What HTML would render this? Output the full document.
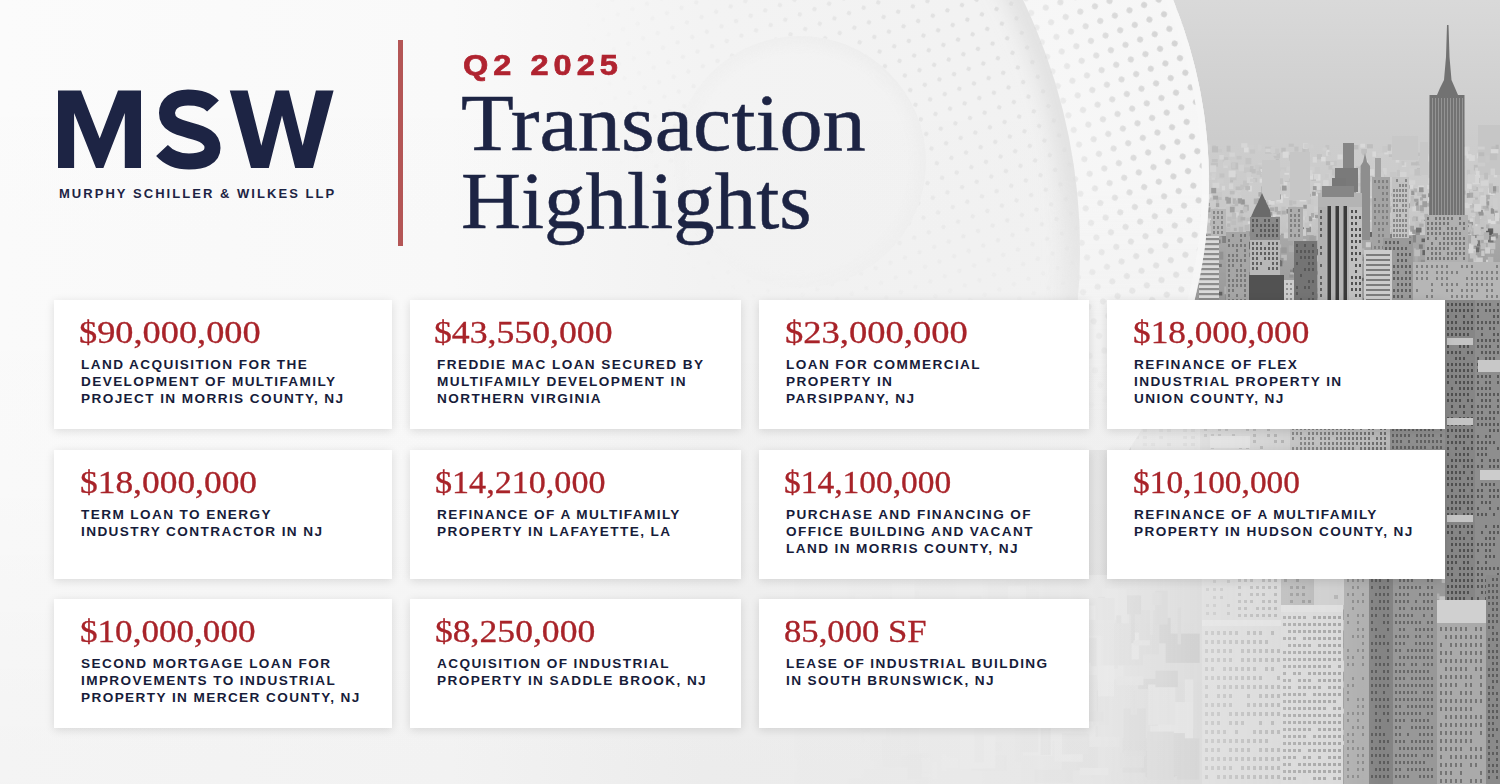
<!DOCTYPE html>
<html><head><meta charset="utf-8">
<style>
html,body{margin:0;padding:0;}
body{width:1500px;height:784px;overflow:hidden;position:relative;background:#f6f6f6;font-family:"Liberation Sans",sans-serif;}
#bg{position:absolute;left:0;top:0;width:1500px;height:784px;}
.abs{position:absolute;}
#msw{position:absolute;}
#firm{position:absolute;left:59px;top:186px;font-weight:bold;font-size:13px;letter-spacing:2.04px;color:#1d2444;white-space:nowrap;}
#rule{position:absolute;left:398px;top:40px;width:5px;height:206px;background:#b45656;}
#q2{position:absolute;left:463px;top:49px;font-weight:bold;font-size:29px;letter-spacing:4.5px;-webkit-text-stroke:0.7px #b02330;transform:scaleX(1.12);transform-origin:0 0;color:#b02330;white-space:nowrap;line-height:32px;}
#title{position:absolute;left:461px;top:84px;font-family:"Liberation Serif",serif;font-size:80px;line-height:78px;color:#1d2444;-webkit-text-stroke:0.5px #1d2444;white-space:nowrap;}
.card{position:absolute;background:#fff;box-shadow:0 2px 9px rgba(0,0,0,0.12);}
.amt{position:absolute;left:25px;top:16px;font-family:"Liberation Serif",serif;font-size:30.5px;transform-origin:0 0;line-height:34px;-webkit-text-stroke:0.3px #a82329;color:#a82329;white-space:nowrap;}
.desc{position:absolute;left:27px;top:56px;font-weight:bold;font-size:13.6px;line-height:17px;letter-spacing:1.4px;color:#171c3a;white-space:nowrap;}
</style></head>
<body>
<svg id="bg" width="1500" height="784" viewBox="0 0 1500 784"><defs>
<linearGradient id="basegrad" gradientUnits="userSpaceOnUse" x1="0" y1="0" x2="1500" y2="0">
 <stop offset="0" stop-color="#fbfbfb"/><stop offset="0.3" stop-color="#f9f9f9"/><stop offset="0.47" stop-color="#f3f3f3"/><stop offset="1" stop-color="#f0f0f0"/>
</linearGradient>
<linearGradient id="botgrad" x1="0" y1="0" x2="0" y2="1">
 <stop offset="0" stop-color="#000" stop-opacity="0"/><stop offset="0.6" stop-color="#000" stop-opacity="0.008"/><stop offset="1" stop-color="#000" stop-opacity="0.03"/>
</linearGradient>
<linearGradient id="skyg" x1="0" y1="0" x2="0" y2="1">
 <stop offset="0" stop-color="#d9d9d9"/><stop offset="0.5" stop-color="#d2d2d2"/><stop offset="1" stop-color="#cbcbcb"/>
</linearGradient>
<linearGradient id="haze" gradientUnits="userSpaceOnUse" x1="1000" y1="0" x2="1375" y2="0">
 <stop offset="0" stop-color="#ededed" stop-opacity="1"/>
 <stop offset="0.3" stop-color="#ebebeb" stop-opacity="0.8"/>
 <stop offset="0.7" stop-color="#e8e8e8" stop-opacity="0.35"/>
 <stop offset="1" stop-color="#e8e8e8" stop-opacity="0"/>
</linearGradient>
<linearGradient id="farg" x1="0" y1="0" x2="0" y2="1">
 <stop offset="0" stop-color="#cdcdcd"/><stop offset="0.6" stop-color="#cbcbcb"/><stop offset="1" stop-color="#bdbdbd"/>
</linearGradient>
<linearGradient id="midg" x1="0" y1="0" x2="0" y2="1">
 <stop offset="0" stop-color="#a8a8a8"/><stop offset="0.15" stop-color="#959595"/><stop offset="1" stop-color="#9c9c9c"/>
</linearGradient>
<radialGradient id="ring1" gradientUnits="userSpaceOnUse" cx="724" cy="183" r="485">
 <stop offset="0" stop-color="#f4f4f4"/><stop offset="0.75" stop-color="#f3f3f3"/><stop offset="0.97" stop-color="#f5f5f5"/><stop offset="1" stop-color="#f8f8f8"/>
</radialGradient>
<radialGradient id="dotfade" gradientUnits="userSpaceOnUse" cx="724" cy="183" r="485">
 <stop offset="0" stop-color="#fff" stop-opacity="0"/>
 <stop offset="0.62" stop-color="#fff" stop-opacity="0"/>
 <stop offset="0.85" stop-color="#fff" stop-opacity="0.75"/>
 <stop offset="1" stop-color="#fff" stop-opacity="1"/>
</radialGradient>
<linearGradient id="vfade" gradientUnits="userSpaceOnUse" x1="0" y1="180" x2="0" y2="420">
 <stop offset="0" stop-color="#fff" stop-opacity="1"/><stop offset="1" stop-color="#fff" stop-opacity="0"/>
</linearGradient>
<mask id="vmask" maskUnits="userSpaceOnUse" x="0" y="0" width="1500" height="784">
 <rect x="0" y="0" width="1500" height="784" fill="url(#vfade)"/>
</mask>
<mask id="dotmask" maskUnits="userSpaceOnUse" x="0" y="0" width="1500" height="784">
 <rect x="0" y="0" width="1500" height="784" fill="url(#dotfade)"/>
</mask>
<linearGradient id="cityfade" gradientUnits="userSpaceOnUse" x1="760" y1="0" x2="1380" y2="0">
 <stop offset="0" stop-color="#fff" stop-opacity="0"/>
 <stop offset="0.387" stop-color="#fff" stop-opacity="0.07"/>
 <stop offset="0.548" stop-color="#fff" stop-opacity="0.14"/>
 <stop offset="0.71" stop-color="#fff" stop-opacity="0.42"/>
 <stop offset="0.87" stop-color="#fff" stop-opacity="0.8"/>
 <stop offset="1" stop-color="#fff" stop-opacity="1"/>
</linearGradient>
<mask id="citymask" maskUnits="userSpaceOnUse" x="0" y="0" width="1500" height="784">
 <rect x="0" y="0" width="1500" height="420" fill="#fff"/>
 <rect x="0" y="420" width="1500" height="364" fill="url(#cityfade)"/>
 <circle cx="724" cy="183" r="485" fill="#000"/>
 <rect x="0" y="450" width="1500" height="334" fill="#000"/>
 <rect x="0" y="450" width="1500" height="334" fill="url(#cityfade)"/>
</mask>
<pattern id="dots" patternUnits="userSpaceOnUse" width="22" height="22" patternTransform="rotate(25)">
 <circle cx="5" cy="5" r="3" fill="#d2d2d2"/><circle cx="16" cy="16" r="3" fill="#d2d2d2"/>
</pattern>
<pattern id="dots2" patternUnits="userSpaceOnUse" width="22" height="22" patternTransform="rotate(25)">
 <circle cx="5" cy="5" r="2.2" fill="#dedede"/><circle cx="16" cy="16" r="2.2" fill="#dedede"/>
</pattern>
<radialGradient id="dotfade2" gradientUnits="userSpaceOnUse" cx="1000" cy="0" r="420">
 <stop offset="0" stop-color="#fff" stop-opacity="1"/><stop offset="1" stop-color="#fff" stop-opacity="0"/>
</radialGradient>
<mask id="dotmask2" maskUnits="userSpaceOnUse" x="0" y="0" width="1500" height="784">
 <rect x="0" y="0" width="1500" height="784" fill="url(#dotfade2)"/>
</mask>
<clipPath id="c1"><circle cx="724" cy="183" r="485"/></clipPath>
<clipPath id="cityclip"><path clip-rule="evenodd" d="M0 0H1500V784H0zM724 -302a485 485 0 1 0 0.01 0z"/><rect x="0" y="440" width="1500" height="344"/></clipPath>
<clipPath id="c2"><circle cx="560" cy="220" r="513"/></clipPath>
<clipPath id="c2in"><circle cx="503" cy="250" r="577"/></clipPath>
<clipPath id="noc3"><path clip-rule="evenodd" d="M0 0H1500V784H0zM800 36a126 126 0 1 0 0.01 0z"/></clipPath>
<clipPath id="c3in"><circle cx="800" cy="162" r="126"/></clipPath>
<clipPath id="ringclip"><path clip-rule="evenodd" d="M724 -302a485 485 0 1 0 0.01 0zM503 -327a577 577 0 1 0 0.01 0z"/></clipPath>
<linearGradient id="c2sg" gradientUnits="userSpaceOnUse" x1="700" y1="0" x2="1000" y2="0">
 <stop offset="0" stop-color="#fff" stop-opacity="0"/><stop offset="1" stop-color="#fff" stop-opacity="1"/>
</linearGradient>
<mask id="c2smask" maskUnits="userSpaceOnUse" x="0" y="0" width="1500" height="784">
 <rect x="0" y="0" width="1500" height="784" fill="url(#c2sg)"/>
</mask>
<linearGradient id="c3g" gradientUnits="userSpaceOnUse" x1="700" y1="250" x2="900" y2="50">
 <stop offset="0" stop-color="#fff" stop-opacity="0"/><stop offset="1" stop-color="#fff" stop-opacity="1"/>
</linearGradient>
<mask id="c3mask" maskUnits="userSpaceOnUse" x="0" y="0" width="1500" height="784">
 <rect x="0" y="0" width="1500" height="784" fill="url(#c3g)"/>
</mask>
<filter id="soft2" x="-10%" y="-10%" width="120%" height="120%"><feGaussianBlur stdDeviation="9"/></filter>
<filter id="soft" x="-10%" y="-10%" width="120%" height="120%"><feGaussianBlur stdDeviation="6"/></filter>
<filter id="blur1"><feGaussianBlur stdDeviation="0.6"/></filter>
</defs>
<rect x="0" y="0" width="1500" height="784" fill="url(#basegrad)"/>
<rect x="0" y="0" width="1500" height="784" fill="url(#botgrad)"/>
<g><g id="city" mask="url(#citymask)">
<rect x="900" y="0" width="600" height="150" fill="url(#skyg)"/>
<rect x="900" y="140" width="600" height="110" fill="url(#farg)"/>
<rect x="1392.5" y="150.1" width="4.3" height="3.6" fill="#cdcdcd"/>
<rect x="1350.0" y="146.7" width="4.5" height="3.2" fill="#cacaca"/>
<rect x="1326.0" y="224.6" width="3.3" height="3.4" fill="#c0c0c0"/>
<rect x="1480.6" y="198.7" width="3.9" height="5.5" fill="#c9c9c9"/>
<rect x="1451.6" y="171.6" width="6.9" height="3.2" fill="#c1c1c1"/>
<rect x="1442.0" y="160.7" width="3.5" height="4.2" fill="#cfcfcf"/>
<rect x="1361.3" y="149.1" width="5.6" height="4.5" fill="#bebebe"/>
<rect x="1326.6" y="173.2" width="3.8" height="5.7" fill="#cfcfcf"/>
<rect x="1434.5" y="211.4" width="4.8" height="4.2" fill="#c4c4c4"/>
<rect x="1457.9" y="213.7" width="5.3" height="5.1" fill="#c5c5c5"/>
<rect x="1322.5" y="217.6" width="6.9" height="3.5" fill="#c1c1c1"/>
<rect x="1397.2" y="218.6" width="5.0" height="3.2" fill="#cecece"/>
<rect x="1404.1" y="201.1" width="6.5" height="4.3" fill="#cfcfcf"/>
<rect x="1478.8" y="188.3" width="4.8" height="6.4" fill="#d1d1d1"/>
<rect x="1392.0" y="238.5" width="3.2" height="5.8" fill="#d6d6d6"/>
<rect x="1397.8" y="145.2" width="4.1" height="4.5" fill="#cbcbcb"/>
<rect x="1217.5" y="218.7" width="3.7" height="3.5" fill="#c0c0c0"/>
<rect x="1457.9" y="150.9" width="4.0" height="4.6" fill="#cacaca"/>
<rect x="1441.5" y="225.5" width="5.2" height="6.5" fill="#c5c5c5"/>
<rect x="1461.1" y="236.4" width="4.7" height="4.4" fill="#c1c1c1"/>
<rect x="1269.1" y="190.6" width="3.7" height="3.9" fill="#cfcfcf"/>
<rect x="1324.0" y="179.6" width="4.1" height="3.0" fill="#cecece"/>
<rect x="1351.1" y="202.4" width="6.8" height="5.8" fill="#d2d2d2"/>
<rect x="1431.5" y="226.4" width="3.2" height="6.6" fill="#d6d6d6"/>
<rect x="1230.6" y="204.8" width="4.6" height="4.6" fill="#bebebe"/>
<rect x="1248.2" y="176.4" width="3.3" height="3.8" fill="#bebebe"/>
<rect x="1230.1" y="178.8" width="3.0" height="3.6" fill="#bdbdbd"/>
<rect x="1243.6" y="167.4" width="6.5" height="5.5" fill="#c7c7c7"/>
<rect x="1450.9" y="240.8" width="4.5" height="3.5" fill="#cbcbcb"/>
<rect x="1230.2" y="176.8" width="4.9" height="3.3" fill="#c4c4c4"/>
<rect x="1206.8" y="236.5" width="6.3" height="3.6" fill="#cdcdcd"/>
<rect x="1208.0" y="194.1" width="3.6" height="5.2" fill="#dbdbdb"/>
<rect x="1276.6" y="178.3" width="6.5" height="5.8" fill="#c1c1c1"/>
<rect x="1429.0" y="174.9" width="6.1" height="5.1" fill="#c3c3c3"/>
<rect x="1450.5" y="219.6" width="6.2" height="6.9" fill="#d6d6d6"/>
<rect x="1352.2" y="177.9" width="6.0" height="3.9" fill="#bdbdbd"/>
<rect x="1276.9" y="210.8" width="3.1" height="4.1" fill="#dbdbdb"/>
<rect x="1491.7" y="234.0" width="4.8" height="6.7" fill="#c8c8c8"/>
<rect x="1258.2" y="163.0" width="3.9" height="3.9" fill="#d0d0d0"/>
<rect x="1340.7" y="205.4" width="6.6" height="6.4" fill="#d6d6d6"/>
<rect x="1469.9" y="218.4" width="3.3" height="5.6" fill="#d4d4d4"/>
<rect x="1432.9" y="175.7" width="4.9" height="3.7" fill="#d6d6d6"/>
<rect x="1317.7" y="235.2" width="6.9" height="4.6" fill="#d3d3d3"/>
<rect x="1244.8" y="232.1" width="3.7" height="3.5" fill="#d6d6d6"/>
<rect x="1490.6" y="205.9" width="3.6" height="6.3" fill="#c7c7c7"/>
<rect x="1204.2" y="238.6" width="5.2" height="3.5" fill="#d1d1d1"/>
<rect x="1327.9" y="226.0" width="5.1" height="6.7" fill="#d6d6d6"/>
<rect x="1286.8" y="166.6" width="3.8" height="4.0" fill="#cfcfcf"/>
<rect x="1238.8" y="231.6" width="4.0" height="4.7" fill="#c7c7c7"/>
<rect x="1466.9" y="183.7" width="4.8" height="5.3" fill="#d9d9d9"/>
<rect x="1354.4" y="144.8" width="5.0" height="5.1" fill="#cacaca"/>
<rect x="1436.8" y="160.1" width="3.7" height="3.0" fill="#cbcbcb"/>
<rect x="1295.9" y="193.2" width="5.9" height="5.2" fill="#cecece"/>
<rect x="1364.7" y="167.5" width="6.1" height="3.4" fill="#c5c5c5"/>
<rect x="1365.1" y="216.7" width="6.1" height="5.0" fill="#d9d9d9"/>
<rect x="1349.3" y="192.4" width="4.8" height="5.5" fill="#d2d2d2"/>
<rect x="1341.1" y="234.2" width="4.8" height="5.1" fill="#d2d2d2"/>
<rect x="1276.2" y="196.3" width="6.5" height="6.8" fill="#dadada"/>
<rect x="1235.7" y="186.5" width="6.4" height="3.5" fill="#bebebe"/>
<rect x="1398.2" y="220.4" width="4.0" height="3.3" fill="#d9d9d9"/>
<rect x="1395.7" y="156.7" width="3.6" height="5.9" fill="#d8d8d8"/>
<rect x="1479.2" y="182.1" width="6.9" height="3.9" fill="#cccccc"/>
<rect x="1247.3" y="184.3" width="7.0" height="6.3" fill="#cccccc"/>
<rect x="1294.2" y="213.9" width="4.4" height="3.8" fill="#bdbdbd"/>
<rect x="1205.3" y="175.2" width="5.2" height="4.8" fill="#d0d0d0"/>
<rect x="1490.6" y="220.8" width="5.0" height="3.3" fill="#dbdbdb"/>
<rect x="1211.7" y="219.3" width="3.4" height="4.1" fill="#c5c5c5"/>
<rect x="1470.2" y="222.7" width="3.5" height="4.7" fill="#c4c4c4"/>
<rect x="1369.1" y="209.8" width="3.6" height="6.7" fill="#bfbfbf"/>
<rect x="1326.2" y="150.0" width="3.2" height="5.8" fill="#dadada"/>
<rect x="1224.7" y="225.0" width="5.5" height="6.2" fill="#bebebe"/>
<rect x="1299.6" y="196.7" width="6.5" height="4.8" fill="#dadada"/>
<rect x="1355.9" y="166.5" width="4.1" height="3.5" fill="#c0c0c0"/>
<rect x="1259.8" y="173.8" width="3.6" height="3.2" fill="#c6c6c6"/>
<rect x="1347.0" y="160.4" width="6.0" height="4.2" fill="#c7c7c7"/>
<rect x="1204.6" y="214.8" width="3.1" height="4.0" fill="#cecece"/>
<rect x="1476.9" y="153.3" width="3.8" height="4.9" fill="#d6d6d6"/>
<rect x="1446.4" y="181.1" width="4.7" height="5.0" fill="#cccccc"/>
<rect x="1300.8" y="222.1" width="5.8" height="6.9" fill="#d3d3d3"/>
<rect x="1302.3" y="148.3" width="5.5" height="4.6" fill="#c0c0c0"/>
<rect x="1275.8" y="158.7" width="3.3" height="6.0" fill="#bfbfbf"/>
<rect x="1396.9" y="169.9" width="6.4" height="6.5" fill="#c4c4c4"/>
<rect x="1246.6" y="186.3" width="4.2" height="4.8" fill="#c4c4c4"/>
<rect x="1360.4" y="166.2" width="6.8" height="6.9" fill="#dbdbdb"/>
<rect x="1200.3" y="180.2" width="4.2" height="4.4" fill="#cbcbcb"/>
<rect x="1348.9" y="143.5" width="5.0" height="3.8" fill="#c4c4c4"/>
<rect x="1212.4" y="145.2" width="3.4" height="4.6" fill="#c6c6c6"/>
<rect x="1356.7" y="215.5" width="3.9" height="5.3" fill="#d1d1d1"/>
<rect x="1314.6" y="174.1" width="5.9" height="6.5" fill="#dcdcdc"/>
<rect x="1390.7" y="147.2" width="3.6" height="5.9" fill="#d7d7d7"/>
<rect x="1415.3" y="221.4" width="6.6" height="5.5" fill="#c0c0c0"/>
<rect x="1446.2" y="221.0" width="5.1" height="5.0" fill="#d6d6d6"/>
<rect x="1401.2" y="209.2" width="5.3" height="6.6" fill="#c3c3c3"/>
<rect x="1307.1" y="153.3" width="3.1" height="3.5" fill="#d7d7d7"/>
<rect x="1384.6" y="208.7" width="5.2" height="5.5" fill="#cccccc"/>
<rect x="1422.2" y="191.2" width="3.0" height="6.2" fill="#cdcdcd"/>
<rect x="1416.9" y="167.9" width="5.6" height="3.3" fill="#bebebe"/>
<rect x="1260.7" y="214.1" width="4.1" height="5.9" fill="#dbdbdb"/>
<rect x="1341.3" y="209.6" width="5.0" height="4.5" fill="#d5d5d5"/>
<rect x="1222.8" y="157.2" width="5.5" height="5.6" fill="#c4c4c4"/>
<rect x="1366.9" y="144.2" width="6.0" height="4.2" fill="#bebebe"/>
<rect x="1404.8" y="208.1" width="4.1" height="5.7" fill="#c5c5c5"/>
<rect x="1337.5" y="154.5" width="5.1" height="4.9" fill="#d9d9d9"/>
<rect x="1477.3" y="144.7" width="3.8" height="6.9" fill="#cbcbcb"/>
<rect x="1332.0" y="168.6" width="6.3" height="6.9" fill="#c3c3c3"/>
<rect x="1370.5" y="156.9" width="6.8" height="3.8" fill="#cdcdcd"/>
<rect x="1440.5" y="193.1" width="6.8" height="3.5" fill="#d8d8d8"/>
<rect x="1464.1" y="190.7" width="5.8" height="3.9" fill="#bdbdbd"/>
<rect x="1333.9" y="172.3" width="3.0" height="5.0" fill="#c1c1c1"/>
<rect x="1448.4" y="143.2" width="4.4" height="4.3" fill="#d4d4d4"/>
<rect x="1472.0" y="213.2" width="6.4" height="3.5" fill="#d9d9d9"/>
<rect x="1316.2" y="240.4" width="4.2" height="4.5" fill="#cfcfcf"/>
<rect x="1281.3" y="147.7" width="4.4" height="4.7" fill="#bfbfbf"/>
<rect x="1474.7" y="167.4" width="6.3" height="4.1" fill="#c5c5c5"/>
<rect x="1310.1" y="236.9" width="5.0" height="3.8" fill="#d8d8d8"/>
<rect x="1468.3" y="233.8" width="6.2" height="5.5" fill="#cecece"/>
<rect x="1415.4" y="187.5" width="5.9" height="3.2" fill="#d4d4d4"/>
<rect x="1214.4" y="233.7" width="5.6" height="4.1" fill="#c0c0c0"/>
<rect x="1287.9" y="215.1" width="4.9" height="4.4" fill="#dbdbdb"/>
<rect x="1289.0" y="196.7" width="4.0" height="5.6" fill="#c9c9c9"/>
<rect x="1261.6" y="232.1" width="3.7" height="3.6" fill="#cccccc"/>
<rect x="1495.1" y="185.9" width="3.9" height="6.6" fill="#c0c0c0"/>
<rect x="1301.3" y="152.0" width="3.8" height="3.4" fill="#c4c4c4"/>
<rect x="1462.6" y="215.5" width="4.0" height="5.3" fill="#c9c9c9"/>
<rect x="1311.3" y="175.8" width="4.7" height="5.1" fill="#bebebe"/>
<rect x="1237.2" y="190.9" width="4.1" height="6.9" fill="#d0d0d0"/>
<rect x="1279.6" y="167.4" width="6.5" height="3.9" fill="#c9c9c9"/>
<rect x="1450.5" y="226.1" width="4.8" height="6.8" fill="#bdbdbd"/>
<rect x="1465.9" y="188.5" width="3.1" height="5.8" fill="#cfcfcf"/>
<rect x="1475.3" y="223.4" width="3.0" height="4.6" fill="#d7d7d7"/>
<rect x="1232.0" y="158.1" width="6.9" height="4.0" fill="#cdcdcd"/>
<rect x="1412.4" y="204.6" width="5.7" height="6.8" fill="#d4d4d4"/>
<rect x="1211.7" y="218.7" width="4.8" height="5.2" fill="#c3c3c3"/>
<rect x="1289.1" y="155.3" width="6.7" height="5.6" fill="#c4c4c4"/>
<rect x="1233.0" y="149.8" width="5.5" height="5.8" fill="#cdcdcd"/>
<rect x="1265.9" y="201.6" width="5.3" height="4.6" fill="#bcbcbc"/>
<rect x="1483.6" y="205.6" width="4.2" height="4.8" fill="#d8d8d8"/>
<rect x="1272.9" y="237.2" width="4.9" height="3.9" fill="#d3d3d3"/>
<rect x="1347.4" y="209.7" width="4.2" height="3.1" fill="#c9c9c9"/>
<rect x="1473.8" y="164.8" width="4.0" height="5.7" fill="#bdbdbd"/>
<rect x="1401.8" y="162.3" width="4.4" height="4.7" fill="#d6d6d6"/>
<rect x="1260.3" y="237.1" width="6.0" height="5.0" fill="#c6c6c6"/>
<rect x="1265.0" y="217.6" width="6.3" height="3.9" fill="#c5c5c5"/>
<rect x="1254.9" y="164.7" width="6.8" height="5.0" fill="#c9c9c9"/>
<rect x="1243.1" y="180.5" width="5.7" height="6.8" fill="#c3c3c3"/>
<rect x="1215.2" y="148.9" width="6.9" height="3.6" fill="#c9c9c9"/>
<rect x="1415.0" y="238.2" width="6.6" height="6.5" fill="#dadada"/>
<rect x="1476.7" y="216.3" width="4.3" height="3.7" fill="#bdbdbd"/>
<rect x="1310.0" y="175.3" width="5.7" height="4.5" fill="#c1c1c1"/>
<rect x="1304.4" y="236.5" width="3.0" height="4.1" fill="#c0c0c0"/>
<rect x="1304.5" y="223.7" width="6.9" height="3.8" fill="#d6d6d6"/>
<rect x="1339.8" y="179.8" width="4.7" height="3.2" fill="#d9d9d9"/>
<rect x="1465.7" y="146.0" width="3.8" height="4.5" fill="#c9c9c9"/>
<rect x="1211.9" y="146.3" width="6.2" height="6.1" fill="#bebebe"/>
<rect x="1419.2" y="231.0" width="6.7" height="4.0" fill="#c7c7c7"/>
<rect x="1382.6" y="168.0" width="4.1" height="6.8" fill="#d3d3d3"/>
<rect x="1201.1" y="217.0" width="4.3" height="4.1" fill="#d9d9d9"/>
<rect x="1207.1" y="165.3" width="5.5" height="6.8" fill="#cbcbcb"/>
<rect x="1313.3" y="166.9" width="6.8" height="6.8" fill="#cacaca"/>
<rect x="1254.0" y="219.5" width="5.0" height="6.7" fill="#d4d4d4"/>
<rect x="1378.4" y="174.4" width="6.3" height="6.1" fill="#c6c6c6"/>
<rect x="1223.4" y="161.9" width="4.4" height="6.1" fill="#d4d4d4"/>
<rect x="1210.0" y="197.6" width="4.0" height="3.3" fill="#c6c6c6"/>
<rect x="1489.5" y="168.3" width="6.9" height="6.5" fill="#bfbfbf"/>
<rect x="1410.5" y="186.4" width="3.4" height="5.0" fill="#c3c3c3"/>
<rect x="1399.1" y="215.2" width="4.7" height="5.5" fill="#d7d7d7"/>
<rect x="1447.5" y="171.9" width="5.7" height="3.5" fill="#cecece"/>
<rect x="1258.9" y="166.8" width="4.5" height="6.0" fill="#c4c4c4"/>
<rect x="1371.4" y="174.2" width="3.6" height="6.5" fill="#c9c9c9"/>
<rect x="1267.8" y="221.4" width="7.0" height="5.0" fill="#d1d1d1"/>
<rect x="1339.1" y="223.8" width="7.0" height="3.4" fill="#d7d7d7"/>
<rect x="1286.1" y="154.8" width="6.7" height="3.2" fill="#c2c2c2"/>
<rect x="1472.6" y="179.0" width="6.9" height="5.3" fill="#d8d8d8"/>
<rect x="1429.6" y="235.6" width="4.8" height="4.0" fill="#bfbfbf"/>
<rect x="1264.1" y="178.6" width="5.4" height="5.5" fill="#c1c1c1"/>
<rect x="1377.5" y="206.8" width="3.8" height="4.0" fill="#c3c3c3"/>
<rect x="1401.4" y="161.1" width="3.0" height="4.3" fill="#c6c6c6"/>
<rect x="1362.3" y="149.1" width="3.8" height="6.2" fill="#bfbfbf"/>
<rect x="1388.8" y="151.8" width="4.6" height="5.2" fill="#c1c1c1"/>
<rect x="1283.4" y="172.9" width="5.8" height="4.6" fill="#dbdbdb"/>
<rect x="1305.6" y="183.3" width="4.2" height="5.3" fill="#d8d8d8"/>
<rect x="1257.8" y="214.0" width="7.0" height="4.5" fill="#c3c3c3"/>
<rect x="1325.8" y="221.3" width="3.0" height="6.6" fill="#c9c9c9"/>
<rect x="1247.7" y="144.4" width="6.5" height="4.8" fill="#cecece"/>
<rect x="1226.2" y="202.3" width="5.6" height="6.6" fill="#c8c8c8"/>
<rect x="1283.6" y="194.3" width="5.0" height="3.6" fill="#dadada"/>
<rect x="1438.7" y="236.8" width="3.4" height="5.0" fill="#c2c2c2"/>
<rect x="1489.2" y="189.0" width="3.5" height="6.8" fill="#bebebe"/>
<rect x="1465.2" y="203.5" width="6.7" height="4.6" fill="#d6d6d6"/>
<rect x="1265.8" y="181.8" width="3.6" height="6.1" fill="#d7d7d7"/>
<rect x="1264.1" y="182.3" width="6.3" height="3.7" fill="#cdcdcd"/>
<rect x="1273.0" y="214.4" width="4.5" height="3.5" fill="#d9d9d9"/>
<rect x="1424.8" y="146.7" width="3.2" height="5.2" fill="#d7d7d7"/>
<rect x="1363.1" y="203.6" width="3.5" height="5.4" fill="#c6c6c6"/>
<rect x="1325.7" y="206.7" width="4.7" height="5.3" fill="#cacaca"/>
<rect x="1382.7" y="191.4" width="4.8" height="3.1" fill="#c4c4c4"/>
<rect x="1334.7" y="160.2" width="6.1" height="6.1" fill="#cbcbcb"/>
<rect x="1327.7" y="152.0" width="3.4" height="3.5" fill="#cacaca"/>
<rect x="1387.7" y="151.1" width="5.0" height="3.2" fill="#d3d3d3"/>
<rect x="1215.9" y="191.9" width="6.1" height="5.0" fill="#c8c8c8"/>
<rect x="1451.3" y="241.1" width="6.8" height="3.5" fill="#d3d3d3"/>
<rect x="1488.4" y="191.3" width="6.3" height="3.8" fill="#dbdbdb"/>
<rect x="1431.3" y="234.5" width="6.7" height="3.7" fill="#bebebe"/>
<rect x="1246.9" y="229.0" width="4.4" height="6.0" fill="#c5c5c5"/>
<rect x="1347.5" y="233.5" width="6.3" height="3.6" fill="#c3c3c3"/>
<rect x="1294.4" y="146.6" width="4.1" height="5.0" fill="#c2c2c2"/>
<rect x="1401.4" y="228.3" width="3.6" height="6.7" fill="#c1c1c1"/>
<rect x="1356.0" y="205.7" width="6.1" height="3.5" fill="#c8c8c8"/>
<rect x="1370.2" y="228.4" width="6.5" height="5.2" fill="#bfbfbf"/>
<rect x="1315.5" y="220.0" width="7.0" height="5.5" fill="#c4c4c4"/>
<rect x="1305.6" y="216.9" width="7.0" height="5.3" fill="#cacaca"/>
<rect x="1214.3" y="221.7" width="3.7" height="6.0" fill="#c4c4c4"/>
<rect x="1372.5" y="206.1" width="5.6" height="6.9" fill="#c6c6c6"/>
<rect x="1244.4" y="203.9" width="3.0" height="3.1" fill="#cacaca"/>
<rect x="1238.9" y="164.7" width="5.1" height="6.6" fill="#d1d1d1"/>
<rect x="1305.4" y="153.5" width="3.1" height="3.0" fill="#c7c7c7"/>
<rect x="1374.4" y="162.7" width="3.9" height="5.3" fill="#d0d0d0"/>
<rect x="1476.4" y="167.0" width="4.9" height="3.5" fill="#c1c1c1"/>
<rect x="1458.4" y="218.4" width="3.4" height="5.6" fill="#c9c9c9"/>
<rect x="1390.9" y="198.6" width="4.1" height="3.0" fill="#c7c7c7"/>
<rect x="1475.9" y="214.3" width="5.6" height="4.8" fill="#c4c4c4"/>
<rect x="1355.9" y="183.1" width="6.6" height="3.2" fill="#c4c4c4"/>
<rect x="1203.7" y="195.8" width="3.2" height="6.1" fill="#dadada"/>
<rect x="1380.3" y="192.8" width="3.6" height="3.8" fill="#d1d1d1"/>
<rect x="1290.9" y="172.5" width="6.3" height="3.7" fill="#bebebe"/>
<rect x="1409.9" y="143.6" width="6.6" height="6.1" fill="#d7d7d7"/>
<rect x="1418.1" y="187.0" width="6.0" height="4.9" fill="#c3c3c3"/>
<rect x="1211.5" y="175.9" width="3.4" height="3.9" fill="#d4d4d4"/>
<rect x="1409.4" y="168.4" width="5.8" height="6.4" fill="#cecece"/>
<rect x="1354.5" y="168.4" width="4.7" height="6.2" fill="#d1d1d1"/>
<rect x="1458.0" y="144.5" width="6.9" height="3.9" fill="#c4c4c4"/>
<rect x="1479.7" y="214.6" width="3.9" height="6.0" fill="#c6c6c6"/>
<rect x="1270.2" y="231.7" width="6.5" height="4.3" fill="#d0d0d0"/>
<rect x="1488.1" y="188.2" width="5.8" height="5.7" fill="#d7d7d7"/>
<rect x="1328.6" y="212.3" width="5.8" height="6.4" fill="#cecece"/>
<rect x="1384.2" y="150.6" width="4.2" height="3.8" fill="#d9d9d9"/>
<rect x="1231.6" y="234.9" width="3.6" height="3.1" fill="#c7c7c7"/>
<rect x="1212.3" y="211.5" width="3.6" height="3.1" fill="#d0d0d0"/>
<rect x="1219.3" y="199.7" width="5.8" height="5.9" fill="#c8c8c8"/>
<rect x="1461.8" y="149.3" width="6.3" height="6.3" fill="#d8d8d8"/>
<rect x="1231.4" y="162.6" width="6.7" height="6.8" fill="#c0c0c0"/>
<rect x="1441.1" y="203.6" width="3.1" height="6.4" fill="#d6d6d6"/>
<rect x="1229.4" y="152.6" width="5.5" height="4.1" fill="#d4d4d4"/>
<rect x="1325.5" y="145.0" width="3.8" height="4.3" fill="#c4c4c4"/>
<rect x="1308.9" y="173.8" width="4.1" height="5.9" fill="#dbdbdb"/>
<rect x="1382.4" y="146.0" width="5.0" height="6.4" fill="#c9c9c9"/>
<rect x="1302.4" y="210.6" width="4.7" height="6.1" fill="#cdcdcd"/>
<rect x="1226.9" y="221.3" width="3.9" height="6.4" fill="#c1c1c1"/>
<rect x="1426.4" y="239.0" width="3.0" height="3.8" fill="#bcbcbc"/>
<rect x="1435.1" y="160.9" width="5.0" height="5.0" fill="#cccccc"/>
<rect x="1277.0" y="233.3" width="4.4" height="6.3" fill="#c5c5c5"/>
<rect x="1347.6" y="153.6" width="3.9" height="5.8" fill="#d0d0d0"/>
<rect x="1406.8" y="218.4" width="3.3" height="6.2" fill="#d0d0d0"/>
<rect x="1316.6" y="229.7" width="4.4" height="4.6" fill="#bfbfbf"/>
<rect x="1260.5" y="169.0" width="6.6" height="3.1" fill="#d9d9d9"/>
<rect x="1460.8" y="165.8" width="5.0" height="4.5" fill="#cbcbcb"/>
<rect x="1422.0" y="205.0" width="5.1" height="6.0" fill="#c7c7c7"/>
<rect x="1449.3" y="208.1" width="4.3" height="3.6" fill="#d4d4d4"/>
<rect x="1429.2" y="199.3" width="3.7" height="4.8" fill="#c0c0c0"/>
<rect x="1270.2" y="161.3" width="4.8" height="6.5" fill="#c6c6c6"/>
<rect x="1245.5" y="157.9" width="5.8" height="6.4" fill="#c4c4c4"/>
<rect x="1247.6" y="174.8" width="4.3" height="5.1" fill="#c2c2c2"/>
<rect x="1229.8" y="235.5" width="6.9" height="5.9" fill="#bfbfbf"/>
<rect x="1434.9" y="212.7" width="4.5" height="6.9" fill="#cacaca"/>
<rect x="1231.7" y="162.9" width="3.8" height="5.6" fill="#c8c8c8"/>
<rect x="1434.8" y="210.5" width="3.1" height="4.6" fill="#cccccc"/>
<rect x="1241.8" y="201.6" width="5.5" height="4.9" fill="#c9c9c9"/>
<rect x="1326.4" y="197.7" width="6.0" height="6.6" fill="#d4d4d4"/>
<rect x="1413.3" y="229.3" width="4.7" height="3.9" fill="#d5d5d5"/>
<rect x="1399.9" y="204.3" width="5.8" height="6.4" fill="#cbcbcb"/>
<rect x="1228.9" y="183.5" width="4.3" height="5.5" fill="#d5d5d5"/>
<rect x="1273.6" y="183.9" width="5.9" height="5.5" fill="#cbcbcb"/>
<rect x="1398.9" y="233.6" width="5.5" height="4.6" fill="#c2c2c2"/>
<rect x="1314.4" y="190.0" width="5.6" height="6.1" fill="#dbdbdb"/>
<rect x="1247.7" y="218.7" width="3.2" height="5.2" fill="#dadada"/>
<rect x="1369.5" y="196.3" width="5.1" height="3.4" fill="#d3d3d3"/>
<rect x="1444.5" y="193.3" width="5.0" height="5.6" fill="#c9c9c9"/>
<rect x="1400.7" y="181.5" width="6.8" height="3.8" fill="#d4d4d4"/>
<rect x="1305.4" y="148.4" width="3.5" height="6.9" fill="#c5c5c5"/>
<rect x="1323.6" y="184.6" width="4.6" height="3.1" fill="#d2d2d2"/>
<rect x="1266.3" y="215.6" width="4.4" height="4.1" fill="#dadada"/>
<rect x="1436.4" y="181.5" width="5.1" height="3.9" fill="#c3c3c3"/>
<rect x="1440.0" y="203.8" width="3.5" height="6.1" fill="#cbcbcb"/>
<rect x="1484.1" y="177.6" width="5.2" height="3.9" fill="#d0d0d0"/>
<rect x="1337.5" y="171.2" width="6.3" height="6.3" fill="#cecece"/>
<rect x="1305.2" y="224.4" width="3.5" height="6.3" fill="#c5c5c5"/>
<rect x="1325.9" y="161.2" width="4.5" height="4.0" fill="#bcbcbc"/>
<rect x="1272.0" y="172.5" width="5.9" height="4.1" fill="#cbcbcb"/>
<rect x="1394.7" y="178.0" width="4.7" height="5.5" fill="#dadada"/>
<rect x="1443.1" y="232.5" width="6.4" height="3.2" fill="#d5d5d5"/>
<rect x="1387.7" y="144.4" width="3.6" height="6.3" fill="#bcbcbc"/>
<rect x="1273.3" y="152.8" width="6.8" height="5.6" fill="#c1c1c1"/>
<rect x="1302.6" y="157.6" width="3.9" height="6.1" fill="#d9d9d9"/>
<rect x="1461.8" y="202.8" width="6.2" height="3.7" fill="#d5d5d5"/>
<rect x="1432.0" y="223.0" width="5.7" height="6.6" fill="#c2c2c2"/>
<rect x="1418.3" y="185.5" width="5.8" height="5.1" fill="#d8d8d8"/>
<rect x="1269.0" y="156.6" width="5.2" height="4.1" fill="#cccccc"/>
<rect x="1242.9" y="190.7" width="3.2" height="4.9" fill="#cccccc"/>
<rect x="1201.9" y="223.3" width="5.2" height="6.5" fill="#cbcbcb"/>
<rect x="1447.8" y="179.1" width="5.3" height="5.7" fill="#c9c9c9"/>
<rect x="1386.8" y="205.8" width="6.8" height="3.3" fill="#bdbdbd"/>
<rect x="1474.4" y="174.8" width="5.4" height="5.7" fill="#dbdbdb"/>
<rect x="1464.7" y="146.3" width="5.0" height="4.9" fill="#d3d3d3"/>
<rect x="1453.8" y="178.8" width="5.5" height="4.4" fill="#cbcbcb"/>
<rect x="1262.1" y="184.7" width="5.1" height="6.1" fill="#cacaca"/>
<rect x="1286.3" y="222.2" width="5.2" height="6.3" fill="#c9c9c9"/>
<rect x="1349.4" y="238.5" width="5.0" height="4.1" fill="#d1d1d1"/>
<rect x="1293.2" y="172.2" width="6.2" height="4.3" fill="#cfcfcf"/>
<rect x="1211.8" y="212.3" width="5.5" height="6.1" fill="#d8d8d8"/>
<rect x="1288.6" y="143.6" width="5.2" height="3.2" fill="#c2c2c2"/>
<rect x="1393.0" y="219.2" width="6.7" height="5.4" fill="#d9d9d9"/>
<rect x="1384.6" y="210.2" width="5.4" height="5.5" fill="#cfcfcf"/>
<rect x="1396.3" y="187.9" width="5.7" height="3.9" fill="#d4d4d4"/>
<rect x="1211.0" y="219.1" width="3.4" height="3.7" fill="#d9d9d9"/>
<rect x="1442.2" y="219.7" width="5.6" height="4.5" fill="#cecece"/>
<rect x="1324.8" y="174.1" width="4.0" height="4.2" fill="#cacaca"/>
<rect x="1216.1" y="197.1" width="5.6" height="6.7" fill="#bdbdbd"/>
<rect x="1370.6" y="231.0" width="3.5" height="6.2" fill="#cacaca"/>
<rect x="1375.8" y="234.4" width="3.1" height="4.5" fill="#dbdbdb"/>
<rect x="1230.1" y="205.7" width="4.9" height="4.6" fill="#c3c3c3"/>
<rect x="1201.4" y="210.6" width="3.6" height="3.1" fill="#c0c0c0"/>
<rect x="1454.9" y="155.7" width="6.9" height="3.4" fill="#bdbdbd"/>
<rect x="1415.8" y="161.4" width="5.9" height="4.0" fill="#bebebe"/>
<rect x="1451.4" y="213.2" width="6.1" height="5.9" fill="#bfbfbf"/>
<rect x="1335.6" y="232.7" width="5.5" height="5.8" fill="#c4c4c4"/>
<rect x="1203.3" y="144.4" width="6.9" height="5.9" fill="#d1d1d1"/>
<rect x="1291.4" y="215.0" width="6.3" height="3.3" fill="#c1c1c1"/>
<rect x="1217.5" y="178.7" width="6.4" height="4.9" fill="#cecece"/>
<rect x="1242.8" y="219.8" width="4.8" height="5.7" fill="#c8c8c8"/>
<rect x="1323.1" y="180.2" width="5.6" height="5.5" fill="#d5d5d5"/>
<rect x="1366.2" y="171.0" width="6.8" height="6.1" fill="#bebebe"/>
<rect x="1442.5" y="174.9" width="6.9" height="5.8" fill="#cfcfcf"/>
<rect x="1376.2" y="172.5" width="6.9" height="6.3" fill="#cacaca"/>
<rect x="1401.0" y="201.7" width="6.6" height="4.5" fill="#d9d9d9"/>
<rect x="1200.5" y="168.7" width="6.2" height="4.1" fill="#cacaca"/>
<rect x="1461.5" y="147.0" width="5.3" height="6.3" fill="#d7d7d7"/>
<rect x="1368.0" y="169.2" width="6.2" height="6.5" fill="#d7d7d7"/>
<rect x="1468.4" y="176.4" width="6.2" height="5.7" fill="#bfbfbf"/>
<rect x="1259.1" y="214.9" width="5.2" height="6.2" fill="#dadada"/>
<rect x="1400.6" y="187.9" width="3.9" height="5.4" fill="#c3c3c3"/>
<rect x="1434.3" y="187.1" width="4.0" height="6.0" fill="#bfbfbf"/>
<rect x="1268.4" y="198.6" width="6.2" height="6.1" fill="#d9d9d9"/>
<rect x="1339.9" y="200.1" width="6.5" height="5.1" fill="#c2c2c2"/>
<rect x="1407.7" y="178.7" width="3.8" height="3.7" fill="#cecece"/>
<rect x="1244.0" y="147.3" width="4.6" height="5.1" fill="#dcdcdc"/>
<rect x="1387.0" y="220.6" width="4.5" height="3.4" fill="#c1c1c1"/>
<rect x="1353.0" y="145.0" width="5.4" height="4.4" fill="#bdbdbd"/>
<rect x="1342.5" y="197.2" width="7.0" height="6.5" fill="#c4c4c4"/>
<rect x="1478.2" y="217.7" width="6.1" height="4.7" fill="#d6d6d6"/>
<rect x="1211.1" y="162.7" width="6.9" height="4.0" fill="#c2c2c2"/>
<rect x="1365.4" y="229.0" width="3.3" height="3.2" fill="#cbcbcb"/>
<rect x="1218.8" y="200.0" width="6.8" height="6.6" fill="#c9c9c9"/>
<rect x="1276.3" y="196.7" width="3.5" height="6.8" fill="#d1d1d1"/>
<rect x="1315.3" y="186.2" width="6.8" height="5.7" fill="#c1c1c1"/>
<rect x="1265.0" y="146.7" width="6.9" height="7.0" fill="#c4c4c4"/>
<rect x="1467.4" y="222.9" width="4.4" height="6.6" fill="#bebebe"/>
<rect x="1390.0" y="237.8" width="6.1" height="5.8" fill="#bebebe"/>
<rect x="1478.5" y="208.0" width="3.6" height="6.0" fill="#c6c6c6"/>
<rect x="1231.1" y="174.1" width="5.4" height="6.0" fill="#c4c4c4"/>
<rect x="1250.0" y="166.1" width="3.5" height="4.9" fill="#c1c1c1"/>
<rect x="1411.1" y="162.3" width="5.7" height="3.1" fill="#bdbdbd"/>
<rect x="1473.9" y="228.0" width="6.7" height="3.9" fill="#d8d8d8"/>
<rect x="1228.8" y="233.3" width="3.6" height="4.8" fill="#d7d7d7"/>
<rect x="1300.1" y="223.0" width="5.5" height="4.8" fill="#cbcbcb"/>
<rect x="1265.3" y="148.6" width="5.5" height="3.6" fill="#d3d3d3"/>
<rect x="1456.7" y="169.2" width="5.2" height="3.6" fill="#c9c9c9"/>
<rect x="1448.8" y="175.8" width="3.6" height="4.1" fill="#c1c1c1"/>
<rect x="1466.5" y="154.2" width="5.0" height="4.3" fill="#dbdbdb"/>
<rect x="1398.3" y="163.1" width="3.2" height="6.6" fill="#cbcbcb"/>
<rect x="1259.7" y="178.7" width="4.1" height="4.0" fill="#dcdcdc"/>
<rect x="1228.6" y="170.6" width="7.0" height="6.7" fill="#d9d9d9"/>
<rect x="1287.1" y="237.0" width="3.2" height="5.9" fill="#bdbdbd"/>
<rect x="1241.2" y="143.2" width="6.2" height="4.4" fill="#d7d7d7"/>
<rect x="1328.4" y="232.6" width="5.1" height="3.7" fill="#c3c3c3"/>
<rect x="1253.1" y="218.8" width="5.3" height="3.6" fill="#d3d3d3"/>
<rect x="1225.9" y="203.1" width="3.8" height="3.3" fill="#cccccc"/>
<rect x="1381.2" y="212.5" width="4.1" height="3.8" fill="#d6d6d6"/>
<rect x="1219.4" y="214.9" width="5.3" height="3.8" fill="#c9c9c9"/>
<rect x="1438.4" y="176.1" width="5.9" height="3.2" fill="#d7d7d7"/>
<rect x="1204.5" y="231.3" width="6.5" height="5.0" fill="#cbcbcb"/>
<rect x="1254.6" y="224.4" width="6.5" height="4.1" fill="#c8c8c8"/>
<rect x="1376.3" y="143.5" width="3.7" height="4.5" fill="#cdcdcd"/>
<rect x="1235.7" y="212.3" width="4.8" height="5.1" fill="#d6d6d6"/>
<rect x="1408.8" y="180.3" width="6.5" height="4.3" fill="#d4d4d4"/>
<rect x="1483.1" y="190.3" width="3.2" height="6.5" fill="#cccccc"/>
<rect x="1206.1" y="236.7" width="5.1" height="5.1" fill="#c3c3c3"/>
<rect x="1274.2" y="223.6" width="3.7" height="3.4" fill="#bdbdbd"/>
<rect x="1257.9" y="144.7" width="3.4" height="5.8" fill="#cfcfcf"/>
<rect x="1407.1" y="153.0" width="5.3" height="5.1" fill="#d8d8d8"/>
<rect x="1236.2" y="191.8" width="5.9" height="3.2" fill="#cccccc"/>
<rect x="1320.0" y="156.5" width="4.1" height="3.5" fill="#cfcfcf"/>
<rect x="1368.2" y="216.5" width="6.4" height="3.6" fill="#c1c1c1"/>
<rect x="1314.2" y="183.1" width="6.3" height="6.8" fill="#d7d7d7"/>
<rect x="1477.6" y="218.7" width="5.1" height="4.6" fill="#c7c7c7"/>
<rect x="1328.9" y="238.8" width="4.0" height="4.3" fill="#d6d6d6"/>
<rect x="1448.7" y="148.1" width="6.7" height="6.3" fill="#cdcdcd"/>
<rect x="1273.1" y="183.2" width="6.8" height="6.7" fill="#d0d0d0"/>
<rect x="1220.5" y="185.0" width="4.5" height="5.1" fill="#cccccc"/>
<rect x="1487.9" y="219.4" width="3.1" height="3.6" fill="#dadada"/>
<rect x="1460.4" y="227.7" width="5.5" height="6.2" fill="#bdbdbd"/>
<rect x="1399.8" y="169.8" width="5.6" height="4.1" fill="#cdcdcd"/>
<rect x="1273.5" y="193.2" width="6.7" height="5.5" fill="#cacaca"/>
<rect x="1289.5" y="206.4" width="6.8" height="4.2" fill="#c0c0c0"/>
<rect x="1351.4" y="168.5" width="5.4" height="6.8" fill="#cbcbcb"/>
<rect x="1236.5" y="155.9" width="5.1" height="3.6" fill="#c5c5c5"/>
<rect x="1271.9" y="151.6" width="4.6" height="4.2" fill="#cdcdcd"/>
<rect x="1367.4" y="205.8" width="6.4" height="5.4" fill="#c2c2c2"/>
<rect x="1361.2" y="202.5" width="5.8" height="4.8" fill="#cbcbcb"/>
<rect x="1265.5" y="193.2" width="4.2" height="4.0" fill="#c8c8c8"/>
<rect x="1303.9" y="228.3" width="5.3" height="3.0" fill="#c4c4c4"/>
<rect x="1284.0" y="238.8" width="5.2" height="5.0" fill="#c5c5c5"/>
<rect x="1219.6" y="228.7" width="6.1" height="3.6" fill="#cacaca"/>
<rect x="1330.5" y="214.7" width="3.2" height="4.6" fill="#bfbfbf"/>
<rect x="1418.7" y="157.7" width="3.9" height="6.8" fill="#c7c7c7"/>
<rect x="1382.2" y="224.9" width="4.4" height="5.7" fill="#d6d6d6"/>
<rect x="1419.2" y="216.0" width="5.1" height="6.0" fill="#cbcbcb"/>
<rect x="1468.8" y="155.2" width="6.1" height="5.8" fill="#d8d8d8"/>
<rect x="1374.0" y="190.8" width="3.0" height="6.1" fill="#dbdbdb"/>
<rect x="1431.0" y="227.9" width="5.3" height="4.7" fill="#cfcfcf"/>
<rect x="1335.3" y="213.3" width="4.5" height="4.8" fill="#c5c5c5"/>
<rect x="1313.6" y="174.2" width="4.6" height="5.2" fill="#d5d5d5"/>
<rect x="1330.4" y="160.9" width="6.4" height="5.0" fill="#c6c6c6"/>
<rect x="1372.4" y="151.5" width="3.6" height="5.3" fill="#d9d9d9"/>
<rect x="1447.8" y="234.7" width="4.3" height="6.4" fill="#c3c3c3"/>
<rect x="1203.2" y="147.5" width="4.7" height="6.6" fill="#cecece"/>
<rect x="1428.2" y="194.3" width="5.0" height="6.7" fill="#dcdcdc"/>
<rect x="1402.1" y="180.8" width="5.1" height="5.1" fill="#c7c7c7"/>
<rect x="1479.3" y="209.0" width="5.4" height="4.4" fill="#cdcdcd"/>
<rect x="1318.9" y="197.7" width="3.4" height="4.5" fill="#cecece"/>
<rect x="1342.8" y="184.9" width="6.5" height="6.9" fill="#d0d0d0"/>
<rect x="1355.3" y="222.7" width="7.0" height="4.4" fill="#c1c1c1"/>
<rect x="1444.3" y="191.7" width="4.3" height="6.9" fill="#c0c0c0"/>
<rect x="1440.8" y="238.3" width="6.6" height="5.8" fill="#d8d8d8"/>
<rect x="1285.6" y="193.3" width="4.7" height="3.6" fill="#cccccc"/>
<rect x="1386.7" y="202.3" width="3.8" height="3.7" fill="#c7c7c7"/>
<rect x="1212.4" y="182.7" width="7.0" height="5.5" fill="#d5d5d5"/>
<rect x="1201.2" y="172.3" width="4.2" height="5.8" fill="#d7d7d7"/>
<rect x="1257.9" y="191.0" width="5.3" height="5.7" fill="#cecece"/>
<rect x="1357.3" y="239.1" width="4.1" height="5.6" fill="#cecece"/>
<rect x="1246.3" y="217.8" width="4.6" height="3.5" fill="#bfbfbf"/>
<rect x="1355.0" y="223.9" width="3.4" height="3.7" fill="#d0d0d0"/>
<rect x="1203.7" y="219.1" width="6.2" height="3.2" fill="#c6c6c6"/>
<rect x="1249.8" y="169.0" width="5.9" height="4.4" fill="#bfbfbf"/>
<rect x="1302.4" y="186.5" width="6.6" height="5.3" fill="#c8c8c8"/>
<rect x="1372.9" y="234.6" width="3.2" height="6.6" fill="#cacaca"/>
<rect x="1213.0" y="234.2" width="5.5" height="4.0" fill="#d7d7d7"/>
<rect x="1441.3" y="172.0" width="4.3" height="6.6" fill="#cfcfcf"/>
<rect x="1478.4" y="166.6" width="6.8" height="5.0" fill="#c8c8c8"/>
<rect x="1290.9" y="228.9" width="5.9" height="3.9" fill="#cccccc"/>
<rect x="1251.0" y="178.1" width="6.2" height="4.0" fill="#c2c2c2"/>
<rect x="1364.6" y="154.2" width="6.9" height="4.2" fill="#cdcdcd"/>
<rect x="1219.3" y="155.0" width="4.5" height="4.6" fill="#d6d6d6"/>
<rect x="1256.5" y="170.8" width="4.4" height="4.0" fill="#c4c4c4"/>
<rect x="1301.4" y="158.0" width="3.1" height="5.7" fill="#d3d3d3"/>
<rect x="1447.7" y="155.5" width="3.4" height="4.1" fill="#cacaca"/>
<rect x="1246.8" y="176.8" width="6.3" height="6.2" fill="#d3d3d3"/>
<rect x="1261.5" y="233.5" width="4.5" height="6.8" fill="#cccccc"/>
<rect x="1238.8" y="211.7" width="3.9" height="4.8" fill="#c4c4c4"/>
<rect x="1308.0" y="166.8" width="6.6" height="5.4" fill="#cfcfcf"/>
<rect x="1236.4" y="192.0" width="3.9" height="6.5" fill="#cdcdcd"/>
<rect x="1313.9" y="206.1" width="4.1" height="6.1" fill="#cecece"/>
<rect x="1225.4" y="160.3" width="4.2" height="4.6" fill="#d7d7d7"/>
<rect x="1232.2" y="197.1" width="4.3" height="5.7" fill="#c8c8c8"/>
<rect x="1219.4" y="173.4" width="5.0" height="4.2" fill="#c3c3c3"/>
<rect x="1283.7" y="181.8" width="3.5" height="5.9" fill="#d9d9d9"/>
<rect x="1453.1" y="155.6" width="6.1" height="6.5" fill="#c5c5c5"/>
<rect x="1397.0" y="176.8" width="3.1" height="5.7" fill="#c9c9c9"/>
<rect x="1273.1" y="224.5" width="5.6" height="5.8" fill="#c7c7c7"/>
<rect x="1233.9" y="232.7" width="5.5" height="3.7" fill="#d3d3d3"/>
<rect x="1211.8" y="159.0" width="5.9" height="3.2" fill="#c2c2c2"/>
<rect x="1211.6" y="173.3" width="4.2" height="4.5" fill="#d0d0d0"/>
<rect x="1368.9" y="211.5" width="3.7" height="6.4" fill="#c4c4c4"/>
<rect x="1303.1" y="143.1" width="4.7" height="5.7" fill="#d7d7d7"/>
<rect x="1212.6" y="226.6" width="6.1" height="4.1" fill="#cfcfcf"/>
<rect x="1233.0" y="220.6" width="3.2" height="4.0" fill="#c3c3c3"/>
<rect x="1225.3" y="209.7" width="6.7" height="6.0" fill="#c9c9c9"/>
<rect x="1282.7" y="151.6" width="6.0" height="6.3" fill="#dadada"/>
<rect x="1404.2" y="213.4" width="4.7" height="6.7" fill="#d7d7d7"/>
<rect x="1216.0" y="210.9" width="5.5" height="4.8" fill="#cacaca"/>
<rect x="1237.6" y="215.6" width="5.0" height="6.7" fill="#bdbdbd"/>
<rect x="1276.8" y="195.3" width="5.8" height="6.2" fill="#dbdbdb"/>
<rect x="1273.5" y="148.7" width="5.6" height="5.2" fill="#c7c7c7"/>
<rect x="1291.7" y="156.4" width="4.6" height="3.8" fill="#d3d3d3"/>
<rect x="1271.1" y="193.5" width="5.7" height="4.0" fill="#cacaca"/>
<rect x="1287.8" y="229.3" width="6.7" height="4.4" fill="#c1c1c1"/>
<rect x="1440.3" y="196.5" width="5.3" height="4.3" fill="#d4d4d4"/>
<rect x="1377.4" y="187.4" width="3.7" height="5.7" fill="#d5d5d5"/>
<rect x="1285.0" y="178.5" width="6.3" height="3.5" fill="#c3c3c3"/>
<rect x="1258.5" y="211.7" width="3.2" height="4.1" fill="#cacaca"/>
<rect x="1339.0" y="178.5" width="3.5" height="4.3" fill="#c1c1c1"/>
<rect x="1494.4" y="217.3" width="3.3" height="3.0" fill="#bfbfbf"/>
<rect x="1365.8" y="153.3" width="5.9" height="6.9" fill="#cccccc"/>
<rect x="1360.3" y="143.8" width="4.7" height="3.8" fill="#d9d9d9"/>
<rect x="1475.4" y="206.0" width="5.6" height="5.5" fill="#c4c4c4"/>
<rect x="1208.2" y="219.2" width="4.0" height="3.6" fill="#d7d7d7"/>
<rect x="1388.8" y="226.1" width="4.2" height="3.7" fill="#dadada"/>
<rect x="1446.1" y="214.2" width="3.7" height="6.1" fill="#c6c6c6"/>
<rect x="1294.8" y="178.3" width="3.7" height="6.3" fill="#cecece"/>
<rect x="1270.7" y="146.9" width="4.5" height="6.3" fill="#cecece"/>
<rect x="1407.8" y="229.6" width="5.5" height="6.3" fill="#dadada"/>
<rect x="1246.5" y="172.1" width="5.0" height="5.0" fill="#cfcfcf"/>
<rect x="1248.5" y="185.7" width="3.3" height="5.8" fill="#dbdbdb"/>
<rect x="1330.4" y="161.9" width="3.4" height="3.2" fill="#d3d3d3"/>
<rect x="1454.0" y="218.3" width="3.0" height="6.4" fill="#cacaca"/>
<rect x="1352.3" y="183.6" width="4.1" height="5.6" fill="#c7c7c7"/>
<rect x="1443.9" y="230.1" width="4.8" height="5.7" fill="#c1c1c1"/>
<rect x="1366.7" y="176.8" width="4.2" height="4.8" fill="#c2c2c2"/>
<rect x="1336.6" y="237.9" width="3.3" height="4.3" fill="#d9d9d9"/>
<rect x="1482.3" y="202.0" width="6.5" height="6.9" fill="#d6d6d6"/>
<rect x="1380.8" y="171.6" width="3.2" height="5.7" fill="#cecece"/>
<rect x="1389.8" y="172.1" width="6.8" height="4.9" fill="#c7c7c7"/>
<rect x="1255.4" y="210.1" width="6.5" height="3.1" fill="#cacaca"/>
<rect x="1310.4" y="199.0" width="3.3" height="5.6" fill="#c9c9c9"/>
<rect x="1316.9" y="154.1" width="5.1" height="5.3" fill="#c2c2c2"/>
<rect x="1232.9" y="226.5" width="6.6" height="5.2" fill="#c4c4c4"/>
<rect x="1274.6" y="190.4" width="3.4" height="5.1" fill="#cecece"/>
<rect x="1233.5" y="192.6" width="3.9" height="5.3" fill="#cfcfcf"/>
<rect x="1221.8" y="185.8" width="3.3" height="4.6" fill="#d8d8d8"/>
<rect x="1423.1" y="154.0" width="5.2" height="5.9" fill="#dcdcdc"/>
<rect x="1444.2" y="181.6" width="5.9" height="3.4" fill="#c1c1c1"/>
<rect x="1427.2" y="156.2" width="6.8" height="5.3" fill="#d5d5d5"/>
<rect x="1310.5" y="144.5" width="3.2" height="3.9" fill="#cfcfcf"/>
<rect x="1409.5" y="184.7" width="3.9" height="4.2" fill="#d8d8d8"/>
<rect x="1365.8" y="230.6" width="5.5" height="6.5" fill="#d8d8d8"/>
<rect x="1301.2" y="216.3" width="3.7" height="6.0" fill="#d2d2d2"/>
<rect x="1309.6" y="215.6" width="6.3" height="3.5" fill="#dadada"/>
<rect x="1377.6" y="152.8" width="5.9" height="3.2" fill="#cecece"/>
<rect x="1471.9" y="209.5" width="6.2" height="3.5" fill="#c4c4c4"/>
<rect x="1448.3" y="199.5" width="3.8" height="4.8" fill="#c0c0c0"/>
<rect x="1437.7" y="161.3" width="3.1" height="3.4" fill="#cecece"/>
<rect x="1312.7" y="156.9" width="4.2" height="5.7" fill="#d8d8d8"/>
<rect x="1438.3" y="234.3" width="5.2" height="5.8" fill="#bcbcbc"/>
<rect x="1348.3" y="228.9" width="4.4" height="3.6" fill="#d6d6d6"/>
<rect x="1442.9" y="209.8" width="3.1" height="3.7" fill="#c9c9c9"/>
<rect x="1449.4" y="181.7" width="4.9" height="3.6" fill="#d8d8d8"/>
<rect x="1297.0" y="164.3" width="5.4" height="3.3" fill="#d9d9d9"/>
<rect x="1250.0" y="178.7" width="5.4" height="3.2" fill="#cbcbcb"/>
<rect x="1304.2" y="143.6" width="5.3" height="4.6" fill="#cfcfcf"/>
<rect x="1335.8" y="240.6" width="4.3" height="3.1" fill="#bdbdbd"/>
<rect x="1280.8" y="169.3" width="3.6" height="5.7" fill="#cccccc"/>
<rect x="1356.3" y="235.6" width="4.0" height="5.3" fill="#dcdcdc"/>
<rect x="1428.9" y="227.4" width="3.1" height="5.2" fill="#d5d5d5"/>
<rect x="1306.9" y="170.2" width="5.5" height="5.5" fill="#d5d5d5"/>
<rect x="1400.0" y="172.0" width="6.5" height="6.8" fill="#d4d4d4"/>
<rect x="1386.8" y="177.0" width="6.0" height="5.0" fill="#cecece"/>
<rect x="1299.6" y="174.9" width="4.6" height="3.2" fill="#dcdcdc"/>
<rect x="1271.8" y="165.9" width="4.9" height="4.5" fill="#c7c7c7"/>
<rect x="1458.2" y="187.8" width="3.5" height="3.0" fill="#cacaca"/>
<rect x="1249.8" y="149.5" width="5.3" height="4.2" fill="#c6c6c6"/>
<rect x="1363.0" y="233.1" width="4.2" height="5.9" fill="#c7c7c7"/>
<rect x="1223.5" y="160.3" width="6.7" height="5.3" fill="#cfcfcf"/>
<rect x="1426.9" y="184.8" width="6.9" height="4.4" fill="#d8d8d8"/>
<rect x="1466.8" y="169.8" width="3.3" height="4.9" fill="#c4c4c4"/>
<rect x="1279.6" y="212.3" width="3.1" height="3.7" fill="#c3c3c3"/>
<rect x="1378.1" y="227.9" width="4.6" height="3.8" fill="#d1d1d1"/>
<rect x="1485.3" y="200.7" width="3.8" height="5.9" fill="#bfbfbf"/>
<rect x="1300.2" y="156.1" width="6.2" height="6.5" fill="#c2c2c2"/>
<rect x="1388.7" y="231.1" width="5.1" height="6.5" fill="#c3c3c3"/>
<rect x="1391.9" y="181.9" width="4.3" height="6.0" fill="#d2d2d2"/>
<rect x="1322.5" y="147.5" width="4.4" height="3.2" fill="#d0d0d0"/>
<rect x="1376.8" y="167.9" width="4.3" height="5.0" fill="#cbcbcb"/>
<rect x="1367.5" y="237.1" width="3.1" height="6.7" fill="#bebebe"/>
<rect x="1297.0" y="152.0" width="5.5" height="5.9" fill="#c1c1c1"/>
<rect x="1226.6" y="221.1" width="3.6" height="6.1" fill="#cacaca"/>
<rect x="1363.6" y="206.5" width="5.2" height="5.4" fill="#cfcfcf"/>
<rect x="1276.2" y="211.3" width="4.3" height="6.0" fill="#d4d4d4"/>
<rect x="1427.1" y="238.6" width="6.1" height="4.2" fill="#cbcbcb"/>
<rect x="1478.4" y="155.8" width="4.1" height="5.1" fill="#bcbcbc"/>
<rect x="1428.5" y="177.9" width="4.9" height="5.6" fill="#dcdcdc"/>
<rect x="1226.6" y="145.7" width="3.9" height="6.0" fill="#c0c0c0"/>
<rect x="1364.8" y="160.6" width="3.2" height="5.0" fill="#dadada"/>
<rect x="1252.4" y="215.6" width="4.5" height="3.6" fill="#d9d9d9"/>
<rect x="1430.6" y="167.0" width="3.6" height="3.1" fill="#dbdbdb"/>
<rect x="1301.5" y="220.2" width="5.0" height="5.5" fill="#cbcbcb"/>
<rect x="1231.9" y="213.0" width="4.3" height="6.6" fill="#bebebe"/>
<rect x="1454.4" y="148.8" width="5.6" height="4.6" fill="#cecece"/>
<rect x="1479.1" y="202.8" width="4.6" height="6.7" fill="#c3c3c3"/>
<rect x="1328.4" y="165.7" width="4.0" height="4.0" fill="#c3c3c3"/>
<rect x="1287.7" y="238.9" width="6.0" height="5.6" fill="#c3c3c3"/>
<rect x="1454.4" y="228.5" width="5.3" height="3.6" fill="#c5c5c5"/>
<rect x="1283.1" y="174.7" width="6.0" height="6.3" fill="#cccccc"/>
<rect x="1400.4" y="201.8" width="6.6" height="3.6" fill="#cacaca"/>
<rect x="1261.8" y="227.4" width="5.3" height="6.5" fill="#c8c8c8"/>
<rect x="1253.6" y="225.5" width="6.1" height="6.5" fill="#dcdcdc"/>
<rect x="1233.0" y="239.4" width="4.2" height="3.1" fill="#bcbcbc"/>
<rect x="1415.9" y="152.6" width="6.6" height="3.6" fill="#c1c1c1"/>
<rect x="1299.9" y="233.6" width="5.7" height="3.4" fill="#d3d3d3"/>
<rect x="1209.7" y="165.3" width="6.5" height="6.9" fill="#d5d5d5"/>
<rect x="1348.5" y="165.9" width="5.8" height="3.2" fill="#cacaca"/>
<rect x="1493.8" y="174.3" width="3.4" height="3.1" fill="#d8d8d8"/>
<rect x="1240.3" y="184.6" width="3.5" height="4.9" fill="#c2c2c2"/>
<rect x="1417.2" y="192.3" width="5.7" height="3.6" fill="#c0c0c0"/>
<rect x="1471.6" y="176.9" width="4.4" height="5.0" fill="#c3c3c3"/>
<rect x="1414.4" y="169.1" width="6.9" height="6.5" fill="#c2c2c2"/>
<rect x="1212.8" y="193.2" width="4.1" height="3.3" fill="#c9c9c9"/>
<rect x="1203.1" y="210.1" width="5.2" height="4.5" fill="#d1d1d1"/>
<rect x="1403.5" y="238.1" width="5.2" height="5.2" fill="#d8d8d8"/>
<rect x="1293.6" y="183.8" width="5.9" height="4.6" fill="#dbdbdb"/>
<rect x="1321.1" y="156.9" width="4.5" height="4.5" fill="#dcdcdc"/>
<rect x="1475.1" y="167.6" width="3.0" height="5.4" fill="#d0d0d0"/>
<rect x="1258.8" y="192.1" width="3.8" height="3.7" fill="#bfbfbf"/>
<rect x="1214.6" y="226.1" width="4.6" height="5.7" fill="#a2a2a2"/>
<rect x="1293.3" y="243.6" width="4.3" height="4.6" fill="#909090"/>
<rect x="1350.7" y="220.2" width="4.5" height="5.6" fill="#c8c8c8"/>
<rect x="1420.4" y="207.8" width="3.5" height="4.9" fill="#b8b8b8"/>
<rect x="1381.5" y="225.9" width="3.8" height="4.6" fill="#a2a2a2"/>
<rect x="1266.0" y="222.0" width="4.3" height="4.6" fill="#9f9f9f"/>
<rect x="1413.0" y="216.6" width="4.8" height="4.4" fill="#ababab"/>
<rect x="1475.0" y="217.6" width="3.4" height="3.4" fill="#adadad"/>
<rect x="1270.6" y="195.3" width="4.1" height="5.4" fill="#bebebe"/>
<rect x="1445.0" y="238.7" width="3.9" height="4.9" fill="#c1c1c1"/>
<rect x="1447.1" y="234.8" width="3.1" height="4.1" fill="#979797"/>
<rect x="1230.5" y="206.8" width="3.3" height="3.8" fill="#bdbdbd"/>
<rect x="1226.0" y="209.0" width="4.0" height="4.4" fill="#c8c8c8"/>
<rect x="1341.4" y="233.4" width="4.4" height="4.3" fill="#bababa"/>
<rect x="1308.9" y="216.2" width="3.3" height="5.0" fill="#9d9d9d"/>
<rect x="1312.9" y="186.1" width="3.7" height="4.0" fill="#9b9b9b"/>
<rect x="1252.8" y="229.4" width="4.1" height="3.2" fill="#9f9f9f"/>
<rect x="1447.2" y="190.6" width="3.6" height="3.7" fill="#b4b4b4"/>
<rect x="1324.9" y="233.6" width="4.7" height="3.6" fill="#b3b3b3"/>
<rect x="1331.1" y="207.7" width="3.7" height="3.1" fill="#b8b8b8"/>
<rect x="1392.1" y="234.3" width="3.6" height="4.2" fill="#a4a4a4"/>
<rect x="1474.0" y="196.5" width="3.8" height="4.7" fill="#c6c6c6"/>
<rect x="1396.7" y="205.1" width="4.4" height="4.1" fill="#949494"/>
<rect x="1355.4" y="215.2" width="4.5" height="4.1" fill="#c2c2c2"/>
<rect x="1375.2" y="213.6" width="4.5" height="3.1" fill="#aaaaaa"/>
<rect x="1339.9" y="239.1" width="4.7" height="4.2" fill="#a9a9a9"/>
<rect x="1444.1" y="225.5" width="4.0" height="4.5" fill="#b9b9b9"/>
<rect x="1401.4" y="219.3" width="3.8" height="3.1" fill="#bbbbbb"/>
<rect x="1265.2" y="189.8" width="4.5" height="3.4" fill="#bebebe"/>
<rect x="1423.6" y="219.8" width="3.2" height="3.3" fill="#939393"/>
<rect x="1342.7" y="188.3" width="4.4" height="5.1" fill="#b7b7b7"/>
<rect x="1495.6" y="234.2" width="3.8" height="4.8" fill="#c1c1c1"/>
<rect x="1353.8" y="185.4" width="3.3" height="4.0" fill="#c7c7c7"/>
<rect x="1292.8" y="200.6" width="3.5" height="3.8" fill="#c0c0c0"/>
<rect x="1324.3" y="188.1" width="4.1" height="4.5" fill="#a1a1a1"/>
<rect x="1452.9" y="200.3" width="4.7" height="5.4" fill="#9b9b9b"/>
<rect x="1311.0" y="213.0" width="3.1" height="4.6" fill="#ababab"/>
<rect x="1437.1" y="197.2" width="4.2" height="4.1" fill="#c3c3c3"/>
<rect x="1293.0" y="218.0" width="4.1" height="3.2" fill="#a7a7a7"/>
<rect x="1280.9" y="233.6" width="4.1" height="4.0" fill="#a0a0a0"/>
<rect x="1375.0" y="212.1" width="4.4" height="5.4" fill="#c4c4c4"/>
<rect x="1217.1" y="210.7" width="3.9" height="5.6" fill="#b4b4b4"/>
<rect x="1221.4" y="220.4" width="3.1" height="5.6" fill="#9a9a9a"/>
<rect x="1436.3" y="215.1" width="4.8" height="4.7" fill="#b6b6b6"/>
<rect x="1262.4" y="236.2" width="4.3" height="3.9" fill="#989898"/>
<rect x="1229.8" y="190.8" width="4.8" height="3.6" fill="#bcbcbc"/>
<rect x="1394.4" y="200.7" width="4.9" height="4.2" fill="#c3c3c3"/>
<rect x="1216.8" y="227.8" width="4.4" height="3.5" fill="#929292"/>
<rect x="1268.7" y="220.6" width="4.7" height="3.9" fill="#a2a2a2"/>
<rect x="1469.8" y="205.0" width="4.1" height="3.5" fill="#bfbfbf"/>
<rect x="1490.8" y="208.3" width="3.3" height="5.4" fill="#929292"/>
<rect x="1266.2" y="217.8" width="3.8" height="4.9" fill="#959595"/>
<rect x="1327.3" y="225.6" width="3.9" height="5.2" fill="#969696"/>
<rect x="1472.7" y="246.4" width="4.7" height="3.4" fill="#c5c5c5"/>
<rect x="1303.0" y="230.9" width="4.1" height="3.9" fill="#acacac"/>
<rect x="1343.1" y="238.3" width="4.9" height="3.3" fill="#b1b1b1"/>
<rect x="1241.3" y="201.7" width="4.1" height="3.3" fill="#c2c2c2"/>
<rect x="1473.0" y="187.0" width="4.7" height="3.7" fill="#b2b2b2"/>
<rect x="1478.7" y="225.0" width="4.9" height="4.0" fill="#939393"/>
<rect x="1273.3" y="230.0" width="3.7" height="4.3" fill="#9a9a9a"/>
<rect x="1220.5" y="219.2" width="4.6" height="3.9" fill="#959595"/>
<rect x="1376.2" y="212.5" width="4.1" height="5.4" fill="#929292"/>
<rect x="1391.4" y="193.1" width="4.0" height="3.3" fill="#b0b0b0"/>
<rect x="1396.5" y="195.0" width="3.7" height="4.1" fill="#9a9a9a"/>
<rect x="1448.6" y="238.3" width="4.9" height="4.0" fill="#ababab"/>
<rect x="1460.8" y="192.2" width="3.3" height="3.3" fill="#acacac"/>
<rect x="1338.4" y="195.1" width="4.1" height="3.4" fill="#aeaeae"/>
<rect x="1258.5" y="209.6" width="4.0" height="4.1" fill="#9b9b9b"/>
<rect x="1458.6" y="215.8" width="3.3" height="3.7" fill="#c2c2c2"/>
<rect x="1345.0" y="231.8" width="3.0" height="5.8" fill="#b0b0b0"/>
<rect x="1421.7" y="194.4" width="4.4" height="3.7" fill="#9f9f9f"/>
<rect x="1353.8" y="202.8" width="3.1" height="4.2" fill="#c2c2c2"/>
<rect x="1269.4" y="220.9" width="3.2" height="4.7" fill="#bcbcbc"/>
<rect x="1272.6" y="222.0" width="4.4" height="3.2" fill="#c7c7c7"/>
<rect x="1405.4" y="234.0" width="3.1" height="4.9" fill="#a3a3a3"/>
<rect x="1472.0" y="185.7" width="4.6" height="4.4" fill="#c5c5c5"/>
<rect x="1226.1" y="199.9" width="3.8" height="4.2" fill="#b9b9b9"/>
<rect x="1301.8" y="193.6" width="4.4" height="3.5" fill="#9b9b9b"/>
<rect x="1489.4" y="245.8" width="3.4" height="4.0" fill="#bcbcbc"/>
<rect x="1430.7" y="239.9" width="4.0" height="4.5" fill="#bababa"/>
<rect x="1384.9" y="236.9" width="4.3" height="3.6" fill="#bcbcbc"/>
<rect x="1303.6" y="194.7" width="3.2" height="5.2" fill="#c6c6c6"/>
<rect x="1239.9" y="234.5" width="4.3" height="5.2" fill="#c4c4c4"/>
<rect x="1445.7" y="232.9" width="4.8" height="5.2" fill="#b1b1b1"/>
<rect x="1432.3" y="236.8" width="3.9" height="5.5" fill="#a1a1a1"/>
<rect x="1479.1" y="192.0" width="4.9" height="4.6" fill="#c6c6c6"/>
<rect x="1447.7" y="199.2" width="4.6" height="3.8" fill="#9b9b9b"/>
<rect x="1345.9" y="240.7" width="3.9" height="3.7" fill="#b6b6b6"/>
<rect x="1431.7" y="233.3" width="4.4" height="4.2" fill="#b6b6b6"/>
<rect x="1319.9" y="190.2" width="4.9" height="5.5" fill="#b5b5b5"/>
<rect x="1375.7" y="236.0" width="4.7" height="4.0" fill="#bcbcbc"/>
<rect x="1204.9" y="191.7" width="3.0" height="4.5" fill="#bdbdbd"/>
<rect x="1335.5" y="205.2" width="3.8" height="4.8" fill="#9c9c9c"/>
<rect x="1383.5" y="202.4" width="3.7" height="5.5" fill="#959595"/>
<rect x="1331.0" y="224.6" width="3.5" height="5.1" fill="#bdbdbd"/>
<rect x="1212.3" y="234.3" width="3.2" height="5.0" fill="#9a9a9a"/>
<rect x="1307.4" y="198.3" width="3.5" height="5.9" fill="#c2c2c2"/>
<rect x="1316.6" y="214.6" width="4.2" height="5.7" fill="#c6c6c6"/>
<rect x="1256.1" y="234.0" width="4.0" height="6.0" fill="#999999"/>
<rect x="1251.9" y="243.6" width="4.1" height="3.0" fill="#a9a9a9"/>
<rect x="1304.1" y="191.2" width="4.6" height="3.8" fill="#afafaf"/>
<rect x="1311.2" y="241.1" width="4.7" height="4.5" fill="#c2c2c2"/>
<rect x="1384.5" y="212.4" width="4.3" height="3.2" fill="#c6c6c6"/>
<rect x="1387.2" y="207.6" width="3.7" height="5.0" fill="#adadad"/>
<rect x="1347.3" y="206.6" width="4.4" height="5.7" fill="#c7c7c7"/>
<rect x="1402.9" y="218.2" width="3.1" height="5.5" fill="#a9a9a9"/>
<rect x="1415.4" y="229.5" width="4.5" height="5.7" fill="#929292"/>
<rect x="1482.4" y="239.9" width="3.7" height="3.4" fill="#989898"/>
<rect x="1213.8" y="208.6" width="4.2" height="4.7" fill="#bababa"/>
<rect x="1425.5" y="202.8" width="4.3" height="3.8" fill="#aeaeae"/>
<rect x="1392.1" y="232.5" width="3.8" height="5.9" fill="#b6b6b6"/>
<rect x="1410.2" y="225.8" width="3.8" height="5.9" fill="#a0a0a0"/>
<rect x="1445.0" y="232.8" width="3.3" height="4.7" fill="#a3a3a3"/>
<rect x="1460.3" y="194.8" width="3.3" height="4.5" fill="#b9b9b9"/>
<rect x="1215.9" y="203.2" width="3.3" height="3.9" fill="#a5a5a5"/>
<rect x="1255.2" y="203.3" width="4.9" height="5.9" fill="#c5c5c5"/>
<rect x="1330.0" y="191.6" width="3.4" height="4.0" fill="#9f9f9f"/>
<rect x="1485.4" y="201.2" width="3.8" height="4.2" fill="#9b9b9b"/>
<rect x="1447.1" y="223.6" width="4.8" height="4.4" fill="#bcbcbc"/>
<rect x="1424.4" y="213.9" width="3.6" height="3.5" fill="#afafaf"/>
<rect x="1281.4" y="206.7" width="4.3" height="5.3" fill="#c3c3c3"/>
<rect x="1386.5" y="200.9" width="4.1" height="3.9" fill="#bbbbbb"/>
<rect x="1368.2" y="206.0" width="3.1" height="5.5" fill="#c5c5c5"/>
<rect x="1220.7" y="218.6" width="3.5" height="3.7" fill="#bababa"/>
<rect x="1438.8" y="191.8" width="4.4" height="4.2" fill="#a1a1a1"/>
<rect x="1387.5" y="225.9" width="4.3" height="5.9" fill="#bbbbbb"/>
<rect x="1419.9" y="205.2" width="3.8" height="5.8" fill="#a6a6a6"/>
<rect x="1254.9" y="238.1" width="4.6" height="4.0" fill="#aeaeae"/>
<rect x="1466.8" y="193.0" width="4.0" height="5.0" fill="#a3a3a3"/>
<rect x="1349.1" y="236.8" width="3.1" height="4.2" fill="#b5b5b5"/>
<rect x="1369.7" y="201.6" width="4.2" height="4.2" fill="#bfbfbf"/>
<rect x="1244.7" y="224.9" width="4.6" height="5.5" fill="#bababa"/>
<rect x="1466.0" y="229.1" width="4.0" height="5.7" fill="#bebebe"/>
<rect x="1238.8" y="226.8" width="4.3" height="5.6" fill="#b7b7b7"/>
<rect x="1219.9" y="221.9" width="4.2" height="3.8" fill="#bebebe"/>
<rect x="1266.4" y="190.8" width="3.5" height="3.6" fill="#b6b6b6"/>
<rect x="1306.1" y="226.7" width="4.9" height="5.4" fill="#949494"/>
<rect x="1201.0" y="223.4" width="4.7" height="4.0" fill="#989898"/>
<rect x="1332.1" y="219.3" width="3.6" height="3.2" fill="#bdbdbd"/>
<rect x="1232.8" y="198.4" width="3.1" height="5.5" fill="#b3b3b3"/>
<rect x="1368.4" y="198.3" width="3.7" height="4.0" fill="#bcbcbc"/>
<rect x="1439.9" y="216.9" width="3.4" height="5.5" fill="#929292"/>
<rect x="1349.1" y="211.2" width="4.6" height="3.1" fill="#949494"/>
<rect x="1373.0" y="208.9" width="4.3" height="5.2" fill="#adadad"/>
<rect x="1456.7" y="246.1" width="4.2" height="3.7" fill="#bdbdbd"/>
<rect x="1491.0" y="189.4" width="4.9" height="4.0" fill="#ababab"/>
<rect x="1402.6" y="228.0" width="3.3" height="4.4" fill="#a9a9a9"/>
<rect x="1319.4" y="202.4" width="3.7" height="3.6" fill="#9b9b9b"/>
<rect x="1329.6" y="197.0" width="4.5" height="4.5" fill="#b7b7b7"/>
<rect x="1366.2" y="227.9" width="3.4" height="3.8" fill="#c6c6c6"/>
<rect x="1471.8" y="227.7" width="4.5" height="5.8" fill="#b8b8b8"/>
<rect x="1203.9" y="238.0" width="3.1" height="3.6" fill="#b8b8b8"/>
<rect x="1305.1" y="195.0" width="4.3" height="3.8" fill="#b3b3b3"/>
<rect x="1213.1" y="195.7" width="5.0" height="3.9" fill="#a4a4a4"/>
<rect x="1334.3" y="191.1" width="4.8" height="5.4" fill="#969696"/>
<rect x="1339.8" y="244.1" width="3.3" height="5.3" fill="#c3c3c3"/>
<rect x="1442.8" y="192.8" width="4.6" height="4.4" fill="#969696"/>
<rect x="1261.9" y="200.2" width="4.1" height="4.5" fill="#919191"/>
<rect x="1479.0" y="243.7" width="4.8" height="5.1" fill="#a8a8a8"/>
<rect x="1439.9" y="236.2" width="4.5" height="4.2" fill="#979797"/>
<rect x="1373.8" y="208.2" width="3.0" height="3.6" fill="#919191"/>
<rect x="1337.0" y="187.6" width="4.7" height="5.4" fill="#c2c2c2"/>
<rect x="1295.7" y="223.6" width="4.1" height="3.2" fill="#c2c2c2"/>
<rect x="1260.9" y="199.6" width="4.0" height="4.9" fill="#c3c3c3"/>
<rect x="1375.1" y="192.8" width="3.8" height="3.3" fill="#9b9b9b"/>
<rect x="1388.4" y="227.6" width="3.9" height="4.8" fill="#a9a9a9"/>
<rect x="1216.0" y="213.2" width="3.1" height="5.2" fill="#a6a6a6"/>
<rect x="1270.9" y="223.9" width="4.3" height="5.1" fill="#b7b7b7"/>
<rect x="1469.1" y="221.9" width="3.9" height="3.4" fill="#949494"/>
<rect x="1267.8" y="208.2" width="3.5" height="6.0" fill="#bcbcbc"/>
<rect x="1419.0" y="187.3" width="4.6" height="4.9" fill="#959595"/>
<rect x="1211.2" y="187.9" width="5.0" height="5.4" fill="#9d9d9d"/>
<rect x="1398.3" y="242.1" width="4.9" height="3.7" fill="#b4b4b4"/>
<rect x="1245.3" y="186.1" width="4.8" height="3.8" fill="#bababa"/>
<rect x="1410.7" y="196.0" width="3.2" height="5.9" fill="#bdbdbd"/>
<rect x="1231.4" y="232.6" width="3.3" height="4.5" fill="#c2c2c2"/>
<rect x="1451.3" y="219.5" width="4.8" height="3.0" fill="#bebebe"/>
<rect x="1376.0" y="233.1" width="4.0" height="4.9" fill="#949494"/>
<rect x="1286.4" y="209.0" width="3.1" height="4.6" fill="#909090"/>
<rect x="1445.2" y="235.3" width="4.5" height="3.1" fill="#aaaaaa"/>
<rect x="1261.5" y="210.8" width="3.2" height="5.0" fill="#969696"/>
<rect x="1304.0" y="190.7" width="5.0" height="4.6" fill="#b9b9b9"/>
<rect x="1229.9" y="206.9" width="4.7" height="5.5" fill="#a1a1a1"/>
<rect x="1379.2" y="245.2" width="4.5" height="3.4" fill="#bbbbbb"/>
<rect x="1233.8" y="227.8" width="3.0" height="3.2" fill="#b2b2b2"/>
<rect x="1320.6" y="222.0" width="4.0" height="4.4" fill="#b4b4b4"/>
<rect x="1435.1" y="239.6" width="4.8" height="5.2" fill="#bfbfbf"/>
<rect x="1401.2" y="237.6" width="4.4" height="3.1" fill="#a8a8a8"/>
<rect x="1478.3" y="212.1" width="4.8" height="3.5" fill="#b8b8b8"/>
<rect x="1303.3" y="204.8" width="3.5" height="3.9" fill="#959595"/>
<rect x="1393.7" y="240.1" width="3.9" height="5.9" fill="#bbbbbb"/>
<rect x="1422.3" y="201.2" width="4.7" height="6.0" fill="#9e9e9e"/>
<rect x="1268.4" y="239.9" width="3.8" height="3.1" fill="#c4c4c4"/>
<rect x="1429.7" y="238.1" width="3.7" height="5.3" fill="#bcbcbc"/>
<rect x="1444.3" y="204.3" width="4.1" height="3.3" fill="#b3b3b3"/>
<rect x="1486.1" y="194.7" width="3.7" height="4.6" fill="#aeaeae"/>
<rect x="1477.4" y="209.6" width="4.3" height="4.6" fill="#c3c3c3"/>
<rect x="1226.5" y="197.6" width="4.4" height="5.9" fill="#a0a0a0"/>
<rect x="1276.8" y="229.4" width="4.8" height="3.0" fill="#c7c7c7"/>
<rect x="1403.8" y="226.9" width="3.4" height="4.3" fill="#bababa"/>
<rect x="1276.0" y="186.7" width="4.5" height="3.7" fill="#b7b7b7"/>
<rect x="1486.0" y="224.4" width="3.4" height="3.8" fill="#b1b1b1"/>
<rect x="1405.5" y="203.3" width="4.3" height="4.8" fill="#949494"/>
<rect x="1307.3" y="193.8" width="3.1" height="3.0" fill="#969696"/>
<rect x="1403.5" y="201.2" width="4.0" height="5.9" fill="#bbbbbb"/>
<rect x="1289.9" y="210.2" width="3.4" height="3.3" fill="#b7b7b7"/>
<rect x="1228.1" y="240.8" width="3.9" height="5.2" fill="#a3a3a3"/>
<rect x="1444.8" y="199.0" width="4.7" height="3.1" fill="#c0c0c0"/>
<rect x="1282.0" y="185.6" width="4.6" height="5.0" fill="#9b9b9b"/>
<rect x="1394.6" y="221.1" width="4.8" height="3.5" fill="#b5b5b5"/>
<rect x="1228.8" y="245.5" width="3.4" height="3.4" fill="#a5a5a5"/>
<rect x="1266.0" y="188.9" width="4.3" height="4.7" fill="#919191"/>
<rect x="1484.4" y="207.4" width="4.7" height="3.4" fill="#b8b8b8"/>
<rect x="1274.7" y="206.8" width="3.3" height="5.4" fill="#adadad"/>
<rect x="1436.2" y="202.5" width="3.2" height="3.7" fill="#a5a5a5"/>
<rect x="1257.3" y="198.4" width="4.5" height="3.7" fill="#a6a6a6"/>
<rect x="1339.8" y="237.2" width="3.7" height="4.9" fill="#939393"/>
<rect x="1269.4" y="186.7" width="4.3" height="5.5" fill="#a9a9a9"/>
<rect x="1411.2" y="190.7" width="3.2" height="4.4" fill="#979797"/>
<rect x="1268.3" y="212.1" width="4.0" height="3.5" fill="#979797"/>
<rect x="1339.3" y="242.1" width="3.1" height="4.1" fill="#afafaf"/>
<rect x="1420.9" y="219.5" width="3.1" height="3.7" fill="#c1c1c1"/>
<rect x="1232.5" y="241.1" width="4.9" height="5.6" fill="#adadad"/>
<rect x="1456.4" y="198.1" width="3.5" height="3.5" fill="#959595"/>
<rect x="1336.7" y="228.3" width="3.5" height="5.8" fill="#949494"/>
<rect x="1260.8" y="225.5" width="3.9" height="4.0" fill="#a4a4a4"/>
<rect x="1342.9" y="195.6" width="3.2" height="6.0" fill="#919191"/>
<rect x="1207.2" y="213.4" width="4.3" height="4.5" fill="#b9b9b9"/>
<rect x="1347.7" y="222.1" width="4.1" height="3.7" fill="#b4b4b4"/>
<rect x="1480.6" y="229.1" width="3.3" height="5.4" fill="#c0c0c0"/>
<rect x="1253.8" y="198.5" width="3.7" height="5.7" fill="#b1b1b1"/>
<rect x="1264.0" y="187.2" width="4.8" height="3.2" fill="#a9a9a9"/>
<rect x="1422.2" y="220.8" width="3.3" height="3.6" fill="#c5c5c5"/>
<rect x="1203.7" y="241.9" width="3.8" height="5.0" fill="#9d9d9d"/>
<rect x="1480.7" y="214.8" width="4.0" height="4.5" fill="#c8c8c8"/>
<rect x="1446.6" y="197.4" width="4.2" height="3.6" fill="#c8c8c8"/>
<rect x="1484.6" y="204.7" width="3.9" height="3.7" fill="#a7a7a7"/>
<rect x="1206.8" y="207.4" width="3.7" height="5.0" fill="#999999"/>
<rect x="1379.4" y="201.0" width="4.7" height="3.0" fill="#a9a9a9"/>
<rect x="1240.7" y="199.4" width="4.1" height="5.1" fill="#979797"/>
<rect x="1240.5" y="217.1" width="4.9" height="3.4" fill="#b1b1b1"/>
<rect x="1269.2" y="195.4" width="4.8" height="3.2" fill="#b1b1b1"/>
<rect x="1463.0" y="225.2" width="3.9" height="4.2" fill="#c0c0c0"/>
<rect x="1478.0" y="210.0" width="4.9" height="3.8" fill="#939393"/>
<rect x="1205.2" y="202.9" width="4.8" height="3.3" fill="#a0a0a0"/>
<rect x="1324.0" y="216.4" width="4.9" height="5.6" fill="#c0c0c0"/>
<rect x="1351.5" y="192.0" width="4.6" height="5.0" fill="#9e9e9e"/>
<rect x="1436.9" y="239.1" width="4.3" height="4.8" fill="#c6c6c6"/>
<rect x="1466.2" y="220.2" width="3.4" height="3.2" fill="#9a9a9a"/>
<rect x="1269.9" y="207.4" width="4.4" height="3.8" fill="#adadad"/>
<rect x="1419.2" y="223.6" width="4.4" height="3.2" fill="#aaaaaa"/>
<rect x="1202.8" y="213.3" width="4.3" height="5.4" fill="#b6b6b6"/>
<rect x="1253.3" y="242.6" width="4.4" height="4.9" fill="#bcbcbc"/>
<rect x="1484.1" y="197.6" width="3.5" height="4.3" fill="#a7a7a7"/>
<rect x="1268.6" y="228.6" width="4.9" height="5.7" fill="#a4a4a4"/>
<rect x="1237.7" y="198.3" width="4.3" height="5.3" fill="#9c9c9c"/>
<rect x="1240.3" y="210.1" width="3.5" height="3.1" fill="#a8a8a8"/>
<rect x="1479.7" y="219.8" width="3.2" height="4.7" fill="#a4a4a4"/>
<rect x="1251.9" y="214.2" width="4.4" height="4.3" fill="#919191"/>
<rect x="1309.3" y="244.2" width="4.4" height="3.5" fill="#bbbbbb"/>
<rect x="1387.4" y="227.3" width="4.7" height="4.9" fill="#c6c6c6"/>
<rect x="1289.2" y="200.3" width="3.4" height="5.3" fill="#bebebe"/>
<rect x="1458.9" y="220.0" width="4.2" height="5.5" fill="#9b9b9b"/>
<rect x="1415.5" y="201.5" width="3.0" height="4.6" fill="#949494"/>
<rect x="1406.7" y="185.2" width="3.0" height="3.5" fill="#9d9d9d"/>
<rect x="1492.7" y="186.2" width="3.5" height="5.1" fill="#969696"/>
<rect x="1243.9" y="204.8" width="4.9" height="5.9" fill="#adadad"/>
<rect x="1341.9" y="200.7" width="3.6" height="4.3" fill="#939393"/>
<rect x="1227.1" y="223.4" width="3.2" height="3.5" fill="#b7b7b7"/>
<rect x="1416.1" y="205.4" width="3.5" height="5.4" fill="#acacac"/>
<rect x="1366.2" y="188.0" width="3.4" height="5.8" fill="#999999"/>
<rect x="1412.0" y="199.0" width="4.4" height="4.2" fill="#bdbdbd"/>
<rect x="1373.2" y="196.8" width="4.6" height="3.3" fill="#b8b8b8"/>
<rect x="1268.3" y="190.6" width="4.6" height="5.4" fill="#b5b5b5"/>
<rect x="1257.0" y="220.9" width="4.1" height="3.4" fill="#969696"/>
<rect x="1276.5" y="210.9" width="4.3" height="3.7" fill="#aeaeae"/>
<rect x="1414.1" y="198.7" width="4.4" height="3.1" fill="#a0a0a0"/>
<rect x="1381.8" y="239.0" width="4.3" height="5.1" fill="#9b9b9b"/>
<rect x="1277.3" y="194.4" width="3.6" height="5.0" fill="#9d9d9d"/>
<rect x="1411.6" y="242.1" width="4.5" height="5.5" fill="#bcbcbc"/>
<rect x="1413.7" y="188.4" width="3.6" height="3.9" fill="#b2b2b2"/>
<rect x="1352.5" y="194.4" width="3.2" height="3.1" fill="#c4c4c4"/>
<rect x="1258.4" y="192.2" width="4.8" height="4.4" fill="#acacac"/>
<rect x="1412.0" y="217.2" width="4.0" height="4.1" fill="#bbbbbb"/>
<rect x="1314.9" y="214.9" width="3.2" height="3.2" fill="#9e9e9e"/>
<rect x="1294.1" y="214.3" width="4.3" height="3.7" fill="#b8b8b8"/>
<rect x="1332.0" y="241.5" width="4.5" height="4.1" fill="#c4c4c4"/>
<rect x="1334.8" y="224.3" width="4.2" height="3.3" fill="#a0a0a0"/>
<rect x="1470.1" y="192.6" width="3.1" height="5.9" fill="#aaaaaa"/>
<rect x="1220.3" y="230.9" width="4.2" height="3.9" fill="#bbbbbb"/>
<rect x="1316.6" y="190.8" width="3.9" height="3.3" fill="#c6c6c6"/>
<rect x="1428.0" y="193.3" width="3.1" height="3.9" fill="#969696"/>
<rect x="1357.9" y="236.2" width="3.1" height="3.5" fill="#999999"/>
<rect x="1326.3" y="205.2" width="3.3" height="5.3" fill="#979797"/>
<rect x="1234.7" y="200.3" width="3.5" height="5.9" fill="#b9b9b9"/>
<rect x="1339.6" y="241.7" width="4.8" height="5.7" fill="#b2b2b2"/>
<rect x="1412.2" y="229.5" width="3.6" height="4.4" fill="#979797"/>
<rect x="1231.7" y="233.1" width="3.4" height="5.9" fill="#a3a3a3"/>
<rect x="1339.1" y="245.7" width="3.5" height="3.8" fill="#989898"/>
<rect x="1251.0" y="230.5" width="4.7" height="4.0" fill="#a3a3a3"/>
<rect x="1443.7" y="237.4" width="3.4" height="4.3" fill="#b0b0b0"/>
<rect x="1380.1" y="238.7" width="3.0" height="5.3" fill="#c5c5c5"/>
<rect x="1442.7" y="200.8" width="3.7" height="5.5" fill="#a4a4a4"/>
<rect x="1312.1" y="191.7" width="3.7" height="4.1" fill="#9d9d9d"/>
<rect x="1387.7" y="238.9" width="4.8" height="4.2" fill="#bababa"/>
<rect x="1438.4" y="243.7" width="3.5" height="5.8" fill="#b9b9b9"/>
<rect x="1274.8" y="224.1" width="4.5" height="5.4" fill="#a5a5a5"/>
<rect x="1359.2" y="205.7" width="4.7" height="3.4" fill="#bebebe"/>
<rect x="1451.2" y="237.3" width="3.7" height="5.5" fill="#989898"/>
<rect x="1399.8" y="224.0" width="4.9" height="5.2" fill="#939393"/>
<rect x="1334.5" y="205.5" width="4.7" height="4.6" fill="#bcbcbc"/>
<rect x="1263.3" y="205.2" width="4.6" height="5.6" fill="#9e9e9e"/>
<rect x="1207.7" y="233.6" width="3.2" height="4.0" fill="#9d9d9d"/>
<rect x="1420.0" y="197.3" width="3.1" height="3.2" fill="#aaaaaa"/>
<rect x="1482.6" y="203.5" width="3.8" height="5.4" fill="#b3b3b3"/>
<rect x="1465.6" y="229.5" width="4.8" height="4.4" fill="#a1a1a1"/>
<rect x="1231.3" y="220.4" width="4.7" height="4.7" fill="#bebebe"/>
<rect x="1323.2" y="238.3" width="4.0" height="4.5" fill="#b5b5b5"/>
<rect x="1307.7" y="243.4" width="3.4" height="4.1" fill="#b7b7b7"/>
<rect x="1210.4" y="220.0" width="3.2" height="5.7" fill="#a8a8a8"/>
<rect x="1227.3" y="216.8" width="4.4" height="4.3" fill="#bebebe"/>
<rect x="1265.7" y="230.4" width="4.6" height="4.1" fill="#bdbdbd"/>
<rect x="1494.3" y="210.7" width="3.4" height="5.6" fill="#a5a5a5"/>
<rect x="1259.6" y="202.9" width="4.4" height="5.8" fill="#a2a2a2"/>
<rect x="1361.6" y="215.7" width="4.5" height="3.6" fill="#b5b5b5"/>
<rect x="1496.7" y="218.2" width="3.3" height="5.9" fill="#bdbdbd"/>
<rect x="1363.6" y="230.0" width="3.4" height="5.7" fill="#c1c1c1"/>
<rect x="1261.4" y="186.4" width="3.7" height="5.8" fill="#acacac"/>
<rect x="1481.9" y="215.3" width="4.8" height="5.7" fill="#c4c4c4"/>
<rect x="1386.7" y="234.5" width="4.1" height="3.4" fill="#a8a8a8"/>
<rect x="1281.6" y="210.7" width="4.2" height="3.8" fill="#adadad"/>
<rect x="1201.7" y="206.0" width="3.9" height="3.3" fill="#b8b8b8"/>
<rect x="1275.5" y="216.7" width="4.5" height="3.7" fill="#9a9a9a"/>
<rect x="1259.7" y="219.7" width="4.2" height="5.7" fill="#b8b8b8"/>
<rect x="1410.0" y="201.3" width="4.5" height="5.1" fill="#bfbfbf"/>
<rect x="1478.7" y="212.4" width="4.9" height="3.2" fill="#959595"/>
<rect x="1401.2" y="193.5" width="3.1" height="5.4" fill="#aaaaaa"/>
<rect x="1299.4" y="230.2" width="4.3" height="6.0" fill="#9e9e9e"/>
<rect x="1321.6" y="223.0" width="3.4" height="3.5" fill="#a1a1a1"/>
<rect x="1225.2" y="196.8" width="3.3" height="3.7" fill="#a2a2a2"/>
<rect x="1342.0" y="212.0" width="4.0" height="3.6" fill="#c6c6c6"/>
<rect x="1339.6" y="196.7" width="4.0" height="5.8" fill="#b1b1b1"/>
<rect x="1221.7" y="228.1" width="3.3" height="3.5" fill="#c6c6c6"/>
<rect x="1325.9" y="206.4" width="3.8" height="4.1" fill="#b7b7b7"/>
<rect x="1456.0" y="220.2" width="3.8" height="3.5" fill="#909090"/>
<rect x="1304.7" y="222.7" width="4.7" height="5.2" fill="#c4c4c4"/>
<rect x="1288.3" y="218.6" width="3.8" height="4.3" fill="#b5b5b5"/>
<rect x="1242.9" y="206.6" width="4.5" height="5.8" fill="#c0c0c0"/>
<rect x="1400.1" y="205.5" width="4.6" height="4.8" fill="#c5c5c5"/>
<rect x="1290" y="152" width="20" height="48" fill="#c6c6c6"/>
<rect x="1392" y="136" width="26" height="24" fill="#c8c8c8"/>
<rect x="1478" y="125" width="22" height="50" fill="#c6c6c6"/>
<rect x="1420" y="142" width="8" height="33" fill="#c8c8c8"/>
<rect x="1262" y="160" width="18" height="40" fill="#c8c8c8"/>
<rect x="740" y="235" width="760" height="549" fill="url(#midg)"/>
<rect x="1253.9" y="235.4" width="4.6" height="5.0" fill="#c4c4c4"/>
<rect x="1295.2" y="269.1" width="5.4" height="3.1" fill="#939393"/>
<rect x="1303.5" y="271.6" width="4.1" height="7.5" fill="#c8c8c8"/>
<rect x="1298.2" y="259.7" width="4.9" height="5.4" fill="#a1a1a1"/>
<rect x="1309.2" y="260.2" width="5.4" height="4.3" fill="#848484"/>
<rect x="1281.2" y="254.7" width="5.7" height="5.7" fill="#bbbbbb"/>
<rect x="1206.5" y="242.1" width="3.5" height="6.4" fill="#5f5f5f"/>
<rect x="1267.2" y="230.3" width="5.4" height="3.7" fill="#787878"/>
<rect x="1468.4" y="308.7" width="5.2" height="6.6" fill="#9a9a9a"/>
<rect x="1472.2" y="264.7" width="5.8" height="3.4" fill="#6f6f6f"/>
<rect x="1313.7" y="233.2" width="5.2" height="7.3" fill="#c1c1c1"/>
<rect x="1487.9" y="228.4" width="5.3" height="6.0" fill="#5f5f5f"/>
<rect x="1410.1" y="282.9" width="3.4" height="3.1" fill="#656565"/>
<rect x="1380.7" y="286.3" width="3.5" height="3.9" fill="#cccccc"/>
<rect x="1328.6" y="259.0" width="4.1" height="7.9" fill="#767676"/>
<rect x="1494.8" y="286.5" width="3.7" height="7.9" fill="#6d6d6d"/>
<rect x="1304.1" y="292.3" width="3.5" height="3.8" fill="#5f5f5f"/>
<rect x="1209.9" y="263.9" width="4.6" height="6.4" fill="#b7b7b7"/>
<rect x="1460.2" y="278.9" width="4.7" height="5.3" fill="#808080"/>
<rect x="1454.2" y="304.8" width="4.2" height="7.7" fill="#9b9b9b"/>
<rect x="1313.7" y="287.9" width="3.4" height="3.9" fill="#595959"/>
<rect x="1351.7" y="225.5" width="5.4" height="6.9" fill="#b8b8b8"/>
<rect x="1368.5" y="289.6" width="4.2" height="6.3" fill="#898989"/>
<rect x="1473.2" y="278.7" width="5.9" height="7.8" fill="#7e7e7e"/>
<rect x="1467.4" y="296.8" width="4.1" height="4.3" fill="#b7b7b7"/>
<rect x="1402.6" y="252.7" width="5.5" height="8.0" fill="#b3b3b3"/>
<rect x="1246.9" y="301.3" width="3.8" height="6.1" fill="#939393"/>
<rect x="1224.6" y="306.3" width="3.8" height="7.6" fill="#b3b3b3"/>
<rect x="1370.0" y="305.0" width="3.4" height="6.8" fill="#9e9e9e"/>
<rect x="1225.8" y="292.9" width="4.3" height="7.7" fill="#646464"/>
<rect x="1458.0" y="265.4" width="3.8" height="3.6" fill="#afafaf"/>
<rect x="1392.2" y="233.6" width="3.8" height="6.7" fill="#939393"/>
<rect x="1392.9" y="250.3" width="5.2" height="4.1" fill="#848484"/>
<rect x="1493.6" y="262.2" width="5.8" height="7.7" fill="#9d9d9d"/>
<rect x="1334.4" y="301.2" width="5.4" height="6.8" fill="#888888"/>
<rect x="1234.9" y="292.1" width="5.9" height="5.4" fill="#696969"/>
<rect x="1491.5" y="274.6" width="5.0" height="3.3" fill="#b1b1b1"/>
<rect x="1311.7" y="247.1" width="3.4" height="6.2" fill="#bababa"/>
<rect x="1225.8" y="301.3" width="3.1" height="5.4" fill="#c3c3c3"/>
<rect x="1339.3" y="289.5" width="3.1" height="5.3" fill="#afafaf"/>
<rect x="1254.8" y="236.9" width="4.0" height="7.7" fill="#bababa"/>
<rect x="1348.4" y="255.6" width="3.4" height="3.9" fill="#6c6c6c"/>
<rect x="1431.2" y="247.4" width="5.8" height="5.4" fill="#c6c6c6"/>
<rect x="1381.6" y="309.9" width="3.7" height="7.5" fill="#b5b5b5"/>
<rect x="1452.3" y="264.6" width="4.9" height="5.7" fill="#646464"/>
<rect x="1400.7" y="290.5" width="5.7" height="7.0" fill="#747474"/>
<rect x="1484.4" y="306.1" width="4.4" height="7.1" fill="#6b6b6b"/>
<rect x="1319.5" y="240.0" width="5.1" height="5.8" fill="#686868"/>
<rect x="1279.2" y="257.9" width="4.4" height="5.5" fill="#9a9a9a"/>
<rect x="1247.8" y="303.9" width="5.3" height="5.9" fill="#848484"/>
<rect x="1241.3" y="275.7" width="5.9" height="7.9" fill="#cccccc"/>
<rect x="1292.9" y="227.6" width="4.2" height="5.7" fill="#717171"/>
<rect x="1386.7" y="276.0" width="3.4" height="4.4" fill="#cacaca"/>
<rect x="1480.0" y="282.2" width="5.1" height="4.8" fill="#999999"/>
<rect x="1306.1" y="278.6" width="5.6" height="6.3" fill="#7c7c7c"/>
<rect x="1486.1" y="230.8" width="5.9" height="4.2" fill="#595959"/>
<rect x="1349.9" y="235.7" width="4.7" height="4.0" fill="#bcbcbc"/>
<rect x="1473.4" y="312.9" width="5.0" height="6.4" fill="#a9a9a9"/>
<rect x="1214.5" y="264.2" width="5.1" height="3.0" fill="#cccccc"/>
<rect x="1202.6" y="262.1" width="3.9" height="5.8" fill="#c4c4c4"/>
<rect x="1203.9" y="242.8" width="4.8" height="7.1" fill="#6e6e6e"/>
<rect x="1474.5" y="249.5" width="5.5" height="3.5" fill="#c2c2c2"/>
<rect x="1485.5" y="261.6" width="4.5" height="4.6" fill="#acacac"/>
<rect x="1491.2" y="234.7" width="3.2" height="7.2" fill="#b2b2b2"/>
<rect x="1307.9" y="285.4" width="3.8" height="3.7" fill="#cacaca"/>
<rect x="1383.3" y="281.9" width="6.0" height="8.0" fill="#6b6b6b"/>
<rect x="1305.8" y="305.3" width="5.2" height="5.8" fill="#777777"/>
<rect x="1244.3" y="278.7" width="3.4" height="3.8" fill="#b8b8b8"/>
<rect x="1370.3" y="275.2" width="3.5" height="5.5" fill="#8a8a8a"/>
<rect x="1217.2" y="263.9" width="4.6" height="3.1" fill="#747474"/>
<rect x="1442.8" y="246.9" width="5.3" height="4.2" fill="#636363"/>
<rect x="1299.2" y="293.9" width="4.4" height="4.9" fill="#737373"/>
<rect x="1333.5" y="269.2" width="5.0" height="7.2" fill="#c7c7c7"/>
<rect x="1220.5" y="232.5" width="4.8" height="3.9" fill="#808080"/>
<rect x="1325.7" y="252.4" width="3.3" height="6.2" fill="#959595"/>
<rect x="1245.5" y="252.7" width="5.8" height="4.2" fill="#7f7f7f"/>
<rect x="1326.2" y="239.7" width="5.7" height="6.5" fill="#5d5d5d"/>
<rect x="1392.2" y="238.7" width="3.4" height="7.2" fill="#a3a3a3"/>
<rect x="1299.5" y="234.2" width="3.2" height="5.5" fill="#b1b1b1"/>
<rect x="1249.6" y="284.9" width="5.2" height="5.6" fill="#8c8c8c"/>
<rect x="1466.3" y="225.3" width="5.0" height="3.5" fill="#737373"/>
<rect x="1226.0" y="287.6" width="4.2" height="4.0" fill="#cfcfcf"/>
<rect x="1398.5" y="245.2" width="4.0" height="4.3" fill="#888888"/>
<rect x="1245.9" y="231.3" width="5.1" height="5.2" fill="#999999"/>
<rect x="1229.4" y="268.9" width="6.0" height="7.6" fill="#939393"/>
<rect x="1346.9" y="296.7" width="3.6" height="6.3" fill="#7b7b7b"/>
<rect x="1339.3" y="237.4" width="5.8" height="7.1" fill="#929292"/>
<rect x="1406.9" y="276.2" width="3.4" height="6.4" fill="#cdcdcd"/>
<rect x="1437.8" y="235.0" width="3.1" height="6.6" fill="#7f7f7f"/>
<rect x="1414.6" y="256.0" width="3.2" height="5.9" fill="#ababab"/>
<rect x="1281.9" y="311.5" width="4.1" height="6.6" fill="#8d8d8d"/>
<rect x="1415.6" y="304.2" width="3.0" height="3.5" fill="#a4a4a4"/>
<rect x="1412.6" y="235.1" width="3.5" height="7.4" fill="#868686"/>
<rect x="1212.5" y="257.5" width="5.0" height="3.0" fill="#c1c1c1"/>
<rect x="1467.2" y="296.1" width="6.0" height="4.6" fill="#c0c0c0"/>
<rect x="1390.2" y="307.6" width="4.8" height="7.8" fill="#9c9c9c"/>
<rect x="1343.2" y="255.2" width="3.6" height="5.6" fill="#858585"/>
<rect x="1265.8" y="249.7" width="4.5" height="5.9" fill="#949494"/>
<rect x="1396.3" y="241.7" width="4.5" height="5.1" fill="#989898"/>
<rect x="1408.4" y="293.8" width="3.8" height="6.9" fill="#969696"/>
<rect x="1351.3" y="257.8" width="3.7" height="7.6" fill="#7b7b7b"/>
<rect x="1442.1" y="267.7" width="4.2" height="6.5" fill="#b0b0b0"/>
<rect x="1306.1" y="252.5" width="3.6" height="5.3" fill="#838383"/>
<rect x="1261.1" y="245.7" width="5.3" height="6.7" fill="#b6b6b6"/>
<rect x="1387.4" y="286.5" width="5.0" height="6.4" fill="#797979"/>
<rect x="1209.6" y="311.8" width="3.2" height="4.8" fill="#979797"/>
<rect x="1437.3" y="245.0" width="5.0" height="7.8" fill="#808080"/>
<rect x="1418.7" y="267.9" width="3.3" height="7.0" fill="#848484"/>
<rect x="1410.9" y="305.2" width="3.8" height="5.4" fill="#bebebe"/>
<rect x="1324.0" y="253.2" width="5.6" height="5.2" fill="#cdcdcd"/>
<rect x="1283.3" y="309.1" width="3.6" height="3.8" fill="#bebebe"/>
<rect x="1463.7" y="262.5" width="4.0" height="7.3" fill="#6f6f6f"/>
<rect x="1235.2" y="306.4" width="5.3" height="4.9" fill="#8d8d8d"/>
<rect x="1275.5" y="226.8" width="4.2" height="6.0" fill="#878787"/>
<rect x="1310.0" y="295.0" width="4.1" height="3.1" fill="#808080"/>
<rect x="1255.6" y="226.8" width="5.0" height="6.1" fill="#a9a9a9"/>
<rect x="1259.1" y="302.4" width="4.8" height="4.5" fill="#c5c5c5"/>
<rect x="1370.3" y="253.7" width="3.7" height="5.9" fill="#5c5c5c"/>
<rect x="1378.2" y="270.3" width="4.0" height="6.2" fill="#676767"/>
<rect x="1323.4" y="257.9" width="3.6" height="4.6" fill="#c4c4c4"/>
<rect x="1271.3" y="299.6" width="3.3" height="7.9" fill="#757575"/>
<rect x="1211.2" y="296.8" width="4.8" height="4.9" fill="#b9b9b9"/>
<rect x="1341.9" y="312.0" width="3.8" height="6.9" fill="#5f5f5f"/>
<rect x="1384.9" y="295.7" width="4.1" height="4.1" fill="#bdbdbd"/>
<rect x="1436.2" y="234.4" width="4.6" height="4.9" fill="#777777"/>
<rect x="1492.7" y="233.2" width="5.3" height="5.2" fill="#8f8f8f"/>
<rect x="1227.7" y="233.4" width="3.6" height="3.0" fill="#848484"/>
<rect x="1285.5" y="287.8" width="4.3" height="5.5" fill="#969696"/>
<rect x="1350.1" y="270.0" width="5.9" height="3.8" fill="#858585"/>
<rect x="1458.4" y="257.5" width="5.6" height="4.0" fill="#808080"/>
<rect x="1283.8" y="232.5" width="4.8" height="5.8" fill="#cbcbcb"/>
<rect x="1394.3" y="273.6" width="4.1" height="3.6" fill="#7f7f7f"/>
<rect x="1300.2" y="261.6" width="4.0" height="7.2" fill="#cbcbcb"/>
<rect x="1247.9" y="284.6" width="4.1" height="5.0" fill="#a8a8a8"/>
<rect x="1268.8" y="296.1" width="4.3" height="5.0" fill="#8f8f8f"/>
<rect x="1416.0" y="227.6" width="5.5" height="4.9" fill="#727272"/>
<rect x="1398.7" y="269.0" width="5.9" height="6.4" fill="#919191"/>
<rect x="1391.3" y="288.2" width="3.6" height="3.9" fill="#777777"/>
<rect x="1380.9" y="240.7" width="4.9" height="3.7" fill="#959595"/>
<rect x="1239.7" y="268.1" width="3.9" height="5.8" fill="#a2a2a2"/>
<rect x="1401.3" y="274.4" width="3.4" height="4.5" fill="#a2a2a2"/>
<rect x="1265.5" y="264.4" width="5.3" height="5.9" fill="#bcbcbc"/>
<rect x="1307.5" y="264.6" width="4.7" height="6.8" fill="#cccccc"/>
<rect x="1231.4" y="279.3" width="5.5" height="6.3" fill="#5c5c5c"/>
<rect x="1414.2" y="248.3" width="5.8" height="7.9" fill="#bdbdbd"/>
<rect x="1354.4" y="226.4" width="3.5" height="7.1" fill="#c3c3c3"/>
<rect x="1403.6" y="271.8" width="4.3" height="7.2" fill="#bfbfbf"/>
<rect x="1300.4" y="227.3" width="3.6" height="7.5" fill="#808080"/>
<rect x="1385.2" y="236.1" width="3.2" height="3.4" fill="#6b6b6b"/>
<rect x="1472.5" y="307.0" width="3.9" height="4.4" fill="#c0c0c0"/>
<rect x="1434.0" y="250.2" width="6.0" height="5.2" fill="#c7c7c7"/>
<rect x="1267.1" y="233.1" width="5.4" height="6.7" fill="#c7c7c7"/>
<rect x="1454.6" y="237.8" width="4.7" height="6.1" fill="#acacac"/>
<rect x="1334.8" y="242.3" width="4.4" height="6.9" fill="#cbcbcb"/>
<rect x="1446.2" y="246.9" width="3.8" height="6.7" fill="#ababab"/>
<rect x="1264.3" y="311.7" width="4.2" height="4.1" fill="#848484"/>
<rect x="1207.9" y="292.4" width="4.5" height="5.5" fill="#b1b1b1"/>
<rect x="1261.7" y="256.3" width="5.6" height="4.8" fill="#b0b0b0"/>
<rect x="1354.8" y="238.9" width="5.0" height="5.0" fill="#c6c6c6"/>
<rect x="1432.6" y="242.7" width="4.4" height="5.5" fill="#afafaf"/>
<rect x="1227.9" y="249.3" width="4.1" height="7.1" fill="#a4a4a4"/>
<rect x="1371.0" y="244.6" width="4.4" height="4.9" fill="#8c8c8c"/>
<rect x="1275.4" y="298.1" width="3.0" height="7.0" fill="#9a9a9a"/>
<rect x="1237.0" y="294.1" width="4.8" height="6.1" fill="#7b7b7b"/>
<rect x="1399.7" y="296.8" width="5.6" height="6.9" fill="#8c8c8c"/>
<rect x="1255.8" y="233.8" width="5.0" height="7.8" fill="#898989"/>
<rect x="1265.4" y="304.1" width="4.5" height="3.7" fill="#878787"/>
<rect x="1371.3" y="242.3" width="3.4" height="3.9" fill="#919191"/>
<rect x="1348.8" y="300.1" width="4.6" height="5.2" fill="#5a5a5a"/>
<rect x="1211.3" y="294.8" width="5.8" height="4.0" fill="#9c9c9c"/>
<rect x="1430.7" y="252.9" width="4.6" height="4.1" fill="#afafaf"/>
<rect x="1392.1" y="258.1" width="3.7" height="5.9" fill="#929292"/>
<rect x="1405.2" y="238.6" width="3.2" height="6.2" fill="#9a9a9a"/>
<rect x="1447.3" y="304.6" width="5.2" height="3.5" fill="#5e5e5e"/>
<rect x="1274.9" y="232.9" width="3.7" height="3.4" fill="#939393"/>
<rect x="1336.7" y="258.6" width="3.8" height="4.5" fill="#b7b7b7"/>
<rect x="1265.9" y="225.8" width="5.2" height="3.6" fill="#808080"/>
<rect x="1431.5" y="313.1" width="3.3" height="6.5" fill="#717171"/>
<rect x="1322.2" y="307.1" width="3.1" height="6.8" fill="#878787"/>
<rect x="1480.6" y="271.9" width="3.9" height="3.4" fill="#8d8d8d"/>
<rect x="1445.7" y="267.0" width="4.3" height="6.8" fill="#6d6d6d"/>
<rect x="1320.6" y="282.9" width="4.2" height="7.5" fill="#9b9b9b"/>
<rect x="1272.5" y="274.7" width="4.4" height="5.9" fill="#c0c0c0"/>
<rect x="1461.3" y="313.2" width="3.2" height="4.8" fill="#5a5a5a"/>
<rect x="1448.8" y="266.8" width="4.9" height="6.2" fill="#686868"/>
<rect x="1415.7" y="243.1" width="3.9" height="6.6" fill="#a5a5a5"/>
<rect x="1206.5" y="264.2" width="5.0" height="6.3" fill="#7f7f7f"/>
<rect x="1237.8" y="285.5" width="4.8" height="4.7" fill="#7a7a7a"/>
<rect x="1360.8" y="298.1" width="5.4" height="4.5" fill="#666666"/>
<rect x="1476.0" y="227.3" width="5.2" height="3.3" fill="#afafaf"/>
<rect x="1316.9" y="270.7" width="4.1" height="3.9" fill="#8a8a8a"/>
<rect x="1289.0" y="311.5" width="3.4" height="5.6" fill="#868686"/>
<rect x="1486.5" y="254.2" width="4.3" height="4.1" fill="#a6a6a6"/>
<rect x="1422.4" y="250.1" width="5.5" height="5.0" fill="#656565"/>
<rect x="1459.4" y="243.2" width="3.1" height="5.2" fill="#8d8d8d"/>
<rect x="1245.0" y="272.1" width="5.3" height="4.4" fill="#8b8b8b"/>
<rect x="1270.0" y="274.1" width="5.8" height="7.5" fill="#8a8a8a"/>
<rect x="1471.8" y="252.2" width="3.1" height="5.2" fill="#9e9e9e"/>
<rect x="1472.5" y="235.0" width="5.1" height="3.3" fill="#7c7c7c"/>
<rect x="1310.7" y="236.6" width="5.1" height="3.1" fill="#919191"/>
<rect x="1266.1" y="232.4" width="3.0" height="3.8" fill="#636363"/>
<rect x="1240.6" y="298.4" width="3.6" height="5.6" fill="#8a8a8a"/>
<rect x="1448.7" y="229.3" width="3.8" height="4.2" fill="#b1b1b1"/>
<rect x="1321.1" y="277.2" width="3.3" height="7.7" fill="#c0c0c0"/>
<rect x="1405.8" y="278.9" width="3.3" height="3.3" fill="#afafaf"/>
<rect x="1255.3" y="264.1" width="3.8" height="5.5" fill="#7a7a7a"/>
<rect x="1281.1" y="283.1" width="4.8" height="4.5" fill="#626262"/>
<rect x="1267.4" y="235.3" width="5.4" height="5.5" fill="#959595"/>
<rect x="1310.5" y="261.4" width="4.5" height="6.6" fill="#c3c3c3"/>
<rect x="1464.4" y="311.2" width="3.8" height="7.9" fill="#c9c9c9"/>
<rect x="1381.3" y="242.9" width="3.8" height="7.1" fill="#d0d0d0"/>
<rect x="1364.7" y="232.0" width="4.9" height="7.0" fill="#c0c0c0"/>
<rect x="1382.7" y="242.6" width="3.5" height="4.3" fill="#909090"/>
<rect x="1394.8" y="234.6" width="5.1" height="3.5" fill="#919191"/>
<rect x="1212.7" y="241.9" width="4.9" height="6.4" fill="#cbcbcb"/>
<rect x="1310.8" y="287.6" width="4.2" height="5.1" fill="#b1b1b1"/>
<rect x="1368.0" y="271.4" width="5.0" height="5.0" fill="#6f6f6f"/>
<rect x="1428.7" y="311.5" width="5.8" height="7.8" fill="#909090"/>
<rect x="1418.7" y="289.9" width="5.5" height="4.2" fill="#c9c9c9"/>
<rect x="1278.8" y="294.0" width="5.5" height="7.4" fill="#919191"/>
<rect x="1436.5" y="301.0" width="3.9" height="4.8" fill="#bdbdbd"/>
<rect x="1245.9" y="276.8" width="5.0" height="3.9" fill="#717171"/>
<rect x="1245.8" y="290.6" width="4.0" height="3.5" fill="#737373"/>
<rect x="1449.9" y="252.3" width="5.5" height="4.6" fill="#787878"/>
<rect x="1328.8" y="259.9" width="4.2" height="3.1" fill="#5a5a5a"/>
<rect x="1200.1" y="311.6" width="5.6" height="4.9" fill="#737373"/>
<rect x="1229.5" y="290.2" width="3.8" height="3.1" fill="#9e9e9e"/>
<rect x="1284.7" y="313.1" width="4.5" height="4.2" fill="#858585"/>
<rect x="1236.6" y="299.3" width="6.0" height="7.4" fill="#5b5b5b"/>
<rect x="1405.1" y="273.4" width="5.1" height="7.0" fill="#bababa"/>
<rect x="1278.8" y="260.6" width="3.5" height="5.7" fill="#6f6f6f"/>
<rect x="1429.8" y="281.0" width="5.1" height="5.9" fill="#a0a0a0"/>
<rect x="1366.8" y="253.7" width="5.8" height="7.1" fill="#c7c7c7"/>
<rect x="1298.6" y="289.6" width="4.1" height="3.5" fill="#c8c8c8"/>
<rect x="1476.6" y="294.0" width="4.9" height="6.3" fill="#8d8d8d"/>
<rect x="1293.9" y="234.7" width="4.4" height="6.8" fill="#a2a2a2"/>
<rect x="1401.4" y="306.0" width="5.4" height="4.2" fill="#676767"/>
<rect x="1299.2" y="310.0" width="3.4" height="5.5" fill="#d0d0d0"/>
<rect x="1386.8" y="240.3" width="4.3" height="7.0" fill="#cdcdcd"/>
<rect x="1334.2" y="226.6" width="3.5" height="3.4" fill="#929292"/>
<rect x="1322.3" y="299.1" width="4.2" height="7.8" fill="#b6b6b6"/>
<rect x="1290.0" y="269.6" width="4.8" height="4.2" fill="#878787"/>
<rect x="1295.3" y="279.3" width="4.9" height="5.5" fill="#d0d0d0"/>
<rect x="1203.6" y="233.5" width="3.6" height="4.7" fill="#5f5f5f"/>
<rect x="1406.3" y="309.8" width="4.3" height="7.2" fill="#bcbcbc"/>
<rect x="1203.7" y="259.2" width="4.8" height="5.9" fill="#777777"/>
<rect x="1360.1" y="259.4" width="4.9" height="3.3" fill="#939393"/>
<rect x="1416.4" y="298.2" width="4.2" height="3.5" fill="#a0a0a0"/>
<rect x="1458.4" y="312.8" width="3.3" height="6.0" fill="#b3b3b3"/>
<rect x="1397.4" y="249.2" width="3.1" height="7.4" fill="#c6c6c6"/>
<rect x="1272.9" y="275.5" width="5.5" height="7.5" fill="#858585"/>
<rect x="1382.6" y="254.3" width="3.9" height="6.8" fill="#999999"/>
<rect x="1468.8" y="275.5" width="5.8" height="5.8" fill="#cfcfcf"/>
<rect x="1364.0" y="290.2" width="3.1" height="5.3" fill="#cccccc"/>
<rect x="1387.2" y="272.8" width="4.9" height="5.4" fill="#adadad"/>
<rect x="1294.2" y="305.6" width="5.8" height="3.1" fill="#5f5f5f"/>
<rect x="1391.0" y="298.5" width="5.4" height="3.2" fill="#757575"/>
<rect x="1408.5" y="273.0" width="4.1" height="4.1" fill="#a1a1a1"/>
<rect x="1482.5" y="294.4" width="4.0" height="5.9" fill="#cacaca"/>
<rect x="1314.3" y="255.9" width="3.7" height="5.6" fill="#b8b8b8"/>
<rect x="1429.5" y="308.5" width="3.5" height="5.8" fill="#5a5a5a"/>
<rect x="1477.3" y="239.6" width="3.8" height="5.5" fill="#bdbdbd"/>
<rect x="1474.5" y="230.7" width="4.2" height="5.7" fill="#808080"/>
<rect x="1290.0" y="289.0" width="3.5" height="3.7" fill="#9e9e9e"/>
<rect x="1350.5" y="237.6" width="3.4" height="7.0" fill="#bababa"/>
<rect x="1476.7" y="298.7" width="5.5" height="4.1" fill="#737373"/>
<rect x="1445.3" y="233.6" width="3.0" height="7.3" fill="#b4b4b4"/>
<rect x="1445.3" y="312.5" width="5.3" height="6.2" fill="#7f7f7f"/>
<rect x="1292.3" y="284.7" width="5.5" height="7.6" fill="#aaaaaa"/>
<rect x="1281.2" y="247.4" width="5.5" height="5.8" fill="#999999"/>
<rect x="1463.7" y="246.2" width="3.4" height="7.3" fill="#acacac"/>
<rect x="1429.6" y="295.0" width="5.0" height="3.6" fill="#7d7d7d"/>
<rect x="1428.9" y="267.3" width="3.3" height="4.4" fill="#bababa"/>
<rect x="1303.5" y="305.5" width="3.5" height="3.5" fill="#6b6b6b"/>
<rect x="1227.1" y="283.9" width="3.2" height="6.8" fill="#626262"/>
<rect x="1458.8" y="261.3" width="3.7" height="6.3" fill="#8e8e8e"/>
<rect x="1271.9" y="296.2" width="3.1" height="4.7" fill="#aeaeae"/>
<rect x="1406.1" y="236.4" width="5.4" height="5.7" fill="#868686"/>
<rect x="1418.9" y="244.4" width="3.9" height="4.4" fill="#7f7f7f"/>
<rect x="1389.1" y="267.1" width="3.8" height="7.3" fill="#868686"/>
<rect x="1332.3" y="274.5" width="5.8" height="7.7" fill="#c0c0c0"/>
<rect x="1230.5" y="270.5" width="3.8" height="4.3" fill="#b4b4b4"/>
<rect x="1493.8" y="268.2" width="3.5" height="5.2" fill="#868686"/>
<rect x="1310.8" y="235.8" width="5.5" height="7.5" fill="#a4a4a4"/>
<rect x="1394.6" y="251.9" width="5.2" height="7.6" fill="#969696"/>
<rect x="1338.6" y="306.9" width="3.9" height="5.2" fill="#c5c5c5"/>
<rect x="1483.7" y="237.5" width="5.8" height="5.4" fill="#c7c7c7"/>
<rect x="1322.0" y="311.8" width="4.9" height="7.4" fill="#5b5b5b"/>
<rect x="1310.2" y="297.8" width="5.5" height="7.1" fill="#727272"/>
<rect x="1321.2" y="242.6" width="5.3" height="5.3" fill="#b8b8b8"/>
<rect x="1488.3" y="245.3" width="5.2" height="3.4" fill="#858585"/>
<rect x="1463.3" y="309.2" width="4.2" height="5.9" fill="#a4a4a4"/>
<rect x="1220.4" y="272.5" width="4.1" height="3.5" fill="#9e9e9e"/>
<rect x="1322.3" y="255.6" width="4.3" height="7.9" fill="#8a8a8a"/>
<rect x="1375.2" y="272.4" width="3.5" height="7.7" fill="#8b8b8b"/>
<rect x="1346.2" y="265.4" width="3.8" height="4.6" fill="#cecece"/>
<rect x="1215.9" y="239.5" width="4.7" height="4.0" fill="#818181"/>
<rect x="1269.7" y="293.3" width="5.3" height="7.4" fill="#8d8d8d"/>
<rect x="1212.6" y="230.9" width="4.6" height="5.7" fill="#a8a8a8"/>
<rect x="1471.1" y="298.9" width="5.1" height="4.9" fill="#7c7c7c"/>
<rect x="1394.2" y="245.0" width="3.2" height="5.8" fill="#5d5d5d"/>
<rect x="1417.7" y="282.4" width="4.5" height="3.2" fill="#7a7a7a"/>
<rect x="1255.0" y="241.5" width="4.3" height="4.2" fill="#bababa"/>
<rect x="1302.8" y="296.3" width="4.4" height="6.6" fill="#a0a0a0"/>
<rect x="1365.8" y="242.2" width="5.0" height="5.0" fill="#cdcdcd"/>
<rect x="1388.4" y="233.9" width="5.0" height="5.7" fill="#808080"/>
<rect x="1203.8" y="264.0" width="3.7" height="7.2" fill="#c0c0c0"/>
<rect x="1288.8" y="245.5" width="5.3" height="6.6" fill="#adadad"/>
<rect x="1303.6" y="292.2" width="3.9" height="6.6" fill="#9d9d9d"/>
<rect x="1311.5" y="310.9" width="5.4" height="7.9" fill="#595959"/>
<rect x="1360.5" y="260.7" width="5.6" height="3.1" fill="#b4b4b4"/>
<rect x="1432.1" y="275.1" width="3.9" height="4.0" fill="#b3b3b3"/>
<rect x="1427.9" y="245.0" width="4.5" height="3.2" fill="#919191"/>
<rect x="1397.7" y="294.3" width="3.0" height="4.3" fill="#a4a4a4"/>
<rect x="1397.8" y="243.2" width="4.3" height="6.7" fill="#989898"/>
<rect x="1258.4" y="252.5" width="4.8" height="6.6" fill="#818181"/>
<rect x="1416.5" y="277.1" width="3.3" height="4.7" fill="#6d6d6d"/>
<rect x="1421.5" y="238.5" width="5.2" height="3.6" fill="#646464"/>
<rect x="1280.0" y="304.1" width="3.8" height="5.6" fill="#c9c9c9"/>
<rect x="1406.0" y="274.5" width="3.9" height="6.7" fill="#777777"/>
<rect x="1203.9" y="253.8" width="5.8" height="7.8" fill="#7f7f7f"/>
<rect x="1466.2" y="227.1" width="3.6" height="5.2" fill="#bcbcbc"/>
<rect x="1466.4" y="250.0" width="3.9" height="3.1" fill="#717171"/>
<rect x="1235.5" y="241.2" width="3.4" height="4.8" fill="#767676"/>
<rect x="1290.1" y="272.2" width="4.7" height="5.2" fill="#b5b5b5"/>
<rect x="1470.6" y="296.4" width="5.2" height="4.7" fill="#9b9b9b"/>
<rect x="1239.6" y="305.0" width="4.4" height="4.6" fill="#a1a1a1"/>
<rect x="1463.2" y="227.9" width="3.3" height="7.6" fill="#acacac"/>
<rect x="1447.2" y="256.3" width="3.7" height="5.7" fill="#949494"/>
<rect x="1384.8" y="263.7" width="5.0" height="4.0" fill="#cecece"/>
<rect x="1212.2" y="249.2" width="3.6" height="6.6" fill="#666666"/>
<rect x="1251.7" y="296.0" width="3.4" height="5.6" fill="#646464"/>
<rect x="1237.4" y="244.1" width="4.9" height="7.3" fill="#b4b4b4"/>
<rect x="1299.9" y="259.8" width="4.4" height="7.7" fill="#cbcbcb"/>
<rect x="1463.7" y="242.5" width="4.0" height="7.8" fill="#999999"/>
<rect x="1449.7" y="295.8" width="5.8" height="3.6" fill="#b2b2b2"/>
<rect x="1482.9" y="234.4" width="4.8" height="3.5" fill="#b6b6b6"/>
<rect x="1401.9" y="262.1" width="5.2" height="4.6" fill="#b2b2b2"/>
<rect x="1314.1" y="295.1" width="3.1" height="7.7" fill="#919191"/>
<rect x="1360.6" y="227.3" width="5.4" height="4.5" fill="#939393"/>
<rect x="1401.0" y="262.3" width="3.2" height="7.3" fill="#cdcdcd"/>
<rect x="1224.3" y="286.4" width="5.8" height="7.8" fill="#afafaf"/>
<rect x="1472.7" y="265.3" width="4.8" height="3.1" fill="#9f9f9f"/>
<rect x="1208.6" y="308.7" width="5.4" height="4.4" fill="#787878"/>
<rect x="1495.3" y="292.6" width="3.1" height="3.7" fill="#717171"/>
<rect x="1397.2" y="276.0" width="3.4" height="7.5" fill="#686868"/>
<rect x="1201.0" y="261.6" width="4.2" height="7.7" fill="#5f5f5f"/>
<rect x="1480.4" y="302.0" width="6.0" height="3.5" fill="#b0b0b0"/>
<rect x="1346.4" y="268.5" width="3.1" height="6.5" fill="#696969"/>
<rect x="1238.8" y="302.1" width="4.5" height="7.0" fill="#8a8a8a"/>
<rect x="1336.2" y="283.8" width="3.8" height="4.2" fill="#9c9c9c"/>
<rect x="1350.9" y="313.5" width="5.7" height="5.6" fill="#727272"/>
<rect x="1293.0" y="236.2" width="3.0" height="4.6" fill="#8a8a8a"/>
<rect x="1343.8" y="301.8" width="3.1" height="7.6" fill="#acacac"/>
<rect x="1288.9" y="289.3" width="5.2" height="6.8" fill="#717171"/>
<rect x="1429.1" y="239.9" width="4.7" height="6.0" fill="#818181"/>
<rect x="1488.0" y="235.4" width="5.5" height="7.0" fill="#717171"/>
<rect x="1421.2" y="282.3" width="3.3" height="6.6" fill="#b6b6b6"/>
<rect x="1472.1" y="282.8" width="4.5" height="5.8" fill="#a7a7a7"/>
<rect x="1423.4" y="276.3" width="4.8" height="5.5" fill="#676767"/>
<rect x="1327.8" y="275.4" width="4.3" height="5.1" fill="#838383"/>
<rect x="1309.9" y="312.3" width="4.2" height="5.1" fill="#636363"/>
<rect x="1317.4" y="264.7" width="3.1" height="6.6" fill="#9f9f9f"/>
<rect x="1204.5" y="304.3" width="4.1" height="4.2" fill="#c9c9c9"/>
<rect x="1295.9" y="230.2" width="3.9" height="5.3" fill="#c3c3c3"/>
<rect x="1275.0" y="288.4" width="5.5" height="4.2" fill="#b8b8b8"/>
<rect x="1269.0" y="296.9" width="4.4" height="4.9" fill="#c0c0c0"/>
<rect x="1374.8" y="315.1" width="5.6" height="3.6" fill="#aeaeae"/>
<rect x="1217.9" y="291.8" width="4.4" height="3.7" fill="#606060"/>
<rect x="1339.5" y="304.1" width="5.4" height="6.3" fill="#c8c8c8"/>
<rect x="1373.7" y="263.5" width="4.8" height="3.5" fill="#767676"/>
<rect x="1235.8" y="245.2" width="5.8" height="6.7" fill="#818181"/>
<rect x="1329.8" y="298.5" width="4.7" height="4.6" fill="#6e6e6e"/>
<rect x="1478.5" y="311.0" width="5.2" height="4.7" fill="#7f7f7f"/>
<rect x="1321.2" y="282.0" width="4.8" height="3.6" fill="#a5a5a5"/>
<rect x="1236.8" y="276.5" width="4.0" height="3.2" fill="#6d6d6d"/>
<rect x="1466.7" y="270.8" width="3.9" height="6.1" fill="#777777"/>
<rect x="1431.0" y="239.1" width="4.8" height="4.4" fill="#777777"/>
<rect x="1248.9" y="241.8" width="4.3" height="7.5" fill="#686868"/>
<rect x="1317.1" y="293.6" width="3.6" height="4.7" fill="#888888"/>
<rect x="1428.8" y="306.3" width="4.4" height="5.0" fill="#8b8b8b"/>
<rect x="1487.7" y="272.7" width="5.8" height="4.3" fill="#aaaaaa"/>
<rect x="1240.0" y="305.2" width="4.1" height="4.4" fill="#838383"/>
<rect x="1355.3" y="243.6" width="5.1" height="5.3" fill="#6d6d6d"/>
<rect x="1360.8" y="225.2" width="4.0" height="6.4" fill="#adadad"/>
<rect x="1276.8" y="244.4" width="4.3" height="3.3" fill="#bbbbbb"/>
<rect x="1273.4" y="251.3" width="4.7" height="4.6" fill="#7a7a7a"/>
<rect x="1433.4" y="286.5" width="4.0" height="7.0" fill="#c2c2c2"/>
<rect x="1213.1" y="240.0" width="5.0" height="3.6" fill="#777777"/>
<rect x="1373.0" y="262.8" width="4.6" height="7.1" fill="#757575"/>
<rect x="1300.3" y="229.1" width="5.9" height="6.8" fill="#cecece"/>
<rect x="1234.7" y="282.3" width="3.8" height="7.2" fill="#838383"/>
<rect x="1229.7" y="243.0" width="5.7" height="4.5" fill="#b9b9b9"/>
<rect x="1400.5" y="250.0" width="5.9" height="6.2" fill="#797979"/>
<rect x="1212.9" y="278.3" width="3.3" height="7.9" fill="#828282"/>
<rect x="1475.9" y="247.3" width="3.6" height="5.2" fill="#6c6c6c"/>
<rect x="1350.7" y="240.9" width="4.9" height="6.3" fill="#c1c1c1"/>
<rect x="1271.7" y="271.8" width="3.3" height="3.9" fill="#919191"/>
<rect x="1464.0" y="266.4" width="4.7" height="6.6" fill="#5d5d5d"/>
<rect x="1293.6" y="238.2" width="5.5" height="3.1" fill="#a0a0a0"/>
<rect x="1286.7" y="302.8" width="5.3" height="3.6" fill="#ababab"/>
<rect x="1435.6" y="261.2" width="3.3" height="6.4" fill="#6b6b6b"/>
<rect x="1239.5" y="239.9" width="5.0" height="4.6" fill="#888888"/>
<rect x="1363.6" y="274.7" width="3.4" height="4.9" fill="#888888"/>
<rect x="1297.2" y="310.5" width="5.4" height="3.4" fill="#c0c0c0"/>
<rect x="1357.6" y="294.4" width="5.8" height="6.8" fill="#9d9d9d"/>
<rect x="1228.9" y="304.4" width="3.4" height="4.3" fill="#7f7f7f"/>
<rect x="1229.8" y="288.0" width="4.2" height="5.7" fill="#b7b7b7"/>
<rect x="1293.5" y="237.7" width="5.4" height="7.4" fill="#b3b3b3"/>
<rect x="1301.2" y="238.9" width="5.1" height="4.9" fill="#bcbcbc"/>
<rect x="1300.4" y="253.2" width="4.4" height="7.1" fill="#969696"/>
<rect x="1304.1" y="285.7" width="5.2" height="7.4" fill="#888888"/>
<rect x="1363.5" y="257.0" width="5.6" height="6.8" fill="#797979"/>
<rect x="1289.8" y="232.5" width="5.7" height="7.0" fill="#6f6f6f"/>
<rect x="1438.2" y="273.6" width="5.9" height="3.2" fill="#9a9a9a"/>
<rect x="1364.6" y="233.1" width="4.6" height="5.1" fill="#c6c6c6"/>
<rect x="1399.5" y="283.5" width="3.3" height="3.7" fill="#b9b9b9"/>
<rect x="1215.2" y="225.9" width="5.1" height="7.7" fill="#747474"/>
<rect x="1356.5" y="295.3" width="5.3" height="3.8" fill="#6b6b6b"/>
<rect x="1420.8" y="259.8" width="4.6" height="7.5" fill="#919191"/>
<rect x="1431.8" y="284.3" width="3.8" height="7.8" fill="#7d7d7d"/>
<rect x="1435.3" y="257.6" width="5.2" height="5.4" fill="#c2c2c2"/>
<rect x="1366.0" y="297.2" width="5.1" height="5.3" fill="#979797"/>
<rect x="1463.9" y="290.7" width="5.9" height="3.0" fill="#939393"/>
<rect x="1299.4" y="290.1" width="5.5" height="3.7" fill="#bbbbbb"/>
<rect x="1391.9" y="228.9" width="4.1" height="8.0" fill="#676767"/>
<rect x="1295.5" y="248.3" width="3.2" height="5.8" fill="#8e8e8e"/>
<rect x="1448.8" y="273.9" width="3.2" height="7.5" fill="#8d8d8d"/>
<rect x="1302.7" y="311.8" width="3.9" height="6.0" fill="#cbcbcb"/>
<rect x="1222.2" y="235.9" width="5.2" height="7.1" fill="#818181"/>
<rect x="1492.5" y="300.0" width="3.4" height="5.1" fill="#cbcbcb"/>
<rect x="1206.9" y="249.9" width="3.7" height="4.1" fill="#5f5f5f"/>
<rect x="1399.0" y="275.8" width="4.6" height="4.5" fill="#a0a0a0"/>
<rect x="1404.1" y="288.1" width="3.9" height="6.7" fill="#919191"/>
<rect x="1211.9" y="267.2" width="4.4" height="4.4" fill="#a2a2a2"/>
<rect x="1460.6" y="299.9" width="3.6" height="7.3" fill="#bababa"/>
<rect x="1280.1" y="292.2" width="4.5" height="3.9" fill="#cecece"/>
<rect x="1304.8" y="257.1" width="3.3" height="3.0" fill="#a0a0a0"/>
<rect x="1300.3" y="304.8" width="3.3" height="7.2" fill="#808080"/>
<rect x="1485.9" y="278.7" width="3.9" height="3.9" fill="#bbbbbb"/>
<rect x="1417.6" y="312.8" width="3.2" height="5.7" fill="#c8c8c8"/>
<rect x="1496.3" y="273.2" width="3.3" height="4.9" fill="#cbcbcb"/>
<rect x="1480.3" y="249.2" width="3.8" height="3.1" fill="#9b9b9b"/>
<rect x="1476.3" y="309.4" width="4.1" height="5.9" fill="#c1c1c1"/>
<rect x="1205.4" y="261.6" width="3.8" height="7.1" fill="#c9c9c9"/>
<rect x="1372.3" y="246.3" width="3.8" height="4.8" fill="#adadad"/>
<rect x="1471.5" y="231.5" width="5.0" height="3.5" fill="#acacac"/>
<rect x="1223.1" y="316.1" width="4.0" height="3.7" fill="#b8b8b8"/>
<rect x="1486.7" y="306.5" width="4.4" height="7.0" fill="#989898"/>
<rect x="1490.7" y="290.3" width="3.8" height="5.6" fill="#a8a8a8"/>
<rect x="1364.6" y="301.4" width="5.5" height="5.0" fill="#707070"/>
<rect x="1358.1" y="277.8" width="5.6" height="3.1" fill="#6a6a6a"/>
<rect x="1254.5" y="262.0" width="5.8" height="5.2" fill="#9f9f9f"/>
<rect x="1227.3" y="290.6" width="4.3" height="3.0" fill="#686868"/>
<rect x="1455.2" y="302.5" width="3.8" height="7.0" fill="#6d6d6d"/>
<rect x="1377.9" y="257.2" width="3.0" height="6.8" fill="#5a5a5a"/>
<rect x="1373.9" y="314.1" width="4.3" height="4.2" fill="#717171"/>
<rect x="1232.0" y="244.7" width="3.2" height="6.5" fill="#8d8d8d"/>
<rect x="1292.9" y="267.9" width="6.0" height="4.6" fill="#6b6b6b"/>
<rect x="1295.8" y="295.5" width="4.2" height="6.5" fill="#6e6e6e"/>
<rect x="1334.4" y="306.6" width="3.3" height="6.1" fill="#656565"/>
<rect x="1309.2" y="236.4" width="5.2" height="6.3" fill="#a1a1a1"/>
<rect x="1339.3" y="286.5" width="5.3" height="5.4" fill="#a1a1a1"/>
<rect x="1337.1" y="275.1" width="4.3" height="3.9" fill="#c4c4c4"/>
<rect x="1296.6" y="244.9" width="6.0" height="5.8" fill="#a4a4a4"/>
<rect x="1403.5" y="315.7" width="5.2" height="4.2" fill="#878787"/>
<rect x="1391.9" y="302.8" width="5.8" height="5.2" fill="#707070"/>
<rect x="1219.3" y="251.7" width="4.0" height="7.9" fill="#919191"/>
<rect x="1474.1" y="284.5" width="5.2" height="6.2" fill="#585858"/>
<rect x="1328.1" y="227.5" width="3.2" height="3.2" fill="#979797"/>
<rect x="1452.7" y="262.6" width="4.9" height="4.0" fill="#cbcbcb"/>
<rect x="1360.4" y="248.4" width="4.1" height="6.1" fill="#b6b6b6"/>
<rect x="1295.3" y="305.1" width="3.0" height="4.2" fill="#949494"/>
<rect x="1381.0" y="298.2" width="3.1" height="4.5" fill="#656565"/>
<rect x="1354.4" y="262.9" width="5.3" height="5.0" fill="#8d8d8d"/>
<rect x="1469.9" y="289.3" width="6.0" height="7.6" fill="#acacac"/>
<rect x="1446.4" y="286.8" width="3.4" height="3.2" fill="#a4a4a4"/>
<rect x="1472.6" y="273.2" width="3.9" height="4.3" fill="#5a5a5a"/>
<rect x="1220.0" y="313.3" width="4.0" height="4.7" fill="#c4c4c4"/>
<rect x="1323.0" y="235.3" width="5.4" height="3.0" fill="#afafaf"/>
<rect x="1433.2" y="235.6" width="5.4" height="6.9" fill="#5a5a5a"/>
<rect x="1446.0" y="270.3" width="3.3" height="7.2" fill="#747474"/>
<rect x="1295.7" y="225.2" width="5.6" height="3.6" fill="#cecece"/>
<rect x="1437.1" y="276.2" width="4.2" height="6.9" fill="#cecece"/>
<rect x="1483.9" y="232.2" width="5.3" height="7.6" fill="#b2b2b2"/>
<rect x="1301.2" y="314.3" width="3.7" height="4.6" fill="#5f5f5f"/>
<rect x="1494.9" y="270.3" width="4.3" height="3.6" fill="#acacac"/>
<rect x="1299.4" y="261.5" width="4.6" height="6.8" fill="#b1b1b1"/>
<rect x="1291.2" y="299.3" width="5.1" height="7.4" fill="#b0b0b0"/>
<rect x="1367.4" y="231.9" width="4.7" height="5.0" fill="#646464"/>
<rect x="1214.4" y="290.5" width="3.9" height="3.6" fill="#b0b0b0"/>
<rect x="1413.1" y="300.1" width="4.8" height="4.0" fill="#a2a2a2"/>
<rect x="1317.0" y="249.0" width="3.7" height="5.8" fill="#6a6a6a"/>
<rect x="1474.6" y="240.3" width="5.6" height="6.2" fill="#787878"/>
<rect x="1289.3" y="274.5" width="4.5" height="3.3" fill="#929292"/>
<rect x="1387.6" y="277.1" width="5.7" height="5.9" fill="#b6b6b6"/>
<rect x="1490.1" y="297.9" width="4.1" height="3.0" fill="#676767"/>
<rect x="1395.2" y="236.9" width="3.3" height="4.1" fill="#5a5a5a"/>
<rect x="1276.5" y="260.1" width="4.5" height="3.0" fill="#717171"/>
<rect x="1272.4" y="254.4" width="3.0" height="4.3" fill="#8a8a8a"/>
<rect x="1446.0" y="701.4" width="4.8" height="4.6" fill="#b5b5b5"/>
<rect x="1456.6" y="733.2" width="5.5" height="3.0" fill="#989898"/>
<rect x="1490.4" y="358.3" width="4.0" height="7.1" fill="#9c9c9c"/>
<rect x="1460.7" y="597.0" width="5.8" height="3.6" fill="#aeaeae"/>
<rect x="1463.5" y="332.9" width="6.1" height="6.1" fill="#6a6a6a"/>
<rect x="1488.3" y="336.2" width="7.2" height="7.3" fill="#b8b8b8"/>
<rect x="1455.2" y="712.2" width="3.9" height="4.7" fill="#bdbdbd"/>
<rect x="1489.8" y="424.6" width="7.2" height="4.9" fill="#a4a4a4"/>
<rect x="1463.6" y="348.1" width="6.4" height="4.2" fill="#bbbbbb"/>
<rect x="1459.2" y="607.5" width="3.9" height="3.7" fill="#aaaaaa"/>
<rect x="1482.2" y="400.0" width="5.6" height="7.3" fill="#a0a0a0"/>
<rect x="1452.5" y="336.9" width="3.8" height="4.2" fill="#8c8c8c"/>
<rect x="1449.2" y="404.6" width="7.4" height="6.3" fill="#a6a6a6"/>
<rect x="1449.6" y="572.2" width="5.6" height="3.1" fill="#a7a7a7"/>
<rect x="1457.4" y="581.2" width="3.4" height="6.9" fill="#9f9f9f"/>
<rect x="1464.9" y="501.5" width="4.7" height="7.7" fill="#a0a0a0"/>
<rect x="1481.8" y="556.4" width="7.2" height="7.9" fill="#b3b3b3"/>
<rect x="1492.4" y="661.9" width="6.2" height="7.8" fill="#7f7f7f"/>
<rect x="1456.4" y="674.2" width="5.8" height="5.2" fill="#7f7f7f"/>
<rect x="1465.7" y="638.2" width="6.5" height="5.4" fill="#b3b3b3"/>
<rect x="1482.6" y="425.6" width="7.9" height="8.0" fill="#aeaeae"/>
<rect x="1467.1" y="470.3" width="5.5" height="7.7" fill="#6b6b6b"/>
<rect x="1460.3" y="350.3" width="5.4" height="5.7" fill="#9a9a9a"/>
<rect x="1467.9" y="467.2" width="3.4" height="3.9" fill="#9c9c9c"/>
<rect x="1451.6" y="308.8" width="5.7" height="4.9" fill="#a2a2a2"/>
<rect x="1461.6" y="453.2" width="7.9" height="4.4" fill="#b5b5b5"/>
<rect x="1445.3" y="363.3" width="5.5" height="7.0" fill="#7d7d7d"/>
<rect x="1464.3" y="762.6" width="4.8" height="5.0" fill="#969696"/>
<rect x="1476.5" y="583.2" width="5.9" height="7.8" fill="#bebebe"/>
<rect x="1493.2" y="556.9" width="4.7" height="3.2" fill="#a5a5a5"/>
<rect x="1464.3" y="606.9" width="3.3" height="6.7" fill="#858585"/>
<rect x="1458.1" y="728.3" width="7.6" height="4.8" fill="#7f7f7f"/>
<rect x="1494.7" y="355.3" width="4.4" height="5.4" fill="#7e7e7e"/>
<rect x="1464.9" y="676.4" width="7.0" height="3.4" fill="#b2b2b2"/>
<rect x="1487.7" y="471.5" width="7.0" height="3.6" fill="#bdbdbd"/>
<rect x="1468.7" y="422.9" width="5.4" height="7.5" fill="#787878"/>
<rect x="1453.1" y="720.5" width="5.5" height="3.2" fill="#a4a4a4"/>
<rect x="1467.9" y="525.0" width="7.3" height="3.8" fill="#737373"/>
<rect x="1481.7" y="542.5" width="4.3" height="7.6" fill="#a7a7a7"/>
<rect x="1473.4" y="324.0" width="7.3" height="7.8" fill="#c3c3c3"/>
<rect x="1452.0" y="545.7" width="3.8" height="4.2" fill="#a5a5a5"/>
<rect x="1452.0" y="643.7" width="5.3" height="5.4" fill="#a0a0a0"/>
<rect x="1492.4" y="739.8" width="4.5" height="7.2" fill="#cecece"/>
<rect x="1468.2" y="422.9" width="3.3" height="4.9" fill="#b5b5b5"/>
<rect x="1469.0" y="764.7" width="7.5" height="3.7" fill="#c4c4c4"/>
<rect x="1467.7" y="548.7" width="5.3" height="3.5" fill="#bababa"/>
<rect x="1495.3" y="305.6" width="3.9" height="4.4" fill="#a8a8a8"/>
<rect x="1466.8" y="741.7" width="3.5" height="6.8" fill="#7f7f7f"/>
<rect x="1447.3" y="341.4" width="7.4" height="4.1" fill="#707070"/>
<rect x="1462.8" y="641.3" width="4.9" height="7.9" fill="#6c6c6c"/>
<rect x="1449.8" y="577.3" width="5.6" height="5.7" fill="#969696"/>
<rect x="1479.8" y="357.4" width="4.6" height="7.2" fill="#737373"/>
<rect x="1477.9" y="764.5" width="3.3" height="4.3" fill="#cdcdcd"/>
<rect x="1482.8" y="666.1" width="7.3" height="3.6" fill="#999999"/>
<rect x="1450.6" y="403.2" width="8.0" height="6.0" fill="#757575"/>
<rect x="1487.0" y="304.9" width="6.1" height="6.1" fill="#696969"/>
<rect x="1457.5" y="715.8" width="7.9" height="4.3" fill="#747474"/>
<rect x="1472.0" y="590.0" width="7.0" height="7.5" fill="#696969"/>
<rect x="1482.8" y="547.2" width="6.0" height="6.1" fill="#747474"/>
<rect x="1449.0" y="351.0" width="4.1" height="6.3" fill="#828282"/>
<rect x="1462.1" y="761.0" width="7.0" height="5.7" fill="#a4a4a4"/>
<rect x="1488.5" y="476.2" width="4.2" height="5.8" fill="#959595"/>
<rect x="1476.4" y="386.2" width="5.9" height="7.9" fill="#a5a5a5"/>
<rect x="1480.9" y="309.7" width="4.6" height="5.4" fill="#9d9d9d"/>
<rect x="1486.4" y="523.4" width="4.6" height="6.0" fill="#a9a9a9"/>
<rect x="1470.8" y="555.5" width="4.4" height="4.3" fill="#7f7f7f"/>
<rect x="1462.1" y="421.4" width="6.8" height="5.5" fill="#bfbfbf"/>
<rect x="1456.8" y="333.9" width="7.5" height="7.7" fill="#aaaaaa"/>
<rect x="1480.2" y="460.6" width="3.1" height="7.3" fill="#969696"/>
<rect x="1462.7" y="677.8" width="6.4" height="3.8" fill="#afafaf"/>
<rect x="1455.7" y="423.3" width="5.9" height="3.5" fill="#6b6b6b"/>
<rect x="1490.1" y="565.1" width="6.2" height="5.9" fill="#c8c8c8"/>
<rect x="1459.0" y="522.1" width="5.3" height="5.6" fill="#c9c9c9"/>
<rect x="1462.5" y="395.1" width="5.4" height="3.0" fill="#a9a9a9"/>
<rect x="1490.8" y="664.9" width="5.5" height="5.4" fill="#717171"/>
<rect x="1475.9" y="611.5" width="3.2" height="6.5" fill="#9c9c9c"/>
<rect x="1488.3" y="588.2" width="3.2" height="5.3" fill="#6d6d6d"/>
<rect x="1473.0" y="378.4" width="3.6" height="7.5" fill="#b1b1b1"/>
<rect x="1475.6" y="684.8" width="7.6" height="7.3" fill="#717171"/>
<rect x="1462.0" y="368.6" width="5.3" height="7.1" fill="#c2c2c2"/>
<rect x="1448.1" y="568.0" width="6.5" height="3.0" fill="#cbcbcb"/>
<rect x="1450.1" y="574.5" width="6.1" height="7.4" fill="#7b7b7b"/>
<rect x="1468.3" y="322.2" width="4.7" height="3.7" fill="#acacac"/>
<rect x="1482.5" y="336.0" width="6.2" height="7.5" fill="#c2c2c2"/>
<rect x="1469.2" y="338.7" width="5.7" height="7.7" fill="#b1b1b1"/>
<rect x="1472.6" y="729.5" width="3.9" height="7.9" fill="#9b9b9b"/>
<rect x="1480.8" y="519.8" width="4.6" height="6.3" fill="#858585"/>
<rect x="1456.4" y="375.4" width="5.1" height="6.6" fill="#9a9a9a"/>
<rect x="1458.2" y="767.0" width="6.3" height="3.3" fill="#848484"/>
<rect x="1449.1" y="533.1" width="6.9" height="4.5" fill="#c2c2c2"/>
<rect x="1478.8" y="598.5" width="6.9" height="3.2" fill="#9a9a9a"/>
<rect x="1453.9" y="632.7" width="6.3" height="5.6" fill="#757575"/>
<rect x="1473.7" y="543.7" width="4.5" height="7.3" fill="#b2b2b2"/>
<rect x="1472.4" y="310.7" width="5.5" height="4.9" fill="#8d8d8d"/>
<rect x="1492.0" y="611.2" width="3.2" height="8.0" fill="#787878"/>
<rect x="1483.4" y="612.3" width="7.3" height="4.4" fill="#a7a7a7"/>
<rect x="1485.3" y="560.2" width="6.7" height="4.3" fill="#b7b7b7"/>
<rect x="1464.6" y="473.5" width="7.2" height="4.3" fill="#707070"/>
<rect x="1468.3" y="560.4" width="7.4" height="6.4" fill="#c3c3c3"/>
<rect x="1480.5" y="556.2" width="3.3" height="4.8" fill="#9c9c9c"/>
<rect x="1479.0" y="463.6" width="4.3" height="4.1" fill="#c9c9c9"/>
<rect x="1458.1" y="545.0" width="7.5" height="7.9" fill="#737373"/>
<rect x="1470.2" y="759.9" width="4.8" height="3.4" fill="#b7b7b7"/>
<rect x="1491.7" y="325.3" width="4.8" height="4.4" fill="#c0c0c0"/>
<rect x="1490.4" y="610.6" width="7.3" height="3.3" fill="#909090"/>
<rect x="1471.3" y="714.8" width="5.1" height="6.0" fill="#c5c5c5"/>
<rect x="1484.2" y="611.5" width="4.6" height="3.0" fill="#acacac"/>
<rect x="1491.4" y="474.9" width="3.4" height="3.4" fill="#999999"/>
<rect x="1474.9" y="329.5" width="7.9" height="4.0" fill="#a2a2a2"/>
<rect x="1481.7" y="765.1" width="6.7" height="3.8" fill="#bebebe"/>
<rect x="1479.4" y="560.8" width="7.0" height="7.7" fill="#bebebe"/>
<rect x="1477.1" y="385.2" width="7.0" height="6.1" fill="#8b8b8b"/>
<rect x="1484.4" y="438.6" width="4.6" height="7.3" fill="#cfcfcf"/>
<rect x="1461.9" y="337.1" width="3.3" height="3.3" fill="#cbcbcb"/>
<rect x="1487.9" y="555.3" width="4.8" height="4.9" fill="#aaaaaa"/>
<rect x="1492.7" y="432.7" width="5.2" height="5.3" fill="#9f9f9f"/>
<rect x="1452.3" y="543.4" width="5.4" height="3.7" fill="#bbbbbb"/>
<rect x="1491.6" y="366.1" width="5.2" height="3.3" fill="#c4c4c4"/>
<rect x="1452.6" y="424.4" width="3.2" height="6.2" fill="#949494"/>
<rect x="1465.2" y="492.7" width="6.8" height="5.2" fill="#9e9e9e"/>
<rect x="1454.6" y="363.1" width="4.4" height="7.8" fill="#a1a1a1"/>
<rect x="1447.0" y="623.0" width="4.8" height="6.6" fill="#8e8e8e"/>
<rect x="1465.5" y="452.2" width="7.6" height="4.5" fill="#9f9f9f"/>
<rect x="1465.8" y="638.2" width="4.4" height="6.3" fill="#868686"/>
<rect x="1480.7" y="612.0" width="5.3" height="5.8" fill="#959595"/>
<rect x="1452.6" y="388.3" width="3.4" height="3.6" fill="#7b7b7b"/>
<rect x="1489.2" y="412.1" width="6.3" height="4.7" fill="#828282"/>
<rect x="1479.8" y="577.8" width="3.9" height="3.7" fill="#828282"/>
<rect x="1465.6" y="590.3" width="7.1" height="6.4" fill="#acacac"/>
<rect x="1463.2" y="754.6" width="5.2" height="3.5" fill="#8f8f8f"/>
<rect x="1482.8" y="715.3" width="6.2" height="3.4" fill="#8f8f8f"/>
<rect x="1457.7" y="400.4" width="4.9" height="5.6" fill="#757575"/>
<rect x="1491.4" y="760.5" width="6.4" height="5.5" fill="#c3c3c3"/>
<rect x="1446.2" y="361.8" width="7.7" height="7.2" fill="#cdcdcd"/>
<rect x="1474.5" y="508.5" width="7.4" height="6.1" fill="#949494"/>
<rect x="1459.1" y="358.3" width="3.7" height="5.7" fill="#c3c3c3"/>
<rect x="1459.4" y="574.9" width="5.9" height="7.4" fill="#858585"/>
<rect x="1476.0" y="566.3" width="7.2" height="4.0" fill="#8a8a8a"/>
<rect x="1472.0" y="691.5" width="3.4" height="5.4" fill="#7d7d7d"/>
<rect x="1486.0" y="411.3" width="3.9" height="4.5" fill="#aaaaaa"/>
<rect x="1481.7" y="538.8" width="3.2" height="3.4" fill="#747474"/>
<rect x="1464.4" y="565.3" width="5.4" height="7.7" fill="#949494"/>
<rect x="1488.7" y="578.7" width="5.5" height="3.2" fill="#8c8c8c"/>
<rect x="1492.2" y="703.7" width="4.4" height="3.9" fill="#8f8f8f"/>
<rect x="1454.8" y="315.9" width="6.0" height="5.8" fill="#b4b4b4"/>
<rect x="1445.9" y="310.4" width="3.8" height="5.8" fill="#797979"/>
<rect x="1493.3" y="615.5" width="6.3" height="6.1" fill="#9e9e9e"/>
<rect x="1470.4" y="708.6" width="3.1" height="7.8" fill="#6c6c6c"/>
<rect x="1455.4" y="494.4" width="7.2" height="5.4" fill="#707070"/>
<rect x="1479.4" y="383.4" width="5.9" height="4.1" fill="#b0b0b0"/>
<rect x="1491.5" y="441.0" width="6.1" height="6.6" fill="#afafaf"/>
<rect x="1486.3" y="663.9" width="5.0" height="7.5" fill="#a6a6a6"/>
<rect x="1494.1" y="752.6" width="4.3" height="7.5" fill="#8b8b8b"/>
<rect x="1485.2" y="683.1" width="7.1" height="6.4" fill="#979797"/>
<rect x="1477.7" y="557.4" width="5.0" height="7.0" fill="#c3c3c3"/>
<rect x="1469.1" y="346.8" width="3.2" height="3.1" fill="#c0c0c0"/>
<rect x="1456.6" y="363.9" width="3.4" height="7.4" fill="#b6b6b6"/>
<rect x="1474.0" y="564.9" width="6.4" height="5.1" fill="#cbcbcb"/>
<rect x="1467.9" y="497.0" width="5.5" height="5.7" fill="#b0b0b0"/>
<rect x="1492.8" y="663.5" width="3.6" height="6.5" fill="#a0a0a0"/>
<rect x="1449.6" y="559.1" width="4.8" height="3.5" fill="#c4c4c4"/>
<rect x="1480.7" y="687.5" width="7.3" height="3.9" fill="#9a9a9a"/>
<rect x="1461.0" y="546.8" width="7.3" height="3.9" fill="#b4b4b4"/>
<rect x="1488.1" y="487.9" width="5.2" height="4.5" fill="#949494"/>
<rect x="1480.9" y="473.1" width="4.1" height="5.4" fill="#adadad"/>
<rect x="1492.7" y="438.5" width="5.5" height="3.1" fill="#a1a1a1"/>
<rect x="1448.0" y="398.6" width="7.8" height="4.0" fill="#787878"/>
<rect x="1447.0" y="429.9" width="7.3" height="5.6" fill="#9d9d9d"/>
<rect x="1491.3" y="513.2" width="3.9" height="4.5" fill="#808080"/>
<rect x="1470.5" y="611.3" width="6.0" height="3.6" fill="#717171"/>
<rect x="1481.7" y="595.3" width="5.7" height="4.5" fill="#c7c7c7"/>
<rect x="1454.1" y="637.9" width="6.0" height="3.9" fill="#bcbcbc"/>
<rect x="1459.6" y="523.8" width="3.3" height="5.1" fill="#c3c3c3"/>
<rect x="1482.6" y="432.5" width="5.8" height="6.7" fill="#a8a8a8"/>
<rect x="1471.6" y="619.3" width="4.9" height="5.4" fill="#7a7a7a"/>
<rect x="1460.0" y="707.8" width="7.2" height="3.8" fill="#cecece"/>
<rect x="1446.9" y="754.9" width="4.8" height="7.8" fill="#7d7d7d"/>
<rect x="1453.4" y="658.9" width="3.2" height="6.8" fill="#696969"/>
<rect x="1449.3" y="525.8" width="3.6" height="4.8" fill="#8c8c8c"/>
<rect x="1491.6" y="703.7" width="6.7" height="5.5" fill="#7a7a7a"/>
<rect x="1471.8" y="551.1" width="7.6" height="7.5" fill="#7a7a7a"/>
<rect x="1454.9" y="594.7" width="4.6" height="4.1" fill="#8a8a8a"/>
<rect x="1484.8" y="341.8" width="6.8" height="5.9" fill="#c0c0c0"/>
<rect x="1456.8" y="632.6" width="5.5" height="6.2" fill="#929292"/>
<rect x="1451.8" y="443.8" width="6.6" height="5.9" fill="#b6b6b6"/>
<rect x="1473.3" y="641.5" width="3.1" height="6.2" fill="#8a8a8a"/>
<rect x="1482.2" y="334.9" width="5.4" height="5.4" fill="#9d9d9d"/>
<rect x="1458.2" y="398.6" width="4.3" height="5.9" fill="#808080"/>
<rect x="1486.8" y="652.4" width="7.5" height="4.8" fill="#848484"/>
<rect x="1490.9" y="603.5" width="5.8" height="3.0" fill="#747474"/>
<rect x="1478.1" y="438.5" width="5.6" height="5.5" fill="#c7c7c7"/>
<rect x="1485.0" y="725.2" width="6.1" height="3.4" fill="#888888"/>
<rect x="1487.7" y="333.5" width="6.6" height="7.3" fill="#bfbfbf"/>
<rect x="1479.9" y="522.1" width="4.2" height="7.0" fill="#c6c6c6"/>
<rect x="1491.0" y="572.9" width="7.0" height="8.0" fill="#b4b4b4"/>
<rect x="1469.3" y="543.2" width="6.4" height="5.0" fill="#7e7e7e"/>
<rect x="1487.9" y="632.5" width="4.3" height="7.2" fill="#b0b0b0"/>
<rect x="1478.0" y="303.5" width="5.6" height="5.9" fill="#969696"/>
<rect x="1467.0" y="337.2" width="7.8" height="4.0" fill="#838383"/>
<rect x="1483.2" y="683.7" width="7.1" height="3.2" fill="#c2c2c2"/>
<rect x="1463.9" y="514.5" width="4.3" height="7.7" fill="#cbcbcb"/>
<rect x="1450.4" y="302.3" width="5.7" height="6.4" fill="#848484"/>
<rect x="1457.9" y="756.7" width="3.5" height="7.1" fill="#afafaf"/>
<rect x="1461.2" y="551.6" width="4.0" height="6.6" fill="#707070"/>
<rect x="1472.8" y="629.5" width="7.2" height="6.9" fill="#8b8b8b"/>
<rect x="1483.0" y="569.9" width="3.6" height="4.6" fill="#767676"/>
<rect x="1445.7" y="321.4" width="4.2" height="5.4" fill="#979797"/>
<rect x="1451.6" y="657.1" width="3.7" height="7.4" fill="#bbbbbb"/>
<rect x="1495.0" y="595.2" width="4.6" height="5.7" fill="#909090"/>
<rect x="1490.0" y="448.7" width="7.9" height="4.3" fill="#949494"/>
<rect x="1489.5" y="629.2" width="4.6" height="6.3" fill="#7b7b7b"/>
<rect x="1468.8" y="705.6" width="8.0" height="6.6" fill="#737373"/>
<rect x="1483.1" y="621.0" width="6.0" height="6.9" fill="#6f6f6f"/>
<rect x="1475.2" y="490.4" width="5.4" height="4.3" fill="#979797"/>
<rect x="1488.9" y="434.9" width="5.7" height="5.9" fill="#858585"/>
<rect x="1488.4" y="741.8" width="3.9" height="3.6" fill="#757575"/>
<rect x="1488.4" y="766.2" width="4.8" height="7.5" fill="#cfcfcf"/>
<rect x="1457.6" y="541.5" width="4.5" height="3.3" fill="#6a6a6a"/>
<rect x="1479.6" y="374.0" width="4.3" height="5.4" fill="#757575"/>
<rect x="1451.2" y="349.6" width="4.7" height="3.5" fill="#bbbbbb"/>
<rect x="1483.3" y="705.6" width="7.4" height="3.2" fill="#acacac"/>
<rect x="1449.1" y="322.2" width="4.5" height="7.1" fill="#cbcbcb"/>
<rect x="1483.4" y="322.3" width="4.1" height="7.6" fill="#727272"/>
<rect x="1477.5" y="622.9" width="6.2" height="3.7" fill="#808080"/>
<rect x="1488.2" y="602.7" width="5.4" height="4.1" fill="#b0b0b0"/>
<rect x="1488.3" y="674.6" width="6.1" height="3.3" fill="#9e9e9e"/>
<rect x="1482.1" y="555.1" width="6.0" height="5.5" fill="#858585"/>
<rect x="1445.2" y="550.0" width="5.6" height="4.1" fill="#c3c3c3"/>
<rect x="1469.6" y="580.0" width="6.6" height="4.0" fill="#a4a4a4"/>
<rect x="1479.2" y="721.6" width="5.3" height="5.5" fill="#9e9e9e"/>
<rect x="1450.7" y="423.7" width="6.9" height="6.4" fill="#898989"/>
<rect x="1459.8" y="777.5" width="4.8" height="5.5" fill="#b4b4b4"/>
<rect x="1491.4" y="376.2" width="4.9" height="6.5" fill="#a9a9a9"/>
<rect x="1486.4" y="685.1" width="7.8" height="4.9" fill="#898989"/>
<rect x="1466.3" y="467.1" width="3.7" height="7.0" fill="#989898"/>
<rect x="1489.3" y="665.2" width="6.6" height="7.5" fill="#7a7a7a"/>
<rect x="1455.1" y="463.6" width="4.8" height="3.0" fill="#7a7a7a"/>
<rect x="1477.4" y="497.4" width="5.4" height="3.7" fill="#828282"/>
<rect x="1446.2" y="701.9" width="6.4" height="4.6" fill="#b6b6b6"/>
<rect x="1457.6" y="633.9" width="7.4" height="4.5" fill="#777777"/>
<rect x="1470.9" y="324.6" width="7.8" height="6.3" fill="#858585"/>
<rect x="1452.2" y="581.7" width="5.1" height="7.9" fill="#707070"/>
<rect x="1483.3" y="657.6" width="7.9" height="6.7" fill="#7b7b7b"/>
<rect x="1473.0" y="339.0" width="4.2" height="3.2" fill="#7c7c7c"/>
<rect x="1485.4" y="436.1" width="3.9" height="7.6" fill="#cdcdcd"/>
<rect x="1464.5" y="686.9" width="3.8" height="3.7" fill="#727272"/>
<rect x="1483.4" y="461.0" width="6.9" height="5.7" fill="#6c6c6c"/>
<rect x="1471.1" y="664.6" width="3.5" height="6.6" fill="#7d7d7d"/>
<rect x="1488.1" y="637.5" width="4.4" height="4.1" fill="#787878"/>
<rect x="1467.6" y="423.6" width="6.6" height="3.2" fill="#b8b8b8"/>
<rect x="1454.5" y="320.5" width="6.6" height="6.4" fill="#ababab"/>
<rect x="1485.7" y="731.6" width="6.5" height="3.0" fill="#8e8e8e"/>
<rect x="1490.7" y="610.4" width="5.6" height="6.3" fill="#9e9e9e"/>
<rect x="1446.6" y="561.9" width="6.8" height="5.4" fill="#939393"/>
<rect x="1456.1" y="449.4" width="4.7" height="5.0" fill="#b6b6b6"/>
<rect x="1485.2" y="360.1" width="7.4" height="5.3" fill="#9e9e9e"/>
<rect x="1463.7" y="380.1" width="6.7" height="6.9" fill="#cccccc"/>
<rect x="1461.9" y="354.0" width="6.0" height="6.3" fill="#a3a3a3"/>
<rect x="1478.1" y="660.1" width="5.0" height="7.5" fill="#a3a3a3"/>
<rect x="1493.1" y="579.0" width="6.8" height="3.7" fill="#a6a6a6"/>
<rect x="1481.0" y="649.0" width="3.9" height="3.5" fill="#adadad"/>
<rect x="1484.0" y="606.6" width="4.3" height="5.4" fill="#c7c7c7"/>
<rect x="1445.7" y="598.2" width="3.4" height="6.9" fill="#a0a0a0"/>
<rect x="1479.5" y="715.4" width="3.4" height="5.1" fill="#707070"/>
<rect x="1450.8" y="725.8" width="5.5" height="7.0" fill="#cacaca"/>
<rect x="1452.3" y="405.4" width="4.7" height="4.0" fill="#949494"/>
<rect x="1472.1" y="754.0" width="6.5" height="7.7" fill="#949494"/>
<rect x="1465.4" y="311.0" width="6.3" height="3.0" fill="#767676"/>
<rect x="1459.4" y="552.7" width="7.0" height="3.6" fill="#9f9f9f"/>
<rect x="1480.1" y="494.5" width="3.2" height="3.6" fill="#727272"/>
<rect x="1494.6" y="323.0" width="5.4" height="4.9" fill="#7b7b7b"/>
<rect x="1494.6" y="671.9" width="3.4" height="5.8" fill="#747474"/>
<rect x="1493.2" y="638.8" width="5.7" height="4.8" fill="#a7a7a7"/>
<rect x="1471.7" y="481.3" width="4.3" height="5.2" fill="#a3a3a3"/>
<rect x="1495.9" y="491.2" width="3.5" height="5.1" fill="#9d9d9d"/>
<rect x="1480.5" y="481.8" width="6.8" height="7.1" fill="#b2b2b2"/>
<rect x="1445.8" y="392.0" width="4.0" height="6.1" fill="#7a7a7a"/>
<rect x="1446.0" y="718.3" width="4.8" height="6.7" fill="#727272"/>
<rect x="1474.0" y="700.3" width="7.8" height="7.7" fill="#cacaca"/>
<rect x="1446.7" y="672.2" width="5.2" height="7.3" fill="#ababab"/>
<rect x="1449.0" y="551.2" width="6.9" height="3.7" fill="#a7a7a7"/>
<rect x="1472.6" y="765.1" width="6.4" height="3.9" fill="#828282"/>
<rect x="1477.2" y="509.7" width="7.1" height="7.8" fill="#949494"/>
<rect x="1448.7" y="434.4" width="5.3" height="3.6" fill="#7a7a7a"/>
<rect x="1486.6" y="569.8" width="7.5" height="4.8" fill="#c5c5c5"/>
<rect x="1466.3" y="416.4" width="7.5" height="6.6" fill="#a3a3a3"/>
<rect x="1447.2" y="603.6" width="4.6" height="7.1" fill="#8b8b8b"/>
<rect x="1494.0" y="775.2" width="5.1" height="5.7" fill="#8d8d8d"/>
<rect x="1469.8" y="568.4" width="7.8" height="7.8" fill="#7d7d7d"/>
<rect x="1481.6" y="741.2" width="6.9" height="5.4" fill="#a9a9a9"/>
<rect x="1451.4" y="519.6" width="6.5" height="5.7" fill="#6e6e6e"/>
<rect x="1464.4" y="364.3" width="3.9" height="7.9" fill="#959595"/>
<rect x="1456.8" y="403.9" width="3.3" height="6.0" fill="#aaaaaa"/>
<rect x="1478.9" y="579.9" width="7.6" height="3.1" fill="#9b9b9b"/>
<rect x="1462.6" y="551.7" width="5.1" height="3.1" fill="#8b8b8b"/>
<rect x="1484.8" y="688.5" width="8.0" height="4.7" fill="#bbbbbb"/>
<rect x="1486.8" y="356.3" width="5.5" height="5.5" fill="#7f7f7f"/>
<rect x="1468.5" y="757.4" width="3.1" height="5.5" fill="#c9c9c9"/>
<rect x="1450.2" y="660.4" width="5.0" height="5.5" fill="#9e9e9e"/>
<rect x="1447.2" y="391.8" width="3.8" height="7.4" fill="#9a9a9a"/>
<rect x="1457.5" y="680.0" width="8.0" height="3.7" fill="#8b8b8b"/>
<rect x="1456.3" y="449.0" width="7.6" height="3.1" fill="#c0c0c0"/>
<rect x="1490.7" y="765.3" width="3.5" height="6.4" fill="#bcbcbc"/>
<rect x="1456.3" y="358.4" width="3.3" height="5.4" fill="#818181"/>
<rect x="1451.3" y="436.6" width="6.7" height="5.9" fill="#6f6f6f"/>
<rect x="1467.4" y="758.8" width="7.6" height="6.8" fill="#cecece"/>
<rect x="1454.8" y="601.4" width="4.0" height="4.3" fill="#a6a6a6"/>
<rect x="1471.2" y="450.2" width="5.6" height="6.9" fill="#aeaeae"/>
<rect x="1468.0" y="367.1" width="7.7" height="3.2" fill="#b6b6b6"/>
<rect x="1478.4" y="757.4" width="5.2" height="7.2" fill="#a4a4a4"/>
<rect x="1484.4" y="460.9" width="6.0" height="7.9" fill="#737373"/>
<rect x="1488.8" y="748.7" width="7.6" height="3.3" fill="#adadad"/>
<rect x="1480.2" y="584.8" width="7.7" height="6.0" fill="#7f7f7f"/>
<rect x="1468.3" y="359.5" width="3.4" height="6.7" fill="#a2a2a2"/>
<rect x="1489.4" y="596.6" width="4.3" height="4.3" fill="#b6b6b6"/>
<rect x="1466.6" y="506.9" width="7.1" height="5.2" fill="#8d8d8d"/>
<rect x="1459.3" y="639.0" width="6.9" height="7.4" fill="#7e7e7e"/>
<rect x="1485.3" y="457.5" width="3.0" height="6.4" fill="#cfcfcf"/>
<rect x="1481.8" y="704.5" width="6.6" height="4.6" fill="#777777"/>
<rect x="1458.0" y="480.9" width="7.6" height="5.2" fill="#9f9f9f"/>
<rect x="1448.0" y="602.5" width="5.6" height="4.5" fill="#b3b3b3"/>
<rect x="1486.6" y="308.3" width="6.5" height="5.0" fill="#757575"/>
<rect x="1472.2" y="408.8" width="3.1" height="5.8" fill="#9f9f9f"/>
<rect x="1495.0" y="725.9" width="3.0" height="3.2" fill="#6f6f6f"/>
<rect x="1471.2" y="702.2" width="6.3" height="5.5" fill="#ababab"/>
<rect x="1488.3" y="355.6" width="7.7" height="6.4" fill="#bebebe"/>
<rect x="1484.9" y="760.4" width="4.6" height="7.6" fill="#b7b7b7"/>
<rect x="1484.2" y="327.7" width="5.0" height="5.6" fill="#a0a0a0"/>
<rect x="1461.8" y="589.4" width="5.8" height="6.6" fill="#b5b5b5"/>
<rect x="1490.3" y="476.4" width="4.9" height="6.4" fill="#9f9f9f"/>
<rect x="1458.4" y="436.4" width="5.4" height="7.2" fill="#919191"/>
<rect x="1492.7" y="541.6" width="6.3" height="3.8" fill="#b4b4b4"/>
<rect x="1464.3" y="574.8" width="5.1" height="3.1" fill="#717171"/>
<rect x="1466.6" y="313.8" width="7.9" height="5.9" fill="#828282"/>
<rect x="1453.8" y="531.7" width="4.7" height="6.2" fill="#848484"/>
<rect x="1470.5" y="658.3" width="5.8" height="6.4" fill="#a9a9a9"/>
<rect x="1470.0" y="662.6" width="3.4" height="6.3" fill="#c9c9c9"/>
<rect x="1456.6" y="609.9" width="4.8" height="7.3" fill="#696969"/>
<rect x="1466.8" y="538.3" width="7.1" height="5.2" fill="#8f8f8f"/>
<rect x="1476.9" y="326.0" width="4.2" height="6.5" fill="#848484"/>
<rect x="1458.9" y="577.2" width="7.7" height="4.4" fill="#8f8f8f"/>
<rect x="1451.1" y="407.1" width="7.7" height="7.9" fill="#7a7a7a"/>
<rect x="1478.6" y="724.7" width="5.2" height="4.4" fill="#6f6f6f"/>
<rect x="1461.1" y="364.3" width="3.1" height="3.6" fill="#959595"/>
<rect x="1493.5" y="766.6" width="4.8" height="6.6" fill="#949494"/>
<rect x="1474.8" y="724.4" width="6.2" height="3.7" fill="#c4c4c4"/>
<rect x="1491.3" y="634.8" width="3.7" height="3.8" fill="#b7b7b7"/>
<rect x="1446.2" y="652.1" width="3.3" height="6.1" fill="#bbbbbb"/>
<rect x="1481.9" y="780.2" width="4.6" height="3.0" fill="#a9a9a9"/>
<rect x="1485.7" y="764.3" width="4.8" height="4.6" fill="#8e8e8e"/>
<rect x="1466.8" y="510.6" width="4.1" height="8.0" fill="#888888"/>
<rect x="1467.7" y="707.1" width="6.6" height="7.9" fill="#929292"/>
<rect x="1493.4" y="660.2" width="5.1" height="7.0" fill="#b1b1b1"/>
<rect x="1490.6" y="553.3" width="7.1" height="7.6" fill="#909090"/>
<rect x="1463.5" y="300.2" width="3.0" height="5.6" fill="#cfcfcf"/>
<rect x="1445.8" y="471.4" width="4.5" height="7.7" fill="#bababa"/>
<rect x="1468.7" y="343.6" width="6.4" height="6.4" fill="#bebebe"/>
<rect x="1472.1" y="684.7" width="6.8" height="5.4" fill="#9b9b9b"/>
<rect x="1481.5" y="652.0" width="5.4" height="5.4" fill="#8b8b8b"/>
<rect x="1477.4" y="480.8" width="6.9" height="4.9" fill="#c6c6c6"/>
<rect x="1463.0" y="467.6" width="7.7" height="6.9" fill="#959595"/>
<rect x="1471.7" y="746.4" width="6.0" height="3.2" fill="#6f6f6f"/>
<rect x="1492.4" y="645.7" width="7.5" height="5.9" fill="#b3b3b3"/>
<rect x="1450.7" y="709.3" width="6.8" height="5.1" fill="#c3c3c3"/>
<rect x="1469.2" y="546.9" width="6.6" height="4.1" fill="#8e8e8e"/>
<rect x="1493.6" y="600.1" width="5.4" height="5.3" fill="#cecece"/>
<rect x="1481.6" y="483.0" width="7.5" height="3.9" fill="#a6a6a6"/>
<rect x="1459.8" y="623.6" width="5.8" height="6.7" fill="#8e8e8e"/>
<rect x="1475.9" y="776.9" width="6.9" height="5.5" fill="#858585"/>
<rect x="1472.3" y="607.9" width="3.0" height="7.5" fill="#bebebe"/>
<rect x="1491.9" y="487.1" width="7.5" height="4.9" fill="#b4b4b4"/>
<rect x="1465.1" y="475.6" width="7.2" height="4.8" fill="#8c8c8c"/>
<rect x="1448.0" y="771.7" width="5.1" height="7.2" fill="#bababa"/>
<rect x="1459.7" y="665.3" width="5.8" height="6.2" fill="#c3c3c3"/>
<rect x="1456.0" y="420.0" width="4.9" height="5.5" fill="#c1c1c1"/>
<rect x="1476.2" y="388.7" width="6.2" height="5.2" fill="#686868"/>
<rect x="1454.3" y="559.0" width="4.8" height="5.9" fill="#8a8a8a"/>
<rect x="1463.3" y="654.3" width="4.3" height="6.7" fill="#b6b6b6"/>
<rect x="1487.2" y="565.2" width="4.9" height="3.2" fill="#a4a4a4"/>
<rect x="1489.1" y="304.2" width="6.4" height="5.7" fill="#cdcdcd"/>
<rect x="1489.4" y="728.9" width="6.1" height="5.0" fill="#a6a6a6"/>
<rect x="1466.4" y="574.2" width="3.0" height="6.1" fill="#bebebe"/>
<rect x="1460.9" y="419.8" width="3.7" height="7.2" fill="#6c6c6c"/>
<rect x="1472.2" y="750.8" width="3.5" height="4.3" fill="#7a7a7a"/>
<rect x="1477.4" y="469.5" width="4.4" height="4.9" fill="#aeaeae"/>
<rect x="1474.7" y="648.0" width="3.8" height="3.2" fill="#767676"/>
<rect x="1448.4" y="742.2" width="3.2" height="6.3" fill="#b0b0b0"/>
<rect x="1447.9" y="342.0" width="3.8" height="5.0" fill="#8d8d8d"/>
<rect x="1480.9" y="603.7" width="7.4" height="7.5" fill="#a5a5a5"/>
<rect x="1469.6" y="490.0" width="5.6" height="6.3" fill="#bfbfbf"/>
<rect x="1479.3" y="761.7" width="4.5" height="5.0" fill="#8c8c8c"/>
<rect x="1455.5" y="469.9" width="5.2" height="5.0" fill="#bababa"/>
<rect x="1459.5" y="576.7" width="3.9" height="5.4" fill="#b8b8b8"/>
<rect x="1454.6" y="609.4" width="3.6" height="5.4" fill="#aeaeae"/>
<rect x="1460.4" y="457.5" width="4.1" height="4.2" fill="#c5c5c5"/>
<rect x="1463.8" y="518.1" width="7.4" height="7.0" fill="#7d7d7d"/>
<rect x="1449.5" y="487.8" width="5.3" height="7.8" fill="#7c7c7c"/>
<rect x="1468.3" y="325.0" width="7.2" height="4.5" fill="#b0b0b0"/>
<rect x="1480.7" y="655.0" width="5.6" height="7.0" fill="#838383"/>
<rect x="1447.5" y="747.8" width="4.3" height="6.0" fill="#b3b3b3"/>
<rect x="1154.8" y="439.9" width="6.5" height="4.1" fill="#c0c0c0"/>
<rect x="1343.7" y="437.2" width="3.8" height="3.3" fill="#c2c2c2"/>
<rect x="1399.9" y="430.9" width="5.9" height="5.9" fill="#a8a8a8"/>
<rect x="1382.0" y="445.1" width="7.1" height="4.4" fill="#c5c5c5"/>
<rect x="1299.1" y="440.7" width="4.8" height="4.5" fill="#727272"/>
<rect x="1179.5" y="450.5" width="8.7" height="4.3" fill="#aaaaaa"/>
<rect x="1321.4" y="451.8" width="8.2" height="5.2" fill="#767676"/>
<rect x="1327.4" y="428.0" width="5.3" height="3.5" fill="#737373"/>
<rect x="1298.5" y="436.6" width="4.0" height="3.5" fill="#a0a0a0"/>
<rect x="1209.8" y="423.2" width="3.1" height="4.6" fill="#767676"/>
<rect x="1182.7" y="436.6" width="4.1" height="4.2" fill="#818181"/>
<rect x="1230.0" y="422.5" width="8.1" height="5.6" fill="#d4d4d4"/>
<rect x="1365.8" y="436.9" width="3.6" height="4.9" fill="#cdcdcd"/>
<rect x="1412.2" y="451.3" width="4.0" height="5.2" fill="#c8c8c8"/>
<rect x="1392.4" y="433.5" width="6.1" height="4.5" fill="#8b8b8b"/>
<rect x="1174.7" y="453.8" width="3.2" height="3.6" fill="#909090"/>
<rect x="1344.2" y="434.8" width="5.5" height="5.9" fill="#7b7b7b"/>
<rect x="1423.6" y="435.2" width="5.6" height="3.9" fill="#d5d5d5"/>
<rect x="1409.0" y="422.8" width="4.9" height="3.1" fill="#c2c2c2"/>
<rect x="1386.9" y="435.5" width="7.2" height="3.9" fill="#d6d6d6"/>
<rect x="1416.8" y="432.9" width="6.9" height="5.8" fill="#b8b8b8"/>
<rect x="1138.1" y="444.1" width="8.1" height="5.0" fill="#bfbfbf"/>
<rect x="1151.9" y="440.0" width="4.4" height="3.3" fill="#7b7b7b"/>
<rect x="1434.7" y="446.2" width="8.9" height="4.2" fill="#9d9d9d"/>
<rect x="1319.0" y="450.8" width="4.3" height="4.3" fill="#cdcdcd"/>
<rect x="1336.2" y="445.4" width="5.3" height="3.1" fill="#b3b3b3"/>
<rect x="1322.0" y="448.4" width="8.6" height="5.4" fill="#7d7d7d"/>
<rect x="1159.8" y="425.9" width="9.6" height="5.0" fill="#b3b3b3"/>
<rect x="1217.2" y="436.6" width="5.1" height="5.8" fill="#a4a4a4"/>
<rect x="1402.6" y="446.1" width="9.6" height="3.9" fill="#ababab"/>
<rect x="1359.1" y="438.7" width="9.6" height="5.7" fill="#757575"/>
<rect x="1167.2" y="442.5" width="4.5" height="5.0" fill="#949494"/>
<rect x="1390.2" y="445.8" width="5.7" height="5.5" fill="#9e9e9e"/>
<rect x="1415.5" y="440.7" width="6.8" height="6.0" fill="#787878"/>
<rect x="1166.7" y="444.3" width="9.3" height="3.1" fill="#848484"/>
<rect x="1181.5" y="451.7" width="8.3" height="5.1" fill="#d8d8d8"/>
<rect x="1376.5" y="436.1" width="7.6" height="5.9" fill="#c6c6c6"/>
<rect x="1156.5" y="433.0" width="9.6" height="5.1" fill="#b9b9b9"/>
<rect x="1271.7" y="425.1" width="5.6" height="3.5" fill="#a1a1a1"/>
<rect x="1197.1" y="452.6" width="3.7" height="5.2" fill="#7b7b7b"/>
<rect x="1192.0" y="442.0" width="7.4" height="4.9" fill="#a9a9a9"/>
<rect x="1277.2" y="450.5" width="7.3" height="3.6" fill="#b0b0b0"/>
<rect x="1402.9" y="421.9" width="4.7" height="4.0" fill="#a2a2a2"/>
<rect x="1131.8" y="423.8" width="6.6" height="4.3" fill="#c8c8c8"/>
<rect x="1270.0" y="421.9" width="6.2" height="3.9" fill="#787878"/>
<rect x="1191.1" y="431.0" width="8.8" height="5.3" fill="#787878"/>
<rect x="1363.4" y="437.9" width="5.2" height="4.6" fill="#c8c8c8"/>
<rect x="1144.2" y="424.7" width="10.0" height="4.7" fill="#b6b6b6"/>
<rect x="1147.8" y="421.9" width="3.9" height="5.7" fill="#d8d8d8"/>
<rect x="1314.7" y="424.2" width="5.8" height="4.7" fill="#939393"/>
<rect x="1372.3" y="444.2" width="5.6" height="5.2" fill="#838383"/>
<rect x="1184.7" y="432.0" width="6.2" height="5.7" fill="#b0b0b0"/>
<rect x="1341.1" y="437.0" width="10.0" height="3.1" fill="#a7a7a7"/>
<rect x="1313.5" y="431.6" width="8.9" height="3.3" fill="#bfbfbf"/>
<rect x="1177.5" y="447.3" width="8.0" height="4.2" fill="#b9b9b9"/>
<rect x="1422.4" y="428.5" width="6.9" height="5.2" fill="#b8b8b8"/>
<rect x="1406.8" y="431.4" width="8.6" height="3.8" fill="#d3d3d3"/>
<rect x="1402.4" y="446.6" width="7.1" height="5.9" fill="#979797"/>
<rect x="1378.8" y="434.7" width="6.2" height="4.8" fill="#cdcdcd"/>
<rect x="1175.9" y="426.1" width="4.5" height="4.6" fill="#8e8e8e"/>
<rect x="1323.7" y="434.0" width="3.3" height="4.7" fill="#c3c3c3"/>
<rect x="1157.2" y="431.5" width="6.8" height="5.1" fill="#727272"/>
<rect x="1173.0" y="440.5" width="4.1" height="5.5" fill="#979797"/>
<rect x="1385.1" y="453.2" width="7.7" height="5.6" fill="#d4d4d4"/>
<rect x="1366.0" y="429.5" width="5.8" height="6.0" fill="#929292"/>
<rect x="1161.5" y="450.7" width="6.7" height="5.5" fill="#b6b6b6"/>
<rect x="1248.1" y="434.5" width="7.2" height="4.2" fill="#bababa"/>
<rect x="1400.8" y="423.0" width="6.1" height="5.1" fill="#727272"/>
<rect x="1378.8" y="434.7" width="9.6" height="3.6" fill="#878787"/>
<rect x="1317.5" y="421.9" width="3.1" height="4.3" fill="#717171"/>
<rect x="1362.7" y="428.8" width="5.0" height="5.6" fill="#9a9a9a"/>
<rect x="1218.8" y="432.4" width="5.9" height="5.1" fill="#a4a4a4"/>
<rect x="1362.3" y="438.0" width="4.7" height="4.3" fill="#767676"/>
<rect x="1202.5" y="433.7" width="5.4" height="4.7" fill="#aaaaaa"/>
<rect x="1400.9" y="422.4" width="5.6" height="3.5" fill="#cecece"/>
<rect x="1300.1" y="434.5" width="3.7" height="4.7" fill="#b1b1b1"/>
<rect x="1149.3" y="427.2" width="9.2" height="4.0" fill="#cbcbcb"/>
<rect x="1250.5" y="431.2" width="7.2" height="5.3" fill="#b8b8b8"/>
<rect x="1180.3" y="431.8" width="7.0" height="5.7" fill="#b8b8b8"/>
<rect x="1370.9" y="423.9" width="9.3" height="4.4" fill="#b3b3b3"/>
<rect x="1222.8" y="426.5" width="5.3" height="5.1" fill="#8c8c8c"/>
<rect x="1410.3" y="434.4" width="8.1" height="5.1" fill="#777777"/>
<rect x="1350.2" y="437.7" width="8.7" height="3.8" fill="#9e9e9e"/>
<rect x="1363.5" y="436.7" width="3.2" height="3.7" fill="#cccccc"/>
<rect x="1431.2" y="420.1" width="8.6" height="4.6" fill="#9a9a9a"/>
<rect x="1398.6" y="425.5" width="6.7" height="3.2" fill="#acacac"/>
<rect x="1274.9" y="430.4" width="4.9" height="4.1" fill="#828282"/>
<rect x="1155.7" y="454.2" width="7.7" height="4.9" fill="#7b7b7b"/>
<rect x="1243.8" y="437.7" width="4.6" height="3.8" fill="#cecece"/>
<rect x="1324.7" y="429.1" width="3.7" height="4.7" fill="#959595"/>
<rect x="1370.2" y="436.5" width="6.1" height="5.7" fill="#777777"/>
<rect x="1265.0" y="433.5" width="5.5" height="5.5" fill="#b2b2b2"/>
<rect x="1344.0" y="424.0" width="3.3" height="4.9" fill="#9b9b9b"/>
<rect x="1292.7" y="432.5" width="9.0" height="3.8" fill="#a9a9a9"/>
<rect x="1416.0" y="444.9" width="5.7" height="4.0" fill="#d8d8d8"/>
<rect x="1243.8" y="450.9" width="5.3" height="4.4" fill="#969696"/>
<rect x="1297.1" y="429.8" width="7.8" height="3.5" fill="#cfcfcf"/>
<rect x="1305.8" y="431.6" width="5.6" height="5.9" fill="#a9a9a9"/>
<rect x="1382.0" y="439.8" width="9.5" height="5.1" fill="#b0b0b0"/>
<rect x="1329.5" y="442.4" width="4.0" height="5.5" fill="#909090"/>
<rect x="1228.9" y="455.1" width="8.3" height="4.6" fill="#c0c0c0"/>
<rect x="1344.2" y="433.3" width="7.8" height="5.5" fill="#d3d3d3"/>
<rect x="1263.5" y="437.5" width="9.3" height="5.0" fill="#757575"/>
<rect x="1312.2" y="436.1" width="9.2" height="5.5" fill="#c4c4c4"/>
<rect x="1208.9" y="441.8" width="3.1" height="4.2" fill="#959595"/>
<rect x="1257.0" y="423.9" width="7.2" height="5.7" fill="#717171"/>
<rect x="1265.7" y="421.1" width="8.8" height="4.4" fill="#7b7b7b"/>
<rect x="1145.7" y="431.0" width="3.0" height="5.7" fill="#a1a1a1"/>
<rect x="1329.2" y="443.2" width="7.0" height="3.7" fill="#d6d6d6"/>
<rect x="1162.9" y="430.5" width="3.7" height="3.9" fill="#868686"/>
<rect x="1216.6" y="445.8" width="3.2" height="5.4" fill="#c5c5c5"/>
<rect x="1310.2" y="451.4" width="8.6" height="3.1" fill="#b2b2b2"/>
<rect x="1383.4" y="439.1" width="7.2" height="4.3" fill="#959595"/>
<rect x="1188.6" y="443.9" width="6.5" height="4.4" fill="#c7c7c7"/>
<rect x="1255.1" y="448.3" width="7.6" height="3.0" fill="#7e7e7e"/>
<rect x="1295.2" y="431.5" width="6.5" height="5.0" fill="#727272"/>
<rect x="1315.0" y="439.1" width="7.9" height="3.5" fill="#bbbbbb"/>
<rect x="1363.0" y="449.7" width="3.8" height="5.9" fill="#838383"/>
<rect x="1345.2" y="445.0" width="8.0" height="4.1" fill="#9b9b9b"/>
<rect x="1273.1" y="445.5" width="9.6" height="4.3" fill="#808080"/>
<rect x="1401.4" y="425.2" width="9.3" height="4.0" fill="#7d7d7d"/>
<rect x="1266.0" y="427.3" width="7.1" height="3.7" fill="#bbbbbb"/>
<rect x="1172.1" y="421.6" width="8.2" height="5.1" fill="#adadad"/>
<rect x="1300.8" y="452.5" width="3.6" height="5.1" fill="#c5c5c5"/>
<rect x="1286.5" y="430.0" width="7.6" height="5.5" fill="#767676"/>
<rect x="1324.6" y="437.9" width="7.9" height="5.0" fill="#9f9f9f"/>
<rect x="1173.6" y="454.1" width="9.4" height="4.1" fill="#bfbfbf"/>
<rect x="1264.0" y="425.3" width="9.3" height="6.0" fill="#a3a3a3"/>
<rect x="1372.8" y="429.0" width="6.4" height="4.2" fill="#d5d5d5"/>
<rect x="1387.8" y="428.5" width="4.5" height="3.9" fill="#bbbbbb"/>
<rect x="1276.2" y="428.8" width="4.9" height="4.2" fill="#c6c6c6"/>
<rect x="1179.4" y="420.9" width="9.6" height="5.8" fill="#9e9e9e"/>
<rect x="1424.8" y="454.9" width="8.2" height="4.6" fill="#b7b7b7"/>
<rect x="1151.2" y="434.1" width="4.8" height="4.2" fill="#bebebe"/>
<rect x="1297.4" y="452.7" width="5.2" height="3.6" fill="#b3b3b3"/>
<rect x="1202.1" y="449.0" width="3.8" height="4.3" fill="#9c9c9c"/>
<rect x="1222.4" y="435.4" width="6.1" height="5.6" fill="#d6d6d6"/>
<rect x="1331.3" y="431.8" width="5.1" height="4.6" fill="#b1b1b1"/>
<rect x="1302.5" y="445.1" width="6.0" height="5.5" fill="#acacac"/>
<rect x="1176.3" y="433.0" width="7.9" height="4.2" fill="#929292"/>
<rect x="1294.1" y="436.7" width="3.1" height="5.3" fill="#b9b9b9"/>
<rect x="1353.7" y="421.5" width="3.5" height="3.4" fill="#cacaca"/>
<rect x="1395.1" y="433.9" width="6.6" height="5.9" fill="#949494"/>
<rect x="1273.2" y="445.0" width="6.0" height="5.3" fill="#d7d7d7"/>
<rect x="1357.9" y="437.5" width="8.2" height="4.5" fill="#acacac"/>
<rect x="1435.1" y="439.4" width="5.9" height="5.8" fill="#aaaaaa"/>
<rect x="1419.3" y="428.6" width="3.7" height="4.7" fill="#c1c1c1"/>
<rect x="1218.2" y="440.8" width="4.8" height="5.1" fill="#c1c1c1"/>
<rect x="1293.7" y="428.4" width="3.2" height="5.5" fill="#909090"/>
<rect x="1185.7" y="422.4" width="6.9" height="5.2" fill="#888888"/>
<rect x="1364.9" y="446.0" width="7.4" height="4.2" fill="#969696"/>
<rect x="1318.0" y="443.7" width="7.1" height="3.4" fill="#898989"/>
<rect x="1428.7" y="440.0" width="7.7" height="3.4" fill="#d0d0d0"/>
<rect x="1355.3" y="442.3" width="7.7" height="3.6" fill="#979797"/>
<rect x="1339.1" y="427.6" width="7.9" height="5.3" fill="#d4d4d4"/>
<rect x="1413.3" y="455.5" width="9.4" height="4.3" fill="#949494"/>
<rect x="1282.6" y="425.2" width="4.3" height="3.7" fill="#898989"/>
<rect x="1318.2" y="435.1" width="8.1" height="3.1" fill="#bababa"/>
<rect x="1196.8" y="420.6" width="4.8" height="4.4" fill="#cacaca"/>
<rect x="1419.2" y="433.4" width="5.6" height="3.9" fill="#a8a8a8"/>
<rect x="1402.4" y="449.5" width="4.0" height="4.2" fill="#c5c5c5"/>
<rect x="1147.0" y="424.7" width="9.4" height="3.7" fill="#b4b4b4"/>
<rect x="1349.8" y="427.9" width="6.8" height="4.1" fill="#afafaf"/>
<rect x="1370.0" y="426.7" width="5.9" height="3.4" fill="#c3c3c3"/>
<rect x="1269.6" y="427.3" width="8.3" height="4.3" fill="#7e7e7e"/>
<rect x="1303.3" y="433.2" width="7.9" height="4.1" fill="#8c8c8c"/>
<rect x="1265.1" y="425.3" width="4.1" height="5.3" fill="#cbcbcb"/>
<rect x="1179.7" y="440.3" width="4.1" height="3.7" fill="#c1c1c1"/>
<rect x="1349.3" y="448.4" width="3.2" height="5.8" fill="#9c9c9c"/>
<rect x="1211.8" y="452.0" width="6.1" height="3.3" fill="#8e8e8e"/>
<rect x="1411.5" y="424.8" width="9.3" height="5.5" fill="#9c9c9c"/>
<rect x="1205.7" y="420.7" width="8.8" height="3.9" fill="#a7a7a7"/>
<rect x="1210.6" y="443.0" width="6.9" height="3.6" fill="#828282"/>
<rect x="1259.4" y="424.5" width="8.5" height="5.6" fill="#ababab"/>
<rect x="1350.1" y="440.5" width="5.1" height="3.3" fill="#8c8c8c"/>
<rect x="1414.5" y="432.2" width="4.7" height="5.2" fill="#adadad"/>
<rect x="1310.6" y="430.9" width="4.5" height="4.4" fill="#afafaf"/>
<rect x="1167.5" y="435.3" width="6.8" height="3.1" fill="#7f7f7f"/>
<rect x="1323.0" y="451.2" width="6.8" height="4.8" fill="#afafaf"/>
<rect x="1397.8" y="454.1" width="8.4" height="3.3" fill="#adadad"/>
<rect x="1263.6" y="425.7" width="8.8" height="4.7" fill="#a2a2a2"/>
<rect x="1404.5" y="437.9" width="8.0" height="5.4" fill="#d2d2d2"/>
<rect x="1262.4" y="440.0" width="5.6" height="3.1" fill="#c0c0c0"/>
<rect x="1354.6" y="427.1" width="4.6" height="3.1" fill="#c9c9c9"/>
<rect x="1290.9" y="448.3" width="7.0" height="3.4" fill="#878787"/>
<rect x="1176.2" y="441.9" width="9.7" height="3.2" fill="#b6b6b6"/>
<rect x="1192.8" y="421.6" width="7.2" height="5.8" fill="#a8a8a8"/>
<rect x="1253.1" y="451.6" width="5.5" height="4.2" fill="#8e8e8e"/>
<rect x="1218.0" y="452.2" width="7.8" height="4.7" fill="#8b8b8b"/>
<rect x="1347.5" y="445.2" width="5.1" height="3.6" fill="#969696"/>
<rect x="1235.6" y="439.4" width="3.8" height="4.8" fill="#b4b4b4"/>
<rect x="1385.7" y="452.0" width="3.0" height="3.1" fill="#797979"/>
<rect x="1388.7" y="431.0" width="4.6" height="4.3" fill="#d3d3d3"/>
<rect x="1148.7" y="440.6" width="3.6" height="5.7" fill="#d5d5d5"/>
<rect x="1238.5" y="452.7" width="8.1" height="5.7" fill="#cecece"/>
<rect x="1414.6" y="427.4" width="4.9" height="5.3" fill="#999999"/>
<rect x="1411.5" y="435.3" width="8.4" height="4.7" fill="#9f9f9f"/>
<rect x="1402.0" y="429.5" width="4.2" height="3.8" fill="#cdcdcd"/>
<rect x="1223.2" y="420.1" width="8.6" height="4.7" fill="#7c7c7c"/>
<rect x="1424.7" y="429.6" width="8.8" height="5.9" fill="#d1d1d1"/>
<rect x="1410.8" y="449.4" width="6.1" height="4.1" fill="#b7b7b7"/>
<rect x="1187.5" y="429.7" width="5.0" height="3.3" fill="#848484"/>
<rect x="1197.2" y="451.6" width="7.0" height="3.9" fill="#969696"/>
<rect x="1302.6" y="421.1" width="3.0" height="3.0" fill="#aaaaaa"/>
<rect x="1323.3" y="439.2" width="3.2" height="4.4" fill="#868686"/>
<rect x="1379.3" y="451.8" width="8.9" height="5.9" fill="#d5d5d5"/>
<rect x="1258.6" y="447.8" width="5.6" height="4.6" fill="#818181"/>
<rect x="1299.4" y="455.3" width="4.6" height="4.4" fill="#939393"/>
<rect x="1403.7" y="423.4" width="3.0" height="4.2" fill="#a6a6a6"/>
<rect x="1231.4" y="440.9" width="7.2" height="5.5" fill="#d3d3d3"/>
<rect x="1233.9" y="443.0" width="9.8" height="4.7" fill="#bcbcbc"/>
<rect x="1248.8" y="445.0" width="7.8" height="5.0" fill="#959595"/>
<rect x="1302.2" y="426.2" width="4.6" height="3.3" fill="#8d8d8d"/>
<rect x="1259.7" y="455.0" width="5.1" height="4.1" fill="#a7a7a7"/>
<rect x="1299.2" y="449.1" width="6.8" height="4.2" fill="#a6a6a6"/>
<rect x="1187.9" y="427.7" width="6.6" height="4.1" fill="#797979"/>
<rect x="1259.4" y="441.1" width="5.0" height="3.1" fill="#7c7c7c"/>
<rect x="1321.7" y="435.3" width="8.3" height="4.4" fill="#c3c3c3"/>
<rect x="1299.1" y="429.7" width="7.8" height="3.4" fill="#bebebe"/>
<rect x="1141.4" y="455.8" width="5.6" height="3.7" fill="#7c7c7c"/>
<rect x="1146.7" y="434.0" width="4.8" height="5.8" fill="#9d9d9d"/>
<rect x="1429.4" y="431.0" width="7.8" height="5.3" fill="#797979"/>
<rect x="1214.3" y="442.9" width="4.5" height="3.0" fill="#cdcdcd"/>
<rect x="1407.0" y="441.3" width="3.7" height="3.8" fill="#9a9a9a"/>
<rect x="1198.5" y="442.7" width="3.5" height="3.2" fill="#767676"/>
<rect x="1131.7" y="429.9" width="6.5" height="5.5" fill="#9b9b9b"/>
<rect x="1339.1" y="435.1" width="7.3" height="5.2" fill="#939393"/>
<rect x="1415.9" y="438.8" width="7.4" height="4.4" fill="#adadad"/>
<rect x="1281.8" y="443.6" width="7.7" height="4.4" fill="#aeaeae"/>
<rect x="1281.3" y="455.2" width="10.0" height="3.9" fill="#c5c5c5"/>
<rect x="1185.8" y="435.0" width="6.9" height="3.9" fill="#9c9c9c"/>
<rect x="1279.0" y="440.8" width="6.0" height="3.8" fill="#7b7b7b"/>
<rect x="1190.8" y="428.7" width="7.6" height="5.1" fill="#747474"/>
<rect x="1257.7" y="440.6" width="6.3" height="5.0" fill="#afafaf"/>
<rect x="1288.5" y="454.1" width="3.3" height="3.2" fill="#b9b9b9"/>
<rect x="1171.6" y="443.4" width="6.1" height="3.8" fill="#c0c0c0"/>
<rect x="1216.4" y="446.0" width="5.7" height="3.3" fill="#c0c0c0"/>
<rect x="1251.1" y="420.8" width="5.8" height="5.7" fill="#858585"/>
<rect x="1157.4" y="430.0" width="9.2" height="5.1" fill="#999999"/>
<rect x="1414.6" y="439.6" width="6.4" height="3.1" fill="#8b8b8b"/>
<rect x="1420.9" y="445.4" width="3.2" height="4.7" fill="#c9c9c9"/>
<rect x="1148.4" y="430.9" width="9.1" height="5.0" fill="#adadad"/>
<rect x="1151.8" y="451.5" width="5.9" height="3.7" fill="#b5b5b5"/>
<rect x="1400.5" y="425.1" width="5.1" height="4.4" fill="#b1b1b1"/>
<rect x="1378.6" y="452.5" width="4.6" height="5.7" fill="#989898"/>
<rect x="1239.0" y="454.4" width="6.6" height="4.0" fill="#d5d5d5"/>
<rect x="1279.8" y="442.6" width="10.0" height="5.7" fill="#cecece"/>
<rect x="1376.5" y="429.7" width="6.0" height="5.8" fill="#959595"/>
<rect x="1209.4" y="427.1" width="7.8" height="3.5" fill="#7b7b7b"/>
<rect x="1380.9" y="437.1" width="9.4" height="6.0" fill="#bebebe"/>
<rect x="1290.3" y="424.6" width="7.8" height="4.3" fill="#898989"/>
<rect x="1334.4" y="428.7" width="5.4" height="4.1" fill="#898989"/>
<rect x="1415.2" y="447.0" width="9.1" height="5.3" fill="#848484"/>
<rect x="1379.0" y="427.9" width="6.4" height="5.5" fill="#a2a2a2"/>
<rect x="1205.8" y="447.4" width="7.1" height="3.0" fill="#b5b5b5"/>
<rect x="1293.5" y="432.2" width="6.1" height="4.7" fill="#797979"/>
<rect x="1264.0" y="446.7" width="8.2" height="5.3" fill="#c6c6c6"/>
<rect x="1426.9" y="421.4" width="7.8" height="5.4" fill="#d2d2d2"/>
<rect x="1357.9" y="423.4" width="6.2" height="5.3" fill="#adadad"/>
<rect x="1236.1" y="433.1" width="3.6" height="5.2" fill="#8c8c8c"/>
<rect x="1222.2" y="446.0" width="8.7" height="4.9" fill="#838383"/>
<rect x="1364.9" y="441.7" width="8.6" height="4.8" fill="#d6d6d6"/>
<rect x="1311.8" y="440.2" width="7.9" height="4.4" fill="#8e8e8e"/>
<rect x="1383.6" y="453.4" width="5.1" height="5.4" fill="#b7b7b7"/>
<rect x="1347.8" y="443.2" width="6.5" height="4.2" fill="#d2d2d2"/>
<rect x="1216.1" y="421.6" width="8.2" height="4.2" fill="#c1c1c1"/>
<rect x="1147.3" y="437.7" width="6.0" height="4.2" fill="#cdcdcd"/>
<rect x="1365.6" y="443.0" width="4.9" height="5.2" fill="#aeaeae"/>
<rect x="1311.8" y="453.8" width="4.7" height="5.0" fill="#a6a6a6"/>
<rect x="1323.7" y="431.7" width="5.5" height="5.7" fill="#b4b4b4"/>
<rect x="1405.0" y="436.9" width="4.1" height="3.6" fill="#c3c3c3"/>
<rect x="1204.4" y="448.5" width="4.5" height="4.4" fill="#aeaeae"/>
<rect x="1196.1" y="427.5" width="5.8" height="4.2" fill="#b8b8b8"/>
<rect x="1250.2" y="436.6" width="5.2" height="3.3" fill="#d7d7d7"/>
<rect x="1430.7" y="445.8" width="5.7" height="4.2" fill="#a0a0a0"/>
<rect x="1178.0" y="437.2" width="5.8" height="3.7" fill="#b3b3b3"/>
<rect x="1184.7" y="441.4" width="3.7" height="4.4" fill="#949494"/>
<rect x="1254.9" y="433.3" width="7.7" height="5.3" fill="#787878"/>
<rect x="1380.7" y="424.9" width="4.5" height="4.9" fill="#d6d6d6"/>
<rect x="1295.2" y="444.1" width="9.4" height="4.1" fill="#929292"/>
<rect x="1280.5" y="435.2" width="5.6" height="5.2" fill="#ababab"/>
<rect x="1222.3" y="426.0" width="3.8" height="4.4" fill="#a7a7a7"/>
<rect x="1283.7" y="443.7" width="7.9" height="4.6" fill="#9c9c9c"/>
<rect x="1133.5" y="440.7" width="9.9" height="3.6" fill="#b8b8b8"/>
<rect x="1236.7" y="428.7" width="5.7" height="4.2" fill="#c2c2c2"/>
<rect x="1303.2" y="436.6" width="9.0" height="3.8" fill="#7e7e7e"/>
<rect x="1434.0" y="452.2" width="8.1" height="4.6" fill="#cecece"/>
<rect x="1381.5" y="424.0" width="4.8" height="3.3" fill="#b7b7b7"/>
<rect x="1147.7" y="423.1" width="4.2" height="5.1" fill="#cacaca"/>
<rect x="1429.8" y="448.0" width="6.6" height="4.4" fill="#878787"/>
<rect x="1273.0" y="431.2" width="7.9" height="4.2" fill="#888888"/>
<rect x="1189.3" y="451.6" width="5.1" height="3.8" fill="#979797"/>
<rect x="1339.3" y="425.4" width="6.9" height="5.4" fill="#d3d3d3"/>
<rect x="1231.3" y="448.6" width="9.5" height="5.5" fill="#b3b3b3"/>
<rect x="1347.9" y="439.5" width="3.2" height="4.1" fill="#d3d3d3"/>
<rect x="1430.4" y="431.8" width="8.5" height="5.5" fill="#cecece"/>
<rect x="1158.3" y="437.3" width="3.0" height="5.4" fill="#9e9e9e"/>
<rect x="1375.5" y="427.8" width="3.5" height="4.9" fill="#8a8a8a"/>
<rect x="1136.6" y="430.9" width="8.4" height="4.6" fill="#d2d2d2"/>
<rect x="1270.4" y="452.0" width="4.9" height="3.9" fill="#c4c4c4"/>
<rect x="1208.1" y="587.9" width="7.2" height="10.3" fill="#aeaeae"/>
<rect x="1212.4" y="749.5" width="10.0" height="4.5" fill="#9f9f9f"/>
<rect x="1223.4" y="633.6" width="3.6" height="3.9" fill="#bebebe"/>
<rect x="1349.3" y="642.4" width="10.2" height="6.1" fill="#bebebe"/>
<rect x="1200.1" y="758.8" width="4.2" height="9.9" fill="#a1a1a1"/>
<rect x="1329.3" y="628.9" width="9.1" height="5.1" fill="#c3c3c3"/>
<rect x="1481.0" y="664.6" width="11.6" height="12.3" fill="#bcbcbc"/>
<rect x="1348.9" y="772.4" width="6.9" height="6.2" fill="#949494"/>
<rect x="1372.6" y="628.8" width="11.2" height="6.6" fill="#cacaca"/>
<rect x="1330.6" y="575.9" width="8.5" height="6.4" fill="#989898"/>
<rect x="1314.1" y="712.3" width="13.0" height="3.9" fill="#939393"/>
<rect x="1476.0" y="663.4" width="13.2" height="5.3" fill="#bfbfbf"/>
<rect x="1347.0" y="728.6" width="9.6" height="4.0" fill="#cfcfcf"/>
<rect x="1237.0" y="656.2" width="11.1" height="10.5" fill="#b9b9b9"/>
<rect x="1230.3" y="686.5" width="3.4" height="11.4" fill="#a5a5a5"/>
<rect x="1383.1" y="718.3" width="4.8" height="13.5" fill="#c1c1c1"/>
<rect x="1218.4" y="649.3" width="9.2" height="12.6" fill="#a2a2a2"/>
<rect x="1467.4" y="622.0" width="9.6" height="7.3" fill="#a6a6a6"/>
<rect x="1323.1" y="649.0" width="13.1" height="10.9" fill="#cbcbcb"/>
<rect x="1267.0" y="734.7" width="4.6" height="10.9" fill="#969696"/>
<rect x="1207.0" y="606.4" width="13.1" height="12.5" fill="#d9d9d9"/>
<rect x="1430.7" y="692.6" width="12.0" height="6.2" fill="#a4a4a4"/>
<rect x="1241.1" y="746.5" width="10.6" height="7.6" fill="#c9c9c9"/>
<rect x="1401.0" y="649.7" width="5.7" height="7.7" fill="#a5a5a5"/>
<rect x="1227.7" y="624.2" width="8.8" height="13.5" fill="#b7b7b7"/>
<rect x="1202.4" y="700.2" width="13.8" height="13.9" fill="#9b9b9b"/>
<rect x="1347.3" y="778.2" width="5.3" height="4.5" fill="#dddddd"/>
<rect x="1401.9" y="589.6" width="7.0" height="12.9" fill="#d8d8d8"/>
<rect x="1238.9" y="750.7" width="6.0" height="13.8" fill="#b9b9b9"/>
<rect x="1342.3" y="729.9" width="8.7" height="5.0" fill="#bcbcbc"/>
<rect x="1458.8" y="601.7" width="13.8" height="8.9" fill="#cbcbcb"/>
<rect x="1297.6" y="665.9" width="9.6" height="12.7" fill="#d1d1d1"/>
<rect x="1449.0" y="705.9" width="5.8" height="7.1" fill="#b7b7b7"/>
<rect x="1323.2" y="622.0" width="3.2" height="11.4" fill="#afafaf"/>
<rect x="1435.6" y="765.0" width="4.5" height="12.2" fill="#c6c6c6"/>
<rect x="1493.9" y="575.2" width="4.8" height="7.6" fill="#ababab"/>
<rect x="1281.2" y="701.4" width="4.6" height="4.9" fill="#959595"/>
<rect x="1249.8" y="595.4" width="12.5" height="7.7" fill="#bababa"/>
<rect x="1231.6" y="646.2" width="6.8" height="8.5" fill="#b8b8b8"/>
<rect x="1448.9" y="693.3" width="3.9" height="8.5" fill="#9a9a9a"/>
<rect x="1241.2" y="577.0" width="9.9" height="3.9" fill="#bababa"/>
<rect x="1235.6" y="756.6" width="5.0" height="6.1" fill="#9c9c9c"/>
<rect x="1330.1" y="689.8" width="10.4" height="11.9" fill="#ababab"/>
<rect x="1222.4" y="714.7" width="12.0" height="10.5" fill="#9b9b9b"/>
<rect x="1341.3" y="708.6" width="8.3" height="5.0" fill="#cbcbcb"/>
<rect x="1332.1" y="762.8" width="6.6" height="3.6" fill="#bcbcbc"/>
<rect x="1385.1" y="762.5" width="9.8" height="11.4" fill="#dcdcdc"/>
<rect x="1241.0" y="627.2" width="11.1" height="11.9" fill="#c9c9c9"/>
<rect x="1425.0" y="640.1" width="9.4" height="12.5" fill="#9e9e9e"/>
<rect x="1343.4" y="631.5" width="10.2" height="4.2" fill="#b0b0b0"/>
<rect x="1378.9" y="587.0" width="10.2" height="10.0" fill="#d8d8d8"/>
<rect x="1377.2" y="701.7" width="10.8" height="13.0" fill="#d7d7d7"/>
<rect x="1211.5" y="579.8" width="11.2" height="10.0" fill="#c9c9c9"/>
<rect x="1260.6" y="664.0" width="12.3" height="7.3" fill="#d3d3d3"/>
<rect x="1258.2" y="617.5" width="11.3" height="4.4" fill="#cccccc"/>
<rect x="1321.1" y="612.9" width="5.8" height="12.8" fill="#b1b1b1"/>
<rect x="1206.8" y="656.8" width="4.5" height="12.7" fill="#aeaeae"/>
<rect x="1493.3" y="749.9" width="3.4" height="5.4" fill="#b2b2b2"/>
<rect x="1446.5" y="717.3" width="12.6" height="13.0" fill="#bdbdbd"/>
<rect x="1375.3" y="767.8" width="8.6" height="10.9" fill="#9e9e9e"/>
<rect x="1327.1" y="742.7" width="12.9" height="11.3" fill="#a7a7a7"/>
<rect x="1483.9" y="623.4" width="7.3" height="9.3" fill="#d4d4d4"/>
<rect x="1286.9" y="705.0" width="10.2" height="13.1" fill="#d7d7d7"/>
<rect x="1441.2" y="700.7" width="12.7" height="10.7" fill="#bcbcbc"/>
<rect x="1488.1" y="764.5" width="5.1" height="8.7" fill="#939393"/>
<rect x="1447.3" y="612.0" width="6.3" height="5.6" fill="#cdcdcd"/>
<rect x="1486.7" y="600.4" width="5.2" height="6.7" fill="#bfbfbf"/>
<rect x="1219.7" y="708.8" width="6.0" height="11.3" fill="#a5a5a5"/>
<rect x="1391.7" y="580.8" width="13.5" height="6.6" fill="#dbdbdb"/>
<rect x="1415.7" y="586.8" width="10.0" height="13.1" fill="#cbcbcb"/>
<rect x="1460.8" y="710.3" width="7.2" height="5.2" fill="#acacac"/>
<rect x="1217.6" y="622.6" width="3.8" height="10.1" fill="#949494"/>
<rect x="1278.9" y="770.0" width="4.9" height="11.2" fill="#a6a6a6"/>
<rect x="1385.5" y="694.7" width="11.8" height="11.1" fill="#9b9b9b"/>
<rect x="1352.9" y="611.7" width="12.1" height="13.1" fill="#979797"/>
<rect x="1293.3" y="629.8" width="5.8" height="13.7" fill="#bababa"/>
<rect x="1431.2" y="635.7" width="3.4" height="11.7" fill="#929292"/>
<rect x="1419.3" y="616.5" width="12.9" height="11.9" fill="#dcdcdc"/>
<rect x="1484.6" y="718.6" width="10.0" height="3.3" fill="#9f9f9f"/>
<rect x="1382.8" y="580.6" width="12.8" height="9.6" fill="#a1a1a1"/>
<rect x="1255.9" y="589.3" width="11.7" height="3.2" fill="#bfbfbf"/>
<rect x="1333.5" y="729.4" width="4.5" height="11.6" fill="#d9d9d9"/>
<rect x="1304.3" y="736.9" width="13.7" height="5.1" fill="#ababab"/>
<rect x="1379.7" y="626.8" width="13.3" height="6.7" fill="#cacaca"/>
<rect x="1412.5" y="741.8" width="6.1" height="7.6" fill="#9b9b9b"/>
<rect x="1426.4" y="712.3" width="4.9" height="5.3" fill="#c9c9c9"/>
<rect x="1343.1" y="576.0" width="11.9" height="5.6" fill="#acacac"/>
<rect x="1430.8" y="618.1" width="9.6" height="5.9" fill="#b3b3b3"/>
<rect x="1392.1" y="656.5" width="10.5" height="5.4" fill="#949494"/>
<rect x="1443.3" y="710.2" width="4.2" height="10.2" fill="#d5d5d5"/>
<rect x="1442.8" y="692.6" width="10.3" height="11.6" fill="#bbbbbb"/>
<rect x="1225.3" y="597.6" width="4.8" height="5.6" fill="#afafaf"/>
<rect x="1443.3" y="628.7" width="6.2" height="9.2" fill="#d8d8d8"/>
<rect x="1369.7" y="615.3" width="12.2" height="5.1" fill="#959595"/>
<rect x="1202.2" y="580.2" width="5.4" height="5.2" fill="#d1d1d1"/>
<rect x="1221.1" y="579.6" width="12.5" height="12.5" fill="#d5d5d5"/>
<rect x="1405.2" y="682.3" width="7.1" height="6.8" fill="#aaaaaa"/>
<rect x="1410.3" y="760.4" width="4.7" height="4.3" fill="#939393"/>
<rect x="1278.5" y="673.0" width="5.5" height="8.8" fill="#b8b8b8"/>
<rect x="1323.2" y="741.0" width="5.9" height="4.3" fill="#9b9b9b"/>
<rect x="1366.1" y="643.4" width="8.9" height="11.9" fill="#dadada"/>
<rect x="1286.5" y="669.4" width="11.6" height="14.0" fill="#b4b4b4"/>
<rect x="1358.3" y="677.5" width="12.2" height="9.8" fill="#d7d7d7"/>
<rect x="1251.7" y="624.9" width="6.9" height="4.4" fill="#989898"/>
<rect x="1428.4" y="665.8" width="13.7" height="9.1" fill="#bababa"/>
<rect x="1323.8" y="654.6" width="5.5" height="12.8" fill="#cbcbcb"/>
<rect x="1338.3" y="657.7" width="12.6" height="14.0" fill="#d2d2d2"/>
<rect x="1339.7" y="637.3" width="7.7" height="5.2" fill="#a5a5a5"/>
<rect x="1380.4" y="636.2" width="11.5" height="6.8" fill="#999999"/>
<rect x="1403.3" y="695.4" width="11.6" height="11.5" fill="#9e9e9e"/>
<rect x="1428.6" y="691.3" width="8.5" height="12.2" fill="#c2c2c2"/>
<rect x="1449.7" y="578.8" width="4.9" height="3.6" fill="#a4a4a4"/>
<rect x="1403.9" y="746.9" width="7.4" height="10.7" fill="#dadada"/>
<rect x="1235.9" y="642.1" width="6.0" height="5.7" fill="#989898"/>
<rect x="1340.7" y="586.5" width="13.6" height="9.3" fill="#d9d9d9"/>
<rect x="1260.2" y="628.5" width="5.7" height="11.5" fill="#9b9b9b"/>
<rect x="1366.4" y="720.1" width="8.9" height="6.1" fill="#a2a2a2"/>
<rect x="1318.1" y="664.5" width="4.4" height="8.7" fill="#adadad"/>
<rect x="1414.7" y="704.8" width="4.8" height="4.3" fill="#c7c7c7"/>
<rect x="1257.0" y="758.1" width="10.0" height="8.6" fill="#bbbbbb"/>
<rect x="1310.1" y="774.2" width="8.0" height="5.9" fill="#b0b0b0"/>
<rect x="1372.6" y="630.6" width="11.8" height="4.4" fill="#a3a3a3"/>
<rect x="1389.0" y="657.2" width="6.3" height="7.4" fill="#d5d5d5"/>
<rect x="1328.9" y="730.8" width="4.7" height="12.4" fill="#b0b0b0"/>
<rect x="1387.3" y="716.7" width="5.8" height="12.8" fill="#bababa"/>
<rect x="1414.2" y="764.4" width="10.8" height="13.5" fill="#acacac"/>
<rect x="1444.9" y="749.4" width="6.3" height="12.7" fill="#b3b3b3"/>
<rect x="1259.2" y="607.5" width="7.5" height="13.4" fill="#9e9e9e"/>
<rect x="1312.5" y="667.7" width="6.3" height="7.6" fill="#939393"/>
<rect x="1215.9" y="671.5" width="6.8" height="8.6" fill="#d8d8d8"/>
<rect x="1449.2" y="671.6" width="10.2" height="13.4" fill="#929292"/>
<rect x="1449.7" y="641.2" width="3.7" height="9.3" fill="#9b9b9b"/>
<rect x="1335.1" y="600.6" width="11.3" height="8.9" fill="#bcbcbc"/>
<rect x="1462.2" y="590.0" width="9.3" height="10.8" fill="#d2d2d2"/>
<rect x="1300.9" y="737.7" width="6.5" height="7.6" fill="#b3b3b3"/>
<rect x="1243.9" y="578.2" width="3.8" height="8.2" fill="#949494"/>
<rect x="1200.2" y="602.5" width="7.2" height="8.0" fill="#d8d8d8"/>
<rect x="1357.8" y="761.3" width="9.0" height="13.8" fill="#c7c7c7"/>
<rect x="1243.2" y="737.8" width="7.3" height="3.6" fill="#c5c5c5"/>
<rect x="1388.0" y="764.9" width="6.3" height="4.8" fill="#a4a4a4"/>
<rect x="1259.5" y="611.5" width="14.0" height="8.9" fill="#c9c9c9"/>
<rect x="1268.3" y="604.1" width="13.2" height="5.2" fill="#a1a1a1"/>
<rect x="1270.0" y="708.5" width="5.5" height="7.6" fill="#a3a3a3"/>
<rect x="1249.8" y="585.3" width="5.9" height="7.6" fill="#979797"/>
<rect x="1214.6" y="670.2" width="3.1" height="10.4" fill="#d7d7d7"/>
<rect x="1316.7" y="661.6" width="9.8" height="6.4" fill="#aaaaaa"/>
<rect x="1242.4" y="617.5" width="3.6" height="4.7" fill="#aaaaaa"/>
<rect x="1259.1" y="676.7" width="4.1" height="9.8" fill="#c7c7c7"/>
<rect x="1427.4" y="663.6" width="8.5" height="11.2" fill="#a1a1a1"/>
<rect x="1309.0" y="632.7" width="3.5" height="10.6" fill="#979797"/>
<rect x="1339.3" y="741.2" width="5.0" height="12.8" fill="#d4d4d4"/>
<rect x="1460.9" y="623.2" width="5.7" height="5.5" fill="#c0c0c0"/>
<rect x="1321.8" y="767.3" width="13.3" height="8.1" fill="#d5d5d5"/>
<rect x="1264.3" y="584.5" width="13.2" height="10.8" fill="#929292"/>
<rect x="1453.4" y="766.6" width="13.2" height="9.0" fill="#a3a3a3"/>
<rect x="1251.3" y="630.2" width="13.7" height="6.0" fill="#e0e0e0"/>
<rect x="1338.2" y="741.5" width="13.3" height="6.9" fill="#d0d0d0"/>
<rect x="1266.7" y="678.6" width="12.9" height="7.0" fill="#dbdbdb"/>
<rect x="1257.0" y="674.6" width="9.7" height="12.6" fill="#d9d9d9"/>
<rect x="1434.8" y="662.3" width="9.3" height="11.7" fill="#c7c7c7"/>
<rect x="1350.5" y="738.0" width="10.6" height="7.8" fill="#d7d7d7"/>
<rect x="1393.5" y="686.2" width="13.9" height="7.0" fill="#d4d4d4"/>
<rect x="1275.4" y="736.3" width="5.6" height="8.1" fill="#c9c9c9"/>
<rect x="1242.1" y="696.1" width="3.1" height="4.2" fill="#cecece"/>
<rect x="1371.7" y="701.0" width="6.8" height="3.9" fill="#b2b2b2"/>
<rect x="1268.3" y="739.3" width="6.0" height="6.8" fill="#afafaf"/>
<rect x="1266.3" y="630.9" width="10.8" height="9.0" fill="#c6c6c6"/>
<rect x="1244.3" y="625.8" width="12.5" height="13.1" fill="#989898"/>
<rect x="1411.8" y="759.8" width="5.1" height="7.3" fill="#bfbfbf"/>
<rect x="1242.4" y="631.4" width="4.6" height="7.1" fill="#bebebe"/>
<rect x="1280.5" y="757.9" width="8.5" height="4.9" fill="#c2c2c2"/>
<rect x="1286.8" y="729.2" width="9.6" height="6.5" fill="#919191"/>
<rect x="1384.1" y="584.4" width="10.2" height="13.5" fill="#939393"/>
<rect x="1321.7" y="707.9" width="11.6" height="5.0" fill="#c6c6c6"/>
<rect x="1468.5" y="667.9" width="6.2" height="10.5" fill="#b0b0b0"/>
<rect x="1398.8" y="757.1" width="10.5" height="12.6" fill="#cfcfcf"/>
<rect x="1392.8" y="617.6" width="13.5" height="5.8" fill="#999999"/>
<rect x="1286.4" y="635.4" width="6.8" height="13.4" fill="#dadada"/>
<rect x="1300.9" y="737.7" width="13.8" height="11.3" fill="#959595"/>
<rect x="1299.4" y="624.5" width="3.1" height="3.7" fill="#d5d5d5"/>
<rect x="1342.5" y="648.2" width="7.9" height="12.4" fill="#ababab"/>
<rect x="1482.0" y="770.3" width="3.5" height="8.0" fill="#dbdbdb"/>
<rect x="1446.8" y="606.0" width="4.1" height="7.9" fill="#959595"/>
<rect x="1418.1" y="721.1" width="5.3" height="3.9" fill="#dfdfdf"/>
<rect x="1435.2" y="610.4" width="3.6" height="10.7" fill="#969696"/>
<rect x="1219.8" y="611.9" width="13.8" height="11.7" fill="#c5c5c5"/>
<rect x="1244.3" y="593.4" width="4.9" height="7.8" fill="#b7b7b7"/>
<rect x="1201.1" y="644.8" width="9.0" height="12.3" fill="#969696"/>
<rect x="1296.3" y="772.9" width="9.1" height="4.8" fill="#c4c4c4"/>
<rect x="1258.4" y="711.5" width="10.4" height="9.7" fill="#dedede"/>
<rect x="1301.8" y="614.6" width="4.0" height="12.2" fill="#c4c4c4"/>
<rect x="1256.7" y="677.3" width="12.4" height="4.8" fill="#a0a0a0"/>
<rect x="1207.5" y="658.5" width="8.6" height="13.9" fill="#a0a0a0"/>
<rect x="1479.7" y="668.7" width="4.8" height="9.5" fill="#bdbdbd"/>
<rect x="1479.7" y="640.5" width="10.7" height="12.4" fill="#9e9e9e"/>
<rect x="1453.3" y="604.2" width="13.1" height="9.7" fill="#cfcfcf"/>
<rect x="1235.8" y="649.0" width="4.3" height="4.5" fill="#b1b1b1"/>
<rect x="1324.5" y="688.2" width="10.2" height="13.3" fill="#b1b1b1"/>
<rect x="1201.5" y="626.9" width="7.2" height="5.9" fill="#cacaca"/>
<rect x="1327.1" y="656.6" width="11.8" height="10.5" fill="#9f9f9f"/>
<rect x="1372.9" y="653.8" width="5.7" height="14.0" fill="#bbbbbb"/>
<rect x="1321.8" y="662.3" width="8.4" height="6.2" fill="#d8d8d8"/>
<rect x="1330.8" y="620.0" width="12.8" height="6.2" fill="#dcdcdc"/>
<rect x="1203.6" y="667.5" width="4.5" height="8.3" fill="#b5b5b5"/>
<rect x="1348.4" y="671.8" width="3.2" height="4.7" fill="#a8a8a8"/>
<rect x="1303.1" y="596.0" width="3.6" height="6.6" fill="#c0c0c0"/>
<rect x="1409.1" y="577.9" width="5.4" height="8.8" fill="#b8b8b8"/>
<rect x="1400.2" y="739.3" width="10.0" height="12.8" fill="#c5c5c5"/>
<rect x="1422.6" y="670.9" width="5.5" height="11.9" fill="#dadada"/>
<rect x="1306.0" y="681.3" width="3.5" height="13.0" fill="#d0d0d0"/>
<rect x="1204.5" y="582.3" width="4.8" height="8.5" fill="#dcdcdc"/>
<rect x="1235.5" y="762.6" width="5.4" height="7.7" fill="#b9b9b9"/>
<rect x="1333.2" y="625.1" width="12.4" height="6.0" fill="#bfbfbf"/>
<rect x="1369.0" y="636.9" width="10.8" height="9.3" fill="#dcdcdc"/>
<rect x="1398.1" y="773.6" width="3.2" height="4.8" fill="#d4d4d4"/>
<rect x="1334.4" y="686.7" width="5.7" height="13.4" fill="#c4c4c4"/>
<rect x="1460.8" y="637.0" width="9.8" height="12.7" fill="#d7d7d7"/>
<rect x="1246.4" y="701.6" width="6.5" height="10.5" fill="#a8a8a8"/>
<rect x="1310.8" y="766.1" width="13.9" height="10.3" fill="#999999"/>
<rect x="1204.9" y="666.5" width="11.2" height="10.1" fill="#999999"/>
<rect x="1381.8" y="686.3" width="14.0" height="4.1" fill="#9a9a9a"/>
<rect x="1377.2" y="627.6" width="13.3" height="9.3" fill="#9c9c9c"/>
<rect x="1259.1" y="677.0" width="6.6" height="3.4" fill="#afafaf"/>
<rect x="1259.5" y="682.0" width="11.4" height="4.6" fill="#c7c7c7"/>
<rect x="1236.7" y="649.1" width="6.5" height="5.3" fill="#aeaeae"/>
<rect x="1298.2" y="726.5" width="11.8" height="5.6" fill="#a1a1a1"/>
<rect x="1471.2" y="636.7" width="3.4" height="13.7" fill="#a7a7a7"/>
<rect x="1429.6" y="755.3" width="8.1" height="5.3" fill="#c9c9c9"/>
<rect x="1474.0" y="611.2" width="7.4" height="12.2" fill="#c5c5c5"/>
<rect x="1434.8" y="655.0" width="4.9" height="13.8" fill="#cbcbcb"/>
<rect x="1350.9" y="590.5" width="6.2" height="3.7" fill="#b5b5b5"/>
<rect x="1276.5" y="617.3" width="12.4" height="9.3" fill="#bdbdbd"/>
<rect x="1250.0" y="666.4" width="8.6" height="12.9" fill="#b4b4b4"/>
<rect x="1312.3" y="685.7" width="7.1" height="5.0" fill="#a0a0a0"/>
<rect x="1475.9" y="671.6" width="6.5" height="8.8" fill="#acacac"/>
<rect x="1302.1" y="598.2" width="3.4" height="8.7" fill="#b6b6b6"/>
<rect x="1413.4" y="702.7" width="9.8" height="6.9" fill="#959595"/>
<rect x="1379.4" y="686.5" width="3.5" height="8.8" fill="#a2a2a2"/>
<rect x="1316.4" y="679.8" width="6.8" height="10.9" fill="#a2a2a2"/>
<rect x="1200.8" y="726.4" width="9.9" height="8.3" fill="#d0d0d0"/>
<rect x="1400.9" y="666.3" width="13.9" height="13.4" fill="#a5a5a5"/>
<rect x="1293.4" y="598.5" width="10.7" height="7.6" fill="#c0c0c0"/>
<rect x="1244.1" y="615.5" width="10.8" height="11.5" fill="#c3c3c3"/>
<rect x="1474.1" y="698.8" width="4.4" height="12.7" fill="#a5a5a5"/>
<rect x="1300.3" y="703.3" width="9.2" height="11.4" fill="#c0c0c0"/>
<rect x="1392.0" y="682.6" width="13.0" height="11.5" fill="#d7d7d7"/>
<rect x="1290.2" y="596.3" width="9.6" height="10.6" fill="#bdbdbd"/>
<rect x="1265.2" y="749.9" width="5.4" height="13.7" fill="#ababab"/>
<rect x="1295.0" y="773.4" width="5.1" height="9.3" fill="#c1c1c1"/>
<rect x="1233.1" y="675.0" width="4.1" height="6.4" fill="#bababa"/>
<rect x="1330.6" y="737.8" width="6.5" height="10.4" fill="#c6c6c6"/>
<rect x="1208.7" y="621.3" width="5.8" height="12.1" fill="#929292"/>
<rect x="1441.1" y="773.1" width="13.5" height="8.9" fill="#979797"/>
<rect x="1401.3" y="738.2" width="12.9" height="3.2" fill="#afafaf"/>
<rect x="1342.9" y="630.5" width="12.8" height="11.4" fill="#9d9d9d"/>
<rect x="1355.4" y="612.5" width="3.8" height="9.0" fill="#bababa"/>
<rect x="1398.1" y="605.7" width="3.9" height="6.3" fill="#bababa"/>
<rect x="1262.5" y="757.8" width="4.5" height="12.7" fill="#d9d9d9"/>
<rect x="1395.2" y="589.2" width="13.6" height="6.1" fill="#dedede"/>
<rect x="1240.1" y="596.7" width="10.6" height="3.4" fill="#acacac"/>
<rect x="1293.5" y="734.7" width="13.3" height="11.7" fill="#919191"/>
<rect x="1222.0" y="760.5" width="9.0" height="7.3" fill="#c5c5c5"/>
<rect x="1377.6" y="600.4" width="14.0" height="10.0" fill="#b6b6b6"/>
<rect x="1383.2" y="666.9" width="12.9" height="9.1" fill="#adadad"/>
<rect x="1255.3" y="593.6" width="3.1" height="5.4" fill="#949494"/>
<rect x="1401.4" y="737.0" width="11.3" height="13.9" fill="#a1a1a1"/>
<rect x="1445.8" y="623.0" width="12.3" height="7.2" fill="#a8a8a8"/>
<rect x="1275.3" y="722.9" width="8.8" height="5.5" fill="#cfcfcf"/>
<rect x="1300.3" y="668.2" width="13.8" height="10.2" fill="#bfbfbf"/>
<rect x="1364.7" y="763.4" width="9.5" height="13.1" fill="#b6b6b6"/>
<rect x="1294.7" y="674.3" width="7.9" height="3.3" fill="#919191"/>
<rect x="1278.1" y="756.0" width="7.8" height="4.3" fill="#d9d9d9"/>
<rect x="1343.8" y="585.7" width="4.3" height="9.5" fill="#a8a8a8"/>
<rect x="1365.9" y="588.3" width="8.9" height="7.7" fill="#c1c1c1"/>
<rect x="1364.6" y="765.5" width="9.7" height="5.1" fill="#d7d7d7"/>
<rect x="1417.6" y="665.9" width="9.8" height="8.7" fill="#c9c9c9"/>
<rect x="1414.9" y="692.0" width="7.1" height="9.1" fill="#c0c0c0"/>
<rect x="1391.8" y="665.1" width="7.2" height="6.9" fill="#b3b3b3"/>
<rect x="1383.3" y="753.1" width="7.2" height="6.2" fill="#a0a0a0"/>
<rect x="1384.7" y="707.8" width="10.1" height="8.8" fill="#b0b0b0"/>
<rect x="1354.7" y="702.2" width="3.1" height="7.0" fill="#dadada"/>
<rect x="1301.6" y="732.9" width="10.2" height="10.2" fill="#9a9a9a"/>
<rect x="1330.3" y="713.8" width="12.7" height="8.4" fill="#bbbbbb"/>
<rect x="1218.2" y="696.7" width="14.0" height="4.3" fill="#a2a2a2"/>
<rect x="1355.8" y="632.1" width="5.5" height="14.0" fill="#adadad"/>
<rect x="1239.7" y="773.4" width="5.5" height="5.8" fill="#cbcbcb"/>
<rect x="1485.9" y="757.3" width="7.0" height="4.2" fill="#989898"/>
<rect x="1483.1" y="663.1" width="12.6" height="9.1" fill="#b3b3b3"/>
<rect x="1270.9" y="750.9" width="3.1" height="9.3" fill="#a2a2a2"/>
<rect x="1431.7" y="719.5" width="12.7" height="6.7" fill="#dbdbdb"/>
<rect x="1276.4" y="622.4" width="9.3" height="7.0" fill="#989898"/>
<rect x="1441.7" y="576.4" width="6.3" height="6.5" fill="#b8b8b8"/>
<rect x="1402.1" y="617.4" width="8.6" height="4.7" fill="#cbcbcb"/>
<rect x="1292.1" y="593.5" width="4.9" height="12.7" fill="#9c9c9c"/>
<rect x="1292.5" y="773.5" width="5.2" height="4.5" fill="#aeaeae"/>
<rect x="1221.6" y="592.3" width="7.3" height="11.3" fill="#d6d6d6"/>
<rect x="1253.9" y="726.7" width="6.6" height="4.9" fill="#dedede"/>
<rect x="1335.1" y="615.4" width="7.4" height="10.8" fill="#a9a9a9"/>
<rect x="1432.7" y="593.5" width="6.7" height="5.8" fill="#afafaf"/>
<rect x="1478.4" y="701.5" width="11.1" height="3.4" fill="#c4c4c4"/>
<rect x="1448.7" y="773.7" width="5.1" height="5.2" fill="#919191"/>
<rect x="1222.2" y="696.6" width="12.0" height="5.2" fill="#989898"/>
<rect x="1282.3" y="603.5" width="12.2" height="12.3" fill="#b9b9b9"/>
<rect x="1403.4" y="600.4" width="11.2" height="3.4" fill="#aeaeae"/>
<rect x="1357.9" y="636.4" width="4.8" height="3.9" fill="#d9d9d9"/>
<rect x="1346.9" y="703.0" width="12.9" height="11.0" fill="#ababab"/>
<rect x="1322.9" y="663.9" width="8.2" height="9.0" fill="#d4d4d4"/>
<rect x="1445.6" y="635.4" width="13.9" height="11.1" fill="#969696"/>
<rect x="1425.2" y="722.2" width="5.4" height="8.5" fill="#d9d9d9"/>
<rect x="1215.9" y="672.8" width="11.6" height="6.3" fill="#aaaaaa"/>
<rect x="1354.7" y="726.7" width="12.6" height="13.0" fill="#cacaca"/>
<rect x="1477.6" y="735.4" width="8.7" height="7.9" fill="#bebebe"/>
<rect x="1420.1" y="687.4" width="13.9" height="4.6" fill="#aaaaaa"/>
<rect x="1456.9" y="610.1" width="4.4" height="9.4" fill="#d8d8d8"/>
<rect x="1358.1" y="673.9" width="13.9" height="5.1" fill="#ababab"/>
<rect x="1478.4" y="745.6" width="4.3" height="5.9" fill="#dcdcdc"/>
<rect x="1218.0" y="660.6" width="8.5" height="8.5" fill="#bfbfbf"/>
<rect x="1387.9" y="584.6" width="13.9" height="3.7" fill="#dedede"/>
<rect x="1387.0" y="615.8" width="5.2" height="10.6" fill="#b5b5b5"/>
<rect x="1315.8" y="587.9" width="7.7" height="5.0" fill="#c9c9c9"/>
<rect x="1314.4" y="677.9" width="13.7" height="9.0" fill="#9c9c9c"/>
<rect x="1230.0" y="650.0" width="11.1" height="10.6" fill="#9a9a9a"/>
<rect x="1451.8" y="588.3" width="10.7" height="3.2" fill="#d3d3d3"/>
<rect x="1409.8" y="762.9" width="5.1" height="8.8" fill="#d6d6d6"/>
<rect x="1327.0" y="608.2" width="4.7" height="10.9" fill="#b5b5b5"/>
<rect x="1400.4" y="686.6" width="13.3" height="3.2" fill="#d7d7d7"/>
<rect x="1448.3" y="597.0" width="8.2" height="5.7" fill="#c7c7c7"/>
<rect x="1249.3" y="749.6" width="6.2" height="3.6" fill="#9d9d9d"/>
<rect x="1466.3" y="585.7" width="13.1" height="4.6" fill="#c5c5c5"/>
<rect x="1469.3" y="620.2" width="8.9" height="9.6" fill="#dfdfdf"/>
<rect x="1272.8" y="771.6" width="9.3" height="11.9" fill="#cacaca"/>
<rect x="1456.4" y="689.1" width="8.2" height="5.4" fill="#dfdfdf"/>
<rect x="1407.4" y="608.2" width="12.7" height="11.2" fill="#d2d2d2"/>
<rect x="1220.0" y="595.8" width="10.9" height="4.1" fill="#a2a2a2"/>
<rect x="1400.5" y="647.8" width="11.4" height="11.4" fill="#dbdbdb"/>
<rect x="1330.2" y="628.0" width="4.7" height="5.5" fill="#cbcbcb"/>
<rect x="1293.1" y="689.8" width="12.2" height="11.2" fill="#a9a9a9"/>
<rect x="1244.4" y="744.2" width="9.0" height="8.8" fill="#d1d1d1"/>
<rect x="1267.4" y="728.6" width="11.6" height="4.0" fill="#d1d1d1"/>
<rect x="1323.7" y="619.4" width="9.8" height="13.3" fill="#b6b6b6"/>
<rect x="1429.7" y="640.3" width="6.3" height="7.2" fill="#c9c9c9"/>
<rect x="1348.3" y="753.4" width="9.5" height="3.2" fill="#c4c4c4"/>
<rect x="1486.1" y="582.7" width="12.4" height="10.0" fill="#b2b2b2"/>
<rect x="1286.7" y="706.4" width="5.2" height="11.3" fill="#c4c4c4"/>
<rect x="1297.7" y="625.4" width="3.2" height="9.8" fill="#c4c4c4"/>
<rect x="1406.2" y="590.3" width="10.0" height="5.4" fill="#949494"/>
<rect x="1472.0" y="769.8" width="12.8" height="13.2" fill="#cbcbcb"/>
<rect x="1355.6" y="763.9" width="9.3" height="8.8" fill="#dddddd"/>
<rect x="1357.1" y="661.2" width="7.8" height="5.2" fill="#d1d1d1"/>
<rect x="1223.5" y="681.4" width="13.1" height="9.8" fill="#9a9a9a"/>
<rect x="1395.9" y="667.1" width="8.9" height="12.0" fill="#9d9d9d"/>
<rect x="1340.0" y="585.3" width="13.2" height="12.6" fill="#c6c6c6"/>
<rect x="1310.7" y="630.4" width="7.4" height="7.4" fill="#9b9b9b"/>
<rect x="1324.9" y="725.3" width="10.2" height="8.7" fill="#b8b8b8"/>
<rect x="1364.9" y="710.3" width="4.8" height="5.9" fill="#c3c3c3"/>
<rect x="1421.5" y="692.8" width="11.2" height="6.9" fill="#a4a4a4"/>
<rect x="1450.4" y="764.3" width="4.4" height="9.9" fill="#d1d1d1"/>
<rect x="1270.7" y="634.1" width="12.1" height="9.5" fill="#d5d5d5"/>
<rect x="1361.4" y="578.6" width="6.0" height="8.3" fill="#999999"/>
<rect x="1431.5" y="592.2" width="5.2" height="11.8" fill="#9d9d9d"/>
<rect x="1428.9" y="694.7" width="13.9" height="4.8" fill="#d6d6d6"/>
<rect x="1422.3" y="721.6" width="11.1" height="4.1" fill="#939393"/>
<rect x="1333.1" y="681.4" width="13.4" height="6.2" fill="#bcbcbc"/>
<rect x="1448.1" y="682.4" width="9.3" height="3.7" fill="#989898"/>
<rect x="1325.8" y="721.7" width="8.5" height="5.1" fill="#cccccc"/>
<rect x="1485.9" y="702.5" width="4.8" height="6.2" fill="#9f9f9f"/>
<rect x="1221.5" y="708.8" width="9.7" height="5.7" fill="#999999"/>
<rect x="1485.6" y="588.7" width="4.5" height="10.5" fill="#cccccc"/>
<rect x="1204.9" y="579.1" width="4.6" height="3.6" fill="#cacaca"/>
<rect x="1243.1" y="584.7" width="13.0" height="3.1" fill="#b1b1b1"/>
<rect x="1439.3" y="596.3" width="6.5" height="5.1" fill="#c3c3c3"/>
<rect x="1238.2" y="614.2" width="4.6" height="10.2" fill="#dfdfdf"/>
<rect x="1394.3" y="775.8" width="5.9" height="8.0" fill="#bcbcbc"/>
<rect x="1402.1" y="691.1" width="4.3" height="10.4" fill="#afafaf"/>
<rect x="1357.3" y="686.7" width="12.0" height="3.7" fill="#d9d9d9"/>
<rect x="1310.5" y="696.2" width="11.6" height="5.6" fill="#aeaeae"/>
<rect x="1334.6" y="602.3" width="3.7" height="13.9" fill="#9c9c9c"/>
<rect x="1241.5" y="685.4" width="3.2" height="13.0" fill="#dcdcdc"/>
<rect x="1282.1" y="709.4" width="11.4" height="9.5" fill="#d1d1d1"/>
<rect x="1321.2" y="696.7" width="5.3" height="5.5" fill="#d7d7d7"/>
<rect x="1410.7" y="605.5" width="9.5" height="5.9" fill="#999999"/>
<rect x="1371.7" y="667.8" width="3.1" height="9.3" fill="#bcbcbc"/>
<rect x="1372.5" y="657.2" width="5.1" height="5.3" fill="#b8b8b8"/>
<rect x="1413.5" y="587.2" width="13.1" height="8.1" fill="#b7b7b7"/>
<rect x="1255.9" y="653.3" width="3.6" height="5.2" fill="#9d9d9d"/>
<rect x="1287.3" y="589.4" width="13.3" height="6.3" fill="#aeaeae"/>
<rect x="1457.7" y="698.4" width="11.6" height="9.0" fill="#c4c4c4"/>
<rect x="1331.5" y="602.4" width="7.7" height="12.2" fill="#a2a2a2"/>
<rect x="1252.0" y="703.8" width="11.8" height="3.6" fill="#c7c7c7"/>
<rect x="1322.6" y="692.3" width="8.1" height="10.2" fill="#939393"/>
<rect x="1368.2" y="641.6" width="7.5" height="13.7" fill="#c2c2c2"/>
<rect x="1319.1" y="740.0" width="13.7" height="8.1" fill="#d4d4d4"/>
<rect x="1288.0" y="645.2" width="5.5" height="10.4" fill="#d0d0d0"/>
<rect x="1342.5" y="744.9" width="7.0" height="13.1" fill="#9a9a9a"/>
<rect x="1451.0" y="757.9" width="7.4" height="3.4" fill="#b7b7b7"/>
<rect x="1312.8" y="634.8" width="8.1" height="13.7" fill="#9b9b9b"/>
<rect x="1351.2" y="718.8" width="13.1" height="11.8" fill="#d3d3d3"/>
<rect x="1387.9" y="753.5" width="10.4" height="4.2" fill="#b6b6b6"/>
<rect x="1255.7" y="619.8" width="7.7" height="10.1" fill="#c6c6c6"/>
<rect x="1390.2" y="678.1" width="13.9" height="4.3" fill="#939393"/>
<rect x="1199" y="236" width="20" height="548" fill="#dadada"/>
<rect x="1199" y="238" width="20" height="2.2" fill="#8c8c8c"/>
<rect x="1199" y="243" width="20" height="2.2" fill="#8c8c8c"/>
<rect x="1199" y="248" width="20" height="2.2" fill="#8c8c8c"/>
<rect x="1199" y="253" width="20" height="2.2" fill="#8c8c8c"/>
<rect x="1199" y="258" width="20" height="2.2" fill="#8c8c8c"/>
<rect x="1199" y="263" width="20" height="2.2" fill="#8c8c8c"/>
<rect x="1199" y="268" width="20" height="2.2" fill="#8c8c8c"/>
<rect x="1199" y="273" width="20" height="2.2" fill="#8c8c8c"/>
<rect x="1199" y="278" width="20" height="2.2" fill="#8c8c8c"/>
<rect x="1199" y="283" width="20" height="2.2" fill="#8c8c8c"/>
<rect x="1199" y="288" width="20" height="2.2" fill="#8c8c8c"/>
<rect x="1199" y="293" width="20" height="2.2" fill="#8c8c8c"/>
<rect x="1199" y="298" width="20" height="2.2" fill="#8c8c8c"/>
<rect x="1199" y="303" width="20" height="2.2" fill="#8c8c8c"/>
<rect x="1199" y="308" width="20" height="2.2" fill="#8c8c8c"/>
<rect x="1199" y="313" width="20" height="2.2" fill="#8c8c8c"/>
<rect x="1199" y="318" width="20" height="2.2" fill="#8c8c8c"/>
<rect x="1199" y="323" width="20" height="2.2" fill="#8c8c8c"/>
<rect x="1199" y="328" width="20" height="2.2" fill="#8c8c8c"/>
<rect x="1199" y="333" width="20" height="2.2" fill="#8c8c8c"/>
<rect x="1199" y="338" width="20" height="2.2" fill="#8c8c8c"/>
<rect x="1199" y="343" width="20" height="2.2" fill="#8c8c8c"/>
<rect x="1199" y="348" width="20" height="2.2" fill="#8c8c8c"/>
<rect x="1199" y="353" width="20" height="2.2" fill="#8c8c8c"/>
<rect x="1199" y="358" width="20" height="2.2" fill="#8c8c8c"/>
<rect x="1199" y="363" width="20" height="2.2" fill="#8c8c8c"/>
<rect x="1199" y="368" width="20" height="2.2" fill="#8c8c8c"/>
<rect x="1199" y="373" width="20" height="2.2" fill="#8c8c8c"/>
<rect x="1199" y="378" width="20" height="2.2" fill="#8c8c8c"/>
<rect x="1199" y="383" width="20" height="2.2" fill="#8c8c8c"/>
<rect x="1199" y="388" width="20" height="2.2" fill="#8c8c8c"/>
<rect x="1199" y="393" width="20" height="2.2" fill="#8c8c8c"/>
<rect x="1199" y="398" width="20" height="2.2" fill="#8c8c8c"/>
<rect x="1199" y="403" width="20" height="2.2" fill="#8c8c8c"/>
<rect x="1199" y="408" width="20" height="2.2" fill="#8c8c8c"/>
<rect x="1199" y="413" width="20" height="2.2" fill="#8c8c8c"/>
<rect x="1199" y="418" width="20" height="2.2" fill="#8c8c8c"/>
<rect x="1199" y="423" width="20" height="2.2" fill="#8c8c8c"/>
<rect x="1199" y="428" width="20" height="2.2" fill="#8c8c8c"/>
<rect x="1199" y="433" width="20" height="2.2" fill="#8c8c8c"/>
<rect x="1199" y="438" width="20" height="2.2" fill="#8c8c8c"/>
<rect x="1199" y="443" width="20" height="2.2" fill="#8c8c8c"/>
<rect x="1199" y="448" width="20" height="2.2" fill="#8c8c8c"/>
<rect x="1199" y="453" width="20" height="2.2" fill="#8c8c8c"/>
<rect x="1199" y="458" width="20" height="2.2" fill="#8c8c8c"/>
<rect x="1199" y="463" width="20" height="2.2" fill="#8c8c8c"/>
<rect x="1199" y="468" width="20" height="2.2" fill="#8c8c8c"/>
<rect x="1211" y="209" width="15" height="27" fill="#b8b8b8"/>
<path d="M1213 211h2v3h-2zM1217 211h2v3h-2zM1221 211h2v3h-2zM1213 216h2v3h-2zM1217 216h2v3h-2zM1221 216h2v3h-2zM1213 221h2v3h-2zM1221 221h2v3h-2zM1213 226h2v3h-2zM1217 226h2v3h-2zM1221 226h2v3h-2zM1213 231h2v3h-2zM1217 231h2v3h-2zM1221 231h2v3h-2z" fill="#888888"/>
<path d="M1262 193L1266 202L1270 210L1271 217L1251 217L1254 210L1258 202Z" fill="#6a6a6a"/>
<rect x="1250" y="217" width="30" height="23" fill="#8a8a8a"/>
<path d="M1252 219h2v3h-2zM1256 219h2v3h-2zM1264 219h2v3h-2zM1268 219h2v3h-2zM1276 219h2v3h-2zM1252 224h2v3h-2zM1256 224h2v3h-2zM1260 224h2v3h-2zM1264 224h2v3h-2zM1268 224h2v3h-2zM1272 224h2v3h-2zM1276 224h2v3h-2zM1252 229h2v3h-2zM1260 229h2v3h-2zM1264 229h2v3h-2zM1268 229h2v3h-2zM1272 229h2v3h-2zM1276 229h2v3h-2zM1256 234h2v3h-2zM1260 234h2v3h-2zM1264 234h2v3h-2zM1268 234h2v3h-2zM1272 234h2v3h-2zM1276 234h2v3h-2z" fill="#5a5a5a"/>
<rect x="1250" y="240" width="30" height="35" fill="#b8b8b8"/>
<path d="M1252 242h2v3h-2zM1256 242h2v3h-2zM1260 242h2v3h-2zM1268 242h2v3h-2zM1272 242h2v3h-2zM1276 242h2v3h-2zM1252 247h2v3h-2zM1256 247h2v3h-2zM1260 247h2v3h-2zM1264 247h2v3h-2zM1268 247h2v3h-2zM1272 247h2v3h-2zM1276 247h2v3h-2zM1252 252h2v3h-2zM1256 252h2v3h-2zM1260 252h2v3h-2zM1264 252h2v3h-2zM1268 252h2v3h-2zM1272 252h2v3h-2zM1276 252h2v3h-2zM1252 257h2v3h-2zM1256 257h2v3h-2zM1264 257h2v3h-2zM1268 257h2v3h-2zM1272 257h2v3h-2zM1276 257h2v3h-2zM1252 262h2v3h-2zM1256 262h2v3h-2zM1260 262h2v3h-2zM1272 262h2v3h-2zM1276 262h2v3h-2zM1252 267h2v3h-2zM1256 267h2v3h-2zM1268 267h2v3h-2zM1272 267h2v3h-2zM1276 267h2v3h-2z" fill="#606060"/>
<rect x="1247" y="275" width="37" height="45" fill="#525252"/>
<rect x="1226" y="232" width="23" height="88" fill="#a6a6a6"/>
<path d="M1232 234h2v3h-2zM1240 234h2v3h-2zM1244 234h2v3h-2zM1228 239h2v3h-2zM1240 239h2v3h-2zM1228 244h2v3h-2zM1232 244h2v3h-2zM1236 244h2v3h-2zM1240 244h2v3h-2zM1244 244h2v3h-2zM1236 249h2v3h-2zM1244 249h2v3h-2zM1228 254h2v3h-2zM1232 254h2v3h-2zM1236 254h2v3h-2zM1244 254h2v3h-2zM1228 259h2v3h-2zM1232 259h2v3h-2zM1236 259h2v3h-2zM1240 259h2v3h-2zM1244 259h2v3h-2zM1228 264h2v3h-2zM1232 264h2v3h-2zM1240 264h2v3h-2zM1228 269h2v3h-2zM1236 269h2v3h-2zM1240 269h2v3h-2zM1244 269h2v3h-2zM1228 274h2v3h-2zM1236 274h2v3h-2zM1240 274h2v3h-2zM1244 274h2v3h-2zM1228 279h2v3h-2zM1232 279h2v3h-2zM1236 279h2v3h-2zM1240 279h2v3h-2zM1244 279h2v3h-2zM1228 284h2v3h-2zM1232 284h2v3h-2zM1236 284h2v3h-2zM1240 284h2v3h-2zM1244 284h2v3h-2zM1228 289h2v3h-2zM1232 289h2v3h-2zM1244 289h2v3h-2zM1228 294h2v3h-2zM1236 294h2v3h-2zM1244 294h2v3h-2zM1228 299h2v3h-2zM1232 299h2v3h-2zM1236 299h2v3h-2zM1240 299h2v3h-2zM1244 299h2v3h-2zM1228 304h2v3h-2zM1240 304h2v3h-2zM1228 309h2v3h-2zM1232 309h2v3h-2zM1236 309h2v3h-2zM1244 309h2v3h-2zM1228 314h2v3h-2zM1232 314h2v3h-2z" fill="#787878"/>
<rect x="1284" y="280" width="16" height="40" fill="#cccccc"/>
<path d="M1286 283h2v2h-2zM1290 283h2v2h-2zM1294 283h2v2h-2zM1286 288h2v2h-2zM1290 288h2v2h-2zM1294 288h2v2h-2zM1286 293h2v2h-2zM1290 293h2v2h-2zM1294 293h2v2h-2zM1286 298h2v2h-2zM1290 298h2v2h-2zM1286 303h2v2h-2zM1290 303h2v2h-2zM1286 308h2v2h-2zM1290 308h2v2h-2zM1294 308h2v2h-2zM1286 313h2v2h-2zM1294 313h2v2h-2z" fill="#909090"/>
<rect x="1288" y="207" width="15" height="34" fill="#aeaeae"/>
<path d="M1290 209h2v3h-2zM1298 209h2v3h-2zM1290 214h2v3h-2zM1294 214h2v3h-2zM1298 214h2v3h-2zM1290 219h2v3h-2zM1294 219h2v3h-2zM1298 219h2v3h-2zM1290 224h2v3h-2zM1294 224h2v3h-2zM1298 224h2v3h-2zM1290 229h2v3h-2zM1298 229h2v3h-2zM1290 234h2v3h-2zM1294 234h2v3h-2zM1298 234h2v3h-2z" fill="#808080"/>
<rect x="1294" y="241" width="23" height="79" fill="#747474"/>
<path d="M1296 244h2v3h-2zM1304 244h2v3h-2zM1312 244h2v3h-2zM1296 250h2v3h-2zM1300 250h2v3h-2zM1304 250h2v3h-2zM1308 250h2v3h-2zM1312 250h2v3h-2zM1300 256h2v3h-2zM1304 256h2v3h-2zM1308 256h2v3h-2zM1312 256h2v3h-2zM1296 262h2v3h-2zM1308 262h2v3h-2zM1312 262h2v3h-2zM1304 268h2v3h-2zM1308 268h2v3h-2zM1312 268h2v3h-2zM1300 274h2v3h-2zM1308 280h2v3h-2zM1312 280h2v3h-2zM1296 286h2v3h-2zM1304 286h2v3h-2zM1308 286h2v3h-2zM1296 292h2v3h-2zM1312 292h2v3h-2zM1300 298h2v3h-2zM1308 298h2v3h-2zM1312 298h2v3h-2zM1296 304h2v3h-2zM1300 304h2v3h-2zM1304 304h2v3h-2zM1312 304h2v3h-2zM1296 310h2v3h-2zM1304 310h2v3h-2zM1312 310h2v3h-2zM1296 316h2v3h-2zM1308 316h2v3h-2zM1312 316h2v3h-2z" fill="#585858"/>
<rect x="1343" y="143" width="11" height="27" fill="#868686"/>
<rect x="1335" y="168" width="23" height="24" fill="#7a7a7a"/>
<path d="M1365 153L1367 162L1370 166L1370 240L1360.5 240L1360.5 166L1363 162Z" fill="#8e8e8e"/>
<rect x="1372" y="177" width="18" height="75" fill="#a4a4a4"/>
<path d="M1374 180h2v3h-2zM1378 180h2v3h-2zM1382 180h2v3h-2zM1386 180h2v3h-2zM1378 186h2v3h-2zM1382 186h2v3h-2zM1386 186h2v3h-2zM1382 192h2v3h-2zM1386 192h2v3h-2zM1374 198h2v3h-2zM1382 198h2v3h-2zM1386 198h2v3h-2zM1374 204h2v3h-2zM1378 204h2v3h-2zM1382 204h2v3h-2zM1386 204h2v3h-2zM1374 210h2v3h-2zM1378 210h2v3h-2zM1382 210h2v3h-2zM1386 210h2v3h-2zM1374 216h2v3h-2zM1382 216h2v3h-2zM1386 216h2v3h-2zM1374 222h2v3h-2zM1378 222h2v3h-2zM1382 222h2v3h-2zM1386 222h2v3h-2zM1378 228h2v3h-2zM1382 228h2v3h-2zM1378 234h2v3h-2zM1382 234h2v3h-2zM1378 240h2v3h-2zM1386 240h2v3h-2zM1374 246h2v3h-2zM1378 246h2v3h-2zM1382 246h2v3h-2zM1386 246h2v3h-2z" fill="#808080"/>
<rect x="1375" y="158" width="6" height="19" fill="#a2a2a2"/>
<rect x="1318" y="193" width="44" height="127" fill="#b4b4b4"/>
<rect x="1349" y="207" width="13" height="113" fill="#c0c0c0"/>
<path d="M1351 210h2v3h-2zM1355 210h2v3h-2zM1351 216h2v3h-2zM1355 216h2v3h-2zM1359 216h2v3h-2zM1351 222h2v3h-2zM1355 222h2v3h-2zM1351 228h2v3h-2zM1355 228h2v3h-2zM1359 228h2v3h-2zM1351 234h2v3h-2zM1355 234h2v3h-2zM1359 234h2v3h-2zM1351 240h2v3h-2zM1355 240h2v3h-2zM1359 240h2v3h-2zM1351 246h2v3h-2zM1355 246h2v3h-2zM1351 252h2v3h-2zM1355 252h2v3h-2zM1359 252h2v3h-2zM1351 258h2v3h-2zM1355 258h2v3h-2zM1355 264h2v3h-2zM1359 264h2v3h-2zM1355 270h2v3h-2zM1351 276h2v3h-2zM1355 276h2v3h-2zM1359 276h2v3h-2zM1351 282h2v3h-2zM1355 282h2v3h-2zM1359 282h2v3h-2zM1351 288h2v3h-2zM1355 288h2v3h-2zM1359 288h2v3h-2zM1355 294h2v3h-2zM1359 294h2v3h-2zM1355 300h2v3h-2zM1359 300h2v3h-2zM1351 306h2v3h-2zM1355 306h2v3h-2zM1359 306h2v3h-2zM1351 312h2v3h-2zM1355 312h2v3h-2zM1359 312h2v3h-2z" fill="#505050"/>
<rect x="1318" y="207" width="8" height="113" fill="#b0b0b0"/>
<path d="M1320 210h2v3h-2zM1320 216h2v3h-2zM1320 222h2v3h-2zM1320 228h2v3h-2zM1320 234h2v3h-2zM1320 246h2v3h-2zM1320 252h2v3h-2zM1320 264h2v3h-2zM1320 276h2v3h-2zM1320 282h2v3h-2zM1320 288h2v3h-2zM1320 294h2v3h-2zM1320 300h2v3h-2zM1320 306h2v3h-2z" fill="#606060"/>
<rect x="1327.5" y="206" width="3.5" height="114" fill="#3a3a3a"/>
<rect x="1335.5" y="206" width="3.5" height="114" fill="#3a3a3a"/>
<rect x="1343.5" y="206" width="3.5" height="114" fill="#3a3a3a"/>
<rect x="1322" y="186" width="32" height="11" fill="#868686"/>
<rect x="1332" y="178" width="14" height="8" fill="#787878"/>
<rect x="1392" y="177" width="17" height="61" fill="#c2c2c2"/>
<path d="M1396 179h2v3h-2zM1405 179h2v3h-2zM1399 184h2v3h-2zM1402 184h2v3h-2zM1405 184h2v3h-2zM1393 189h2v3h-2zM1396 189h2v3h-2zM1399 189h2v3h-2zM1402 189h2v3h-2zM1405 189h2v3h-2zM1393 194h2v3h-2zM1396 194h2v3h-2zM1399 194h2v3h-2zM1402 194h2v3h-2zM1405 194h2v3h-2zM1393 199h2v3h-2zM1396 199h2v3h-2zM1399 199h2v3h-2zM1402 199h2v3h-2zM1405 199h2v3h-2zM1393 204h2v3h-2zM1396 204h2v3h-2zM1402 204h2v3h-2zM1405 204h2v3h-2zM1393 209h2v3h-2zM1396 209h2v3h-2zM1399 209h2v3h-2zM1402 209h2v3h-2zM1405 209h2v3h-2zM1396 214h2v3h-2zM1399 214h2v3h-2zM1405 214h2v3h-2zM1393 219h2v3h-2zM1396 219h2v3h-2zM1399 219h2v3h-2zM1402 219h2v3h-2zM1405 219h2v3h-2zM1393 224h2v3h-2zM1396 224h2v3h-2zM1399 224h2v3h-2zM1402 224h2v3h-2zM1405 224h2v3h-2zM1393 229h2v3h-2zM1396 229h2v3h-2zM1399 229h2v3h-2zM1402 229h2v3h-2zM1405 229h2v3h-2zM1393 234h2v3h-2zM1396 234h2v3h-2zM1399 234h2v3h-2zM1402 234h2v3h-2zM1405 234h2v3h-2z" fill="#888888"/>
<rect x="1383" y="238" width="30" height="82" fill="#9a9a9a"/>
<path d="M1385 241h2v3h-2zM1389 241h2v3h-2zM1393 241h2v3h-2zM1397 241h2v3h-2zM1409 241h2v3h-2zM1385 247h2v3h-2zM1389 247h2v3h-2zM1393 247h2v3h-2zM1397 247h2v3h-2zM1401 247h2v3h-2zM1405 247h2v3h-2zM1385 253h2v3h-2zM1389 253h2v3h-2zM1397 253h2v3h-2zM1401 253h2v3h-2zM1405 253h2v3h-2zM1409 253h2v3h-2zM1385 259h2v3h-2zM1389 259h2v3h-2zM1397 259h2v3h-2zM1401 259h2v3h-2zM1405 259h2v3h-2zM1385 265h2v3h-2zM1389 265h2v3h-2zM1393 265h2v3h-2zM1397 265h2v3h-2zM1401 265h2v3h-2zM1405 265h2v3h-2zM1409 265h2v3h-2zM1385 271h2v3h-2zM1389 271h2v3h-2zM1393 271h2v3h-2zM1397 271h2v3h-2zM1405 271h2v3h-2zM1409 271h2v3h-2zM1385 277h2v3h-2zM1389 277h2v3h-2zM1393 277h2v3h-2zM1397 277h2v3h-2zM1401 277h2v3h-2zM1405 277h2v3h-2zM1409 277h2v3h-2zM1385 283h2v3h-2zM1397 283h2v3h-2zM1401 283h2v3h-2zM1405 283h2v3h-2zM1409 283h2v3h-2zM1385 289h2v3h-2zM1389 289h2v3h-2zM1393 289h2v3h-2zM1397 289h2v3h-2zM1401 289h2v3h-2zM1405 289h2v3h-2zM1409 289h2v3h-2zM1389 295h2v3h-2zM1393 295h2v3h-2zM1397 295h2v3h-2zM1401 295h2v3h-2zM1409 295h2v3h-2zM1389 301h2v3h-2zM1405 301h2v3h-2zM1409 301h2v3h-2zM1385 307h2v3h-2zM1389 307h2v3h-2zM1393 307h2v3h-2zM1397 307h2v3h-2zM1401 307h2v3h-2zM1405 307h2v3h-2zM1409 307h2v3h-2zM1385 313h2v3h-2zM1389 313h2v3h-2zM1397 313h2v3h-2zM1401 313h2v3h-2zM1405 313h2v3h-2zM1409 313h2v3h-2z" fill="#606060"/>
<rect x="1364" y="250" width="28" height="70" fill="#cccccc"/>
<rect x="1366" y="254" width="24" height="2" fill="#7c7c7c"/>
<rect x="1366" y="259" width="24" height="2" fill="#7c7c7c"/>
<rect x="1366" y="264" width="24" height="2" fill="#7c7c7c"/>
<rect x="1366" y="269" width="24" height="2" fill="#7c7c7c"/>
<rect x="1366" y="274" width="24" height="2" fill="#7c7c7c"/>
<rect x="1366" y="279" width="24" height="2" fill="#7c7c7c"/>
<rect x="1366" y="284" width="24" height="2" fill="#7c7c7c"/>
<rect x="1366" y="289" width="24" height="2" fill="#7c7c7c"/>
<rect x="1366" y="294" width="24" height="2" fill="#7c7c7c"/>
<rect x="1366" y="299" width="24" height="2" fill="#7c7c7c"/>
<rect x="1366" y="304" width="24" height="2" fill="#7c7c7c"/>
<rect x="1366" y="309" width="24" height="2" fill="#7c7c7c"/>
<rect x="1366" y="314" width="24" height="2" fill="#7c7c7c"/>
<rect x="1366" y="319" width="24" height="2" fill="#7c7c7c"/>
<path d="M1447 25L1448.5 25L1449.5 57L1451.5 80L1455 88L1458 95L1464.5 95L1464.7 264L1429 264L1429.5 95L1437 95L1440 88L1444 80L1446 57Z" fill="#727272"/>
<rect x="1432" y="98" width="1" height="132" fill="#949494"/>
<rect x="1435" y="98" width="1" height="132" fill="#949494"/>
<rect x="1438" y="98" width="1" height="132" fill="#949494"/>
<rect x="1441" y="98" width="1" height="132" fill="#949494"/>
<rect x="1444" y="98" width="1" height="132" fill="#949494"/>
<rect x="1447" y="98" width="1" height="132" fill="#949494"/>
<rect x="1450" y="98" width="1" height="132" fill="#949494"/>
<rect x="1453" y="98" width="1" height="132" fill="#949494"/>
<rect x="1456" y="98" width="1" height="132" fill="#949494"/>
<rect x="1459" y="98" width="1" height="132" fill="#949494"/>
<rect x="1462" y="98" width="1" height="132" fill="#949494"/>
<rect x="1425" y="215" width="43" height="53" fill="#b0b0b0"/>
<path d="M1427 217h2v3h-2zM1435 217h2v3h-2zM1439 217h2v3h-2zM1443 217h2v3h-2zM1447 217h2v3h-2zM1451 217h2v3h-2zM1459 217h2v3h-2zM1427 222h2v3h-2zM1431 222h2v3h-2zM1435 222h2v3h-2zM1439 222h2v3h-2zM1443 222h2v3h-2zM1447 222h2v3h-2zM1459 222h2v3h-2zM1463 222h2v3h-2zM1427 227h2v3h-2zM1431 227h2v3h-2zM1435 227h2v3h-2zM1439 227h2v3h-2zM1447 227h2v3h-2zM1451 227h2v3h-2zM1455 227h2v3h-2zM1463 227h2v3h-2zM1427 232h2v3h-2zM1431 232h2v3h-2zM1435 232h2v3h-2zM1439 232h2v3h-2zM1443 232h2v3h-2zM1447 232h2v3h-2zM1451 232h2v3h-2zM1455 232h2v3h-2zM1459 232h2v3h-2zM1427 237h2v3h-2zM1435 237h2v3h-2zM1443 237h2v3h-2zM1447 237h2v3h-2zM1451 237h2v3h-2zM1455 237h2v3h-2zM1459 237h2v3h-2zM1463 237h2v3h-2zM1431 242h2v3h-2zM1439 242h2v3h-2zM1443 242h2v3h-2zM1447 242h2v3h-2zM1451 242h2v3h-2zM1455 242h2v3h-2zM1459 242h2v3h-2zM1463 242h2v3h-2zM1427 247h2v3h-2zM1431 247h2v3h-2zM1435 247h2v3h-2zM1439 247h2v3h-2zM1443 247h2v3h-2zM1447 247h2v3h-2zM1455 247h2v3h-2zM1459 247h2v3h-2zM1463 247h2v3h-2zM1431 252h2v3h-2zM1435 252h2v3h-2zM1439 252h2v3h-2zM1447 252h2v3h-2zM1451 252h2v3h-2zM1455 252h2v3h-2zM1459 252h2v3h-2zM1463 252h2v3h-2zM1427 257h2v3h-2zM1431 257h2v3h-2zM1435 257h2v3h-2zM1439 257h2v3h-2zM1443 257h2v3h-2zM1447 257h2v3h-2zM1451 257h2v3h-2zM1455 257h2v3h-2zM1463 257h2v3h-2zM1427 262h2v3h-2zM1431 262h2v3h-2zM1435 262h2v3h-2zM1439 262h2v3h-2zM1443 262h2v3h-2zM1447 262h2v3h-2zM1451 262h2v3h-2zM1455 262h2v3h-2zM1463 262h2v3h-2z" fill="#747474"/>
<rect x="1476.1" y="259.5" width="4.7" height="8.9" fill="#c6c6c6"/>
<rect x="1476.0" y="170.8" width="3.6" height="7.0" fill="#d8d8d8"/>
<rect x="1487.6" y="243.0" width="7.7" height="6.3" fill="#c2c2c2"/>
<rect x="1473.4" y="255.5" width="3.6" height="7.1" fill="#cbcbcb"/>
<rect x="1495.0" y="212.8" width="4.1" height="8.4" fill="#d7d7d7"/>
<rect x="1480.4" y="195.3" width="5.2" height="3.1" fill="#d5d5d5"/>
<rect x="1472.3" y="197.6" width="5.6" height="9.7" fill="#b8b8b8"/>
<rect x="1468.9" y="173.8" width="3.3" height="8.0" fill="#c6c6c6"/>
<rect x="1468.1" y="248.9" width="7.6" height="4.7" fill="#cecece"/>
<rect x="1492.5" y="280.9" width="3.7" height="9.5" fill="#d2d2d2"/>
<rect x="1471.3" y="237.9" width="5.7" height="7.9" fill="#c3c3c3"/>
<rect x="1470.2" y="265.5" width="4.7" height="5.2" fill="#d0d0d0"/>
<rect x="1468.7" y="223.6" width="3.0" height="6.6" fill="#bdbdbd"/>
<rect x="1480.7" y="180.6" width="7.8" height="5.2" fill="#d5d5d5"/>
<rect x="1474.5" y="255.6" width="3.0" height="5.1" fill="#c4c4c4"/>
<rect x="1471.1" y="210.4" width="7.3" height="5.3" fill="#bbbbbb"/>
<rect x="1484.2" y="172.8" width="3.8" height="6.7" fill="#bebebe"/>
<rect x="1480.7" y="243.2" width="5.6" height="6.1" fill="#bdbdbd"/>
<rect x="1491.0" y="250.0" width="3.1" height="3.5" fill="#bdbdbd"/>
<rect x="1493.2" y="203.9" width="4.7" height="5.2" fill="#cfcfcf"/>
<rect x="1474.4" y="240.5" width="3.4" height="3.3" fill="#c6c6c6"/>
<rect x="1484.4" y="290.8" width="7.4" height="8.8" fill="#d7d7d7"/>
<rect x="1477.8" y="162.7" width="7.4" height="3.6" fill="#cccccc"/>
<rect x="1470.1" y="212.7" width="5.5" height="3.6" fill="#cccccc"/>
<rect x="1485.1" y="247.3" width="5.0" height="6.3" fill="#cfcfcf"/>
<rect x="1491.4" y="146.3" width="5.1" height="4.2" fill="#bfbfbf"/>
<rect x="1485.4" y="155.3" width="4.0" height="7.2" fill="#c8c8c8"/>
<rect x="1469.9" y="250.7" width="5.9" height="7.8" fill="#c1c1c1"/>
<rect x="1490.8" y="236.5" width="4.9" height="3.9" fill="#d2d2d2"/>
<rect x="1478.6" y="152.3" width="5.6" height="3.8" fill="#bbbbbb"/>
<rect x="1477.7" y="146.6" width="7.0" height="3.0" fill="#d0d0d0"/>
<rect x="1476.7" y="293.0" width="8.0" height="3.2" fill="#c0c0c0"/>
<rect x="1493.3" y="198.0" width="4.6" height="9.9" fill="#cdcdcd"/>
<rect x="1468.1" y="197.8" width="7.0" height="5.5" fill="#cecece"/>
<rect x="1477.9" y="198.6" width="7.8" height="6.1" fill="#cbcbcb"/>
<rect x="1495.6" y="144.7" width="3.1" height="9.4" fill="#b8b8b8"/>
<rect x="1489.1" y="275.7" width="4.6" height="4.0" fill="#c9c9c9"/>
<rect x="1472.8" y="199.6" width="7.7" height="4.6" fill="#c6c6c6"/>
<rect x="1489.0" y="183.4" width="4.0" height="9.4" fill="#bfbfbf"/>
<rect x="1486.1" y="259.7" width="4.4" height="5.8" fill="#d6d6d6"/>
<rect x="1478.9" y="288.2" width="3.4" height="4.4" fill="#c7c7c7"/>
<rect x="1479.7" y="197.0" width="6.6" height="8.8" fill="#d1d1d1"/>
<rect x="1475.0" y="283.1" width="6.2" height="10.0" fill="#c8c8c8"/>
<rect x="1481.9" y="270.4" width="7.3" height="7.5" fill="#bbbbbb"/>
<rect x="1490.6" y="168.6" width="4.4" height="6.4" fill="#d1d1d1"/>
<rect x="1481.2" y="250.5" width="3.4" height="5.5" fill="#c9c9c9"/>
<rect x="1477.5" y="219.3" width="7.2" height="7.8" fill="#c4c4c4"/>
<rect x="1472.5" y="177.9" width="7.4" height="5.1" fill="#c0c0c0"/>
<rect x="1474.1" y="203.9" width="7.0" height="7.8" fill="#d5d5d5"/>
<rect x="1490.8" y="149.1" width="7.8" height="4.6" fill="#d8d8d8"/>
<rect x="1468.9" y="243.5" width="4.6" height="9.7" fill="#d6d6d6"/>
<rect x="1471.9" y="176.3" width="7.1" height="7.0" fill="#d6d6d6"/>
<rect x="1476.5" y="235.3" width="7.3" height="4.5" fill="#c2c2c2"/>
<rect x="1471.1" y="235.5" width="4.1" height="9.1" fill="#c5c5c5"/>
<rect x="1487.9" y="256.9" width="5.4" height="9.1" fill="#b9b9b9"/>
<rect x="1468.0" y="174.2" width="7.1" height="8.5" fill="#cfcfcf"/>
<rect x="1489.9" y="153.4" width="7.3" height="6.8" fill="#c0c0c0"/>
<rect x="1473.6" y="226.2" width="7.1" height="8.6" fill="#c6c6c6"/>
<rect x="1476.1" y="257.5" width="6.7" height="5.8" fill="#cecece"/>
<rect x="1475.1" y="216.1" width="4.8" height="8.0" fill="#bebebe"/>
<rect x="1413" y="262" width="87" height="58" fill="#b6b6b6"/>
<path d="M1416 265h2v3h-2zM1421 265h2v3h-2zM1426 265h2v3h-2zM1431 265h2v3h-2zM1436 265h2v3h-2zM1441 265h2v3h-2zM1446 265h2v3h-2zM1461 265h2v3h-2zM1466 265h2v3h-2zM1471 265h2v3h-2zM1496 265h2v3h-2zM1416 271h2v3h-2zM1421 271h2v3h-2zM1426 271h2v3h-2zM1436 271h2v3h-2zM1441 271h2v3h-2zM1446 271h2v3h-2zM1451 271h2v3h-2zM1456 271h2v3h-2zM1471 271h2v3h-2zM1476 271h2v3h-2zM1481 271h2v3h-2zM1486 271h2v3h-2zM1491 271h2v3h-2zM1496 271h2v3h-2zM1416 277h2v3h-2zM1421 277h2v3h-2zM1426 277h2v3h-2zM1436 277h2v3h-2zM1441 277h2v3h-2zM1446 277h2v3h-2zM1466 277h2v3h-2zM1471 277h2v3h-2zM1476 277h2v3h-2zM1481 277h2v3h-2zM1486 277h2v3h-2zM1491 277h2v3h-2zM1496 277h2v3h-2zM1431 283h2v3h-2zM1441 283h2v3h-2zM1446 283h2v3h-2zM1451 283h2v3h-2zM1456 283h2v3h-2zM1466 283h2v3h-2zM1471 283h2v3h-2zM1476 283h2v3h-2zM1481 283h2v3h-2zM1486 283h2v3h-2zM1491 283h2v3h-2zM1416 289h2v3h-2zM1431 289h2v3h-2zM1446 289h2v3h-2zM1451 289h2v3h-2zM1461 289h2v3h-2zM1466 289h2v3h-2zM1471 289h2v3h-2zM1476 289h2v3h-2zM1486 289h2v3h-2zM1491 289h2v3h-2zM1426 295h2v3h-2zM1431 295h2v3h-2zM1451 295h2v3h-2zM1456 295h2v3h-2zM1461 295h2v3h-2zM1466 295h2v3h-2zM1471 295h2v3h-2zM1486 295h2v3h-2zM1491 295h2v3h-2zM1496 295h2v3h-2zM1426 301h2v3h-2zM1431 301h2v3h-2zM1436 301h2v3h-2zM1446 301h2v3h-2zM1451 301h2v3h-2zM1461 301h2v3h-2zM1466 301h2v3h-2zM1471 301h2v3h-2zM1481 301h2v3h-2zM1486 301h2v3h-2zM1416 307h2v3h-2zM1421 307h2v3h-2zM1431 307h2v3h-2zM1441 307h2v3h-2zM1446 307h2v3h-2zM1451 307h2v3h-2zM1461 307h2v3h-2zM1466 307h2v3h-2zM1471 307h2v3h-2zM1486 307h2v3h-2zM1491 307h2v3h-2zM1496 307h2v3h-2zM1416 313h2v3h-2zM1421 313h2v3h-2zM1436 313h2v3h-2zM1446 313h2v3h-2zM1451 313h2v3h-2zM1456 313h2v3h-2zM1466 313h2v3h-2zM1471 313h2v3h-2zM1476 313h2v3h-2z" fill="#808080"/>
<rect x="1445" y="300" width="30" height="484" fill="#868686"/>
<path d="M1447 303h2v3h-2zM1451 303h2v3h-2zM1455 303h2v3h-2zM1459 303h2v3h-2zM1463 303h2v3h-2zM1467 303h2v3h-2zM1471 303h2v3h-2zM1447 309h2v3h-2zM1451 309h2v3h-2zM1455 309h2v3h-2zM1459 309h2v3h-2zM1463 309h2v3h-2zM1467 309h2v3h-2zM1471 309h2v3h-2zM1447 315h2v3h-2zM1455 315h2v3h-2zM1463 315h2v3h-2zM1471 315h2v3h-2zM1447 321h2v3h-2zM1451 321h2v3h-2zM1455 321h2v3h-2zM1463 321h2v3h-2zM1467 321h2v3h-2zM1471 321h2v3h-2zM1447 327h2v3h-2zM1451 327h2v3h-2zM1455 327h2v3h-2zM1459 327h2v3h-2zM1463 327h2v3h-2zM1467 327h2v3h-2zM1471 327h2v3h-2zM1447 333h2v3h-2zM1451 333h2v3h-2zM1455 333h2v3h-2zM1459 333h2v3h-2zM1463 333h2v3h-2zM1467 333h2v3h-2zM1447 339h2v3h-2zM1451 339h2v3h-2zM1455 339h2v3h-2zM1467 339h2v3h-2zM1447 345h2v3h-2zM1459 345h2v3h-2zM1463 345h2v3h-2zM1467 345h2v3h-2zM1447 351h2v3h-2zM1451 351h2v3h-2zM1455 351h2v3h-2zM1459 351h2v3h-2zM1467 351h2v3h-2zM1471 351h2v3h-2zM1455 357h2v3h-2zM1459 357h2v3h-2zM1463 357h2v3h-2zM1447 363h2v3h-2zM1451 363h2v3h-2zM1455 363h2v3h-2zM1459 363h2v3h-2zM1463 363h2v3h-2zM1467 363h2v3h-2zM1471 363h2v3h-2zM1447 369h2v3h-2zM1451 369h2v3h-2zM1455 369h2v3h-2zM1459 369h2v3h-2zM1463 369h2v3h-2zM1467 369h2v3h-2zM1471 369h2v3h-2zM1447 375h2v3h-2zM1451 375h2v3h-2zM1455 375h2v3h-2zM1459 375h2v3h-2zM1463 375h2v3h-2zM1467 375h2v3h-2zM1471 375h2v3h-2zM1447 381h2v3h-2zM1455 381h2v3h-2zM1459 381h2v3h-2zM1463 381h2v3h-2zM1467 381h2v3h-2zM1471 381h2v3h-2zM1451 387h2v3h-2zM1459 387h2v3h-2zM1463 387h2v3h-2zM1467 387h2v3h-2zM1471 387h2v3h-2zM1447 393h2v3h-2zM1451 393h2v3h-2zM1455 393h2v3h-2zM1459 393h2v3h-2zM1463 393h2v3h-2zM1467 393h2v3h-2zM1447 399h2v3h-2zM1451 399h2v3h-2zM1455 399h2v3h-2zM1459 399h2v3h-2zM1467 399h2v3h-2zM1471 399h2v3h-2zM1451 405h2v3h-2zM1459 405h2v3h-2zM1463 405h2v3h-2zM1471 405h2v3h-2zM1451 411h2v3h-2zM1455 411h2v3h-2zM1463 411h2v3h-2zM1471 411h2v3h-2zM1447 417h2v3h-2zM1451 417h2v3h-2zM1459 417h2v3h-2zM1463 417h2v3h-2zM1467 417h2v3h-2zM1471 417h2v3h-2zM1447 423h2v3h-2zM1451 423h2v3h-2zM1455 423h2v3h-2zM1459 423h2v3h-2zM1463 423h2v3h-2zM1471 423h2v3h-2zM1447 429h2v3h-2zM1451 429h2v3h-2zM1455 429h2v3h-2zM1459 429h2v3h-2zM1463 429h2v3h-2zM1467 429h2v3h-2zM1471 429h2v3h-2zM1447 435h2v3h-2zM1455 435h2v3h-2zM1459 435h2v3h-2zM1463 435h2v3h-2zM1467 435h2v3h-2zM1471 435h2v3h-2zM1447 441h2v3h-2zM1451 441h2v3h-2zM1455 441h2v3h-2zM1459 441h2v3h-2zM1463 441h2v3h-2zM1471 441h2v3h-2zM1447 447h2v3h-2zM1455 447h2v3h-2zM1463 447h2v3h-2zM1467 447h2v3h-2zM1471 447h2v3h-2zM1447 453h2v3h-2zM1455 453h2v3h-2zM1459 453h2v3h-2zM1463 453h2v3h-2zM1467 453h2v3h-2zM1451 459h2v3h-2zM1455 459h2v3h-2zM1459 459h2v3h-2zM1463 459h2v3h-2zM1467 459h2v3h-2zM1471 459h2v3h-2zM1447 465h2v3h-2zM1451 465h2v3h-2zM1455 465h2v3h-2zM1463 465h2v3h-2zM1467 465h2v3h-2zM1471 465h2v3h-2zM1447 471h2v3h-2zM1451 471h2v3h-2zM1455 471h2v3h-2zM1459 471h2v3h-2zM1463 471h2v3h-2zM1471 471h2v3h-2zM1447 477h2v3h-2zM1451 477h2v3h-2zM1455 477h2v3h-2zM1459 477h2v3h-2zM1467 477h2v3h-2zM1471 477h2v3h-2zM1447 483h2v3h-2zM1451 483h2v3h-2zM1455 483h2v3h-2zM1459 483h2v3h-2zM1463 483h2v3h-2zM1467 483h2v3h-2zM1471 483h2v3h-2zM1451 489h2v3h-2zM1459 489h2v3h-2zM1463 489h2v3h-2zM1471 489h2v3h-2zM1447 495h2v3h-2zM1451 495h2v3h-2zM1455 495h2v3h-2zM1459 495h2v3h-2zM1463 495h2v3h-2zM1467 495h2v3h-2zM1471 495h2v3h-2zM1451 501h2v3h-2zM1455 501h2v3h-2zM1459 501h2v3h-2zM1463 501h2v3h-2zM1467 501h2v3h-2zM1471 501h2v3h-2zM1447 507h2v3h-2zM1451 507h2v3h-2zM1455 507h2v3h-2zM1459 507h2v3h-2zM1467 507h2v3h-2zM1471 507h2v3h-2zM1447 513h2v3h-2zM1451 513h2v3h-2zM1455 513h2v3h-2zM1463 513h2v3h-2zM1467 513h2v3h-2zM1471 513h2v3h-2zM1447 519h2v3h-2zM1451 519h2v3h-2zM1455 519h2v3h-2zM1459 519h2v3h-2zM1447 525h2v3h-2zM1451 525h2v3h-2zM1455 525h2v3h-2zM1459 525h2v3h-2zM1463 525h2v3h-2zM1467 525h2v3h-2zM1471 525h2v3h-2zM1447 531h2v3h-2zM1451 531h2v3h-2zM1459 531h2v3h-2zM1467 531h2v3h-2zM1471 531h2v3h-2zM1451 537h2v3h-2zM1455 537h2v3h-2zM1459 537h2v3h-2zM1463 537h2v3h-2zM1471 537h2v3h-2zM1451 543h2v3h-2zM1455 543h2v3h-2zM1459 543h2v3h-2zM1463 543h2v3h-2zM1467 543h2v3h-2zM1471 543h2v3h-2zM1451 549h2v3h-2zM1459 549h2v3h-2zM1463 549h2v3h-2zM1467 549h2v3h-2zM1471 549h2v3h-2zM1447 555h2v3h-2zM1451 555h2v3h-2zM1455 555h2v3h-2zM1459 555h2v3h-2zM1463 555h2v3h-2zM1467 555h2v3h-2zM1471 555h2v3h-2zM1447 561h2v3h-2zM1451 561h2v3h-2zM1455 561h2v3h-2zM1463 561h2v3h-2zM1467 561h2v3h-2zM1447 567h2v3h-2zM1451 567h2v3h-2zM1459 567h2v3h-2zM1463 567h2v3h-2zM1467 567h2v3h-2zM1471 567h2v3h-2zM1447 573h2v3h-2zM1451 573h2v3h-2zM1459 573h2v3h-2zM1463 573h2v3h-2zM1467 573h2v3h-2zM1471 573h2v3h-2zM1451 579h2v3h-2zM1455 579h2v3h-2zM1459 579h2v3h-2zM1463 579h2v3h-2zM1467 579h2v3h-2zM1471 579h2v3h-2zM1447 585h2v3h-2zM1451 585h2v3h-2zM1455 585h2v3h-2zM1459 585h2v3h-2zM1463 585h2v3h-2zM1467 585h2v3h-2zM1471 585h2v3h-2zM1447 591h2v3h-2zM1451 591h2v3h-2zM1455 591h2v3h-2zM1459 591h2v3h-2zM1463 591h2v3h-2zM1467 591h2v3h-2zM1447 597h2v3h-2zM1451 597h2v3h-2zM1455 597h2v3h-2zM1459 597h2v3h-2zM1463 597h2v3h-2zM1471 597h2v3h-2zM1447 603h2v3h-2zM1455 603h2v3h-2zM1459 603h2v3h-2zM1463 603h2v3h-2zM1447 609h2v3h-2zM1451 609h2v3h-2zM1455 609h2v3h-2zM1459 609h2v3h-2zM1463 609h2v3h-2zM1467 609h2v3h-2zM1471 609h2v3h-2zM1447 615h2v3h-2zM1451 615h2v3h-2zM1455 615h2v3h-2zM1459 615h2v3h-2zM1463 615h2v3h-2zM1467 615h2v3h-2zM1471 615h2v3h-2zM1451 621h2v3h-2zM1463 621h2v3h-2zM1467 621h2v3h-2zM1451 627h2v3h-2zM1459 627h2v3h-2zM1463 627h2v3h-2zM1471 627h2v3h-2zM1451 633h2v3h-2zM1455 633h2v3h-2zM1459 633h2v3h-2zM1463 633h2v3h-2zM1467 633h2v3h-2zM1471 633h2v3h-2zM1451 639h2v3h-2zM1455 639h2v3h-2zM1463 639h2v3h-2zM1467 639h2v3h-2zM1471 639h2v3h-2zM1447 645h2v3h-2zM1451 645h2v3h-2zM1455 645h2v3h-2zM1459 645h2v3h-2zM1467 645h2v3h-2zM1471 645h2v3h-2zM1447 651h2v3h-2zM1451 651h2v3h-2zM1455 651h2v3h-2zM1459 651h2v3h-2zM1463 651h2v3h-2zM1467 651h2v3h-2zM1471 651h2v3h-2zM1447 657h2v3h-2zM1451 657h2v3h-2zM1459 657h2v3h-2zM1463 657h2v3h-2zM1471 657h2v3h-2zM1451 663h2v3h-2zM1455 663h2v3h-2zM1459 663h2v3h-2zM1463 663h2v3h-2zM1467 663h2v3h-2zM1471 663h2v3h-2zM1451 669h2v3h-2zM1455 669h2v3h-2zM1463 669h2v3h-2zM1467 669h2v3h-2zM1447 675h2v3h-2zM1451 675h2v3h-2zM1455 675h2v3h-2zM1463 675h2v3h-2zM1471 675h2v3h-2zM1447 681h2v3h-2zM1451 681h2v3h-2zM1455 681h2v3h-2zM1459 681h2v3h-2zM1463 681h2v3h-2zM1467 681h2v3h-2zM1471 681h2v3h-2zM1447 687h2v3h-2zM1451 687h2v3h-2zM1455 687h2v3h-2zM1459 687h2v3h-2zM1463 687h2v3h-2zM1467 687h2v3h-2zM1471 687h2v3h-2zM1447 693h2v3h-2zM1455 693h2v3h-2zM1459 693h2v3h-2zM1471 693h2v3h-2zM1447 699h2v3h-2zM1451 699h2v3h-2zM1455 699h2v3h-2zM1463 699h2v3h-2zM1467 699h2v3h-2zM1447 705h2v3h-2zM1451 705h2v3h-2zM1455 705h2v3h-2zM1459 705h2v3h-2zM1463 705h2v3h-2zM1447 711h2v3h-2zM1451 711h2v3h-2zM1455 711h2v3h-2zM1459 711h2v3h-2zM1463 711h2v3h-2zM1467 711h2v3h-2zM1471 711h2v3h-2zM1447 717h2v3h-2zM1451 717h2v3h-2zM1455 717h2v3h-2zM1459 717h2v3h-2zM1467 717h2v3h-2zM1471 717h2v3h-2zM1447 723h2v3h-2zM1451 723h2v3h-2zM1455 723h2v3h-2zM1459 723h2v3h-2zM1467 723h2v3h-2zM1471 723h2v3h-2zM1447 729h2v3h-2zM1451 729h2v3h-2zM1455 729h2v3h-2zM1459 729h2v3h-2zM1463 729h2v3h-2zM1467 729h2v3h-2zM1447 735h2v3h-2zM1455 735h2v3h-2zM1459 735h2v3h-2zM1463 735h2v3h-2zM1467 735h2v3h-2zM1447 741h2v3h-2zM1451 741h2v3h-2zM1455 741h2v3h-2zM1459 741h2v3h-2zM1463 741h2v3h-2zM1467 741h2v3h-2zM1447 747h2v3h-2zM1451 747h2v3h-2zM1455 747h2v3h-2zM1459 747h2v3h-2zM1463 747h2v3h-2zM1471 747h2v3h-2zM1447 753h2v3h-2zM1451 753h2v3h-2zM1455 753h2v3h-2zM1459 753h2v3h-2zM1463 753h2v3h-2zM1467 753h2v3h-2zM1471 753h2v3h-2zM1447 759h2v3h-2zM1451 759h2v3h-2zM1455 759h2v3h-2zM1459 759h2v3h-2zM1463 759h2v3h-2zM1467 759h2v3h-2zM1471 759h2v3h-2zM1451 765h2v3h-2zM1459 765h2v3h-2zM1463 765h2v3h-2zM1471 765h2v3h-2zM1447 771h2v3h-2zM1451 771h2v3h-2zM1455 771h2v3h-2zM1459 771h2v3h-2zM1463 771h2v3h-2zM1467 771h2v3h-2zM1471 771h2v3h-2zM1447 777h2v3h-2zM1451 777h2v3h-2zM1455 777h2v3h-2zM1459 777h2v3h-2zM1463 777h2v3h-2zM1471 777h2v3h-2z" fill="#505050"/>
<rect x="1447" y="338" width="26" height="7" fill="#c4c4c4"/>
<rect x="1447" y="418" width="26" height="7" fill="#c4c4c4"/>
<rect x="1447" y="515" width="26" height="7" fill="#c4c4c4"/>
<rect x="1475" y="300" width="25" height="484" fill="#8e8e8e"/>
<path d="M1477 303h2v3h-2zM1481 303h2v3h-2zM1485 303h2v3h-2zM1489 303h2v3h-2zM1497 303h2v3h-2zM1477 309h2v3h-2zM1485 309h2v3h-2zM1489 309h2v3h-2zM1493 309h2v3h-2zM1497 309h2v3h-2zM1477 315h2v3h-2zM1493 315h2v3h-2zM1497 315h2v3h-2zM1477 321h2v3h-2zM1481 321h2v3h-2zM1485 321h2v3h-2zM1489 321h2v3h-2zM1493 321h2v3h-2zM1497 321h2v3h-2zM1477 327h2v3h-2zM1481 327h2v3h-2zM1489 327h2v3h-2zM1493 327h2v3h-2zM1481 333h2v3h-2zM1493 333h2v3h-2zM1497 333h2v3h-2zM1477 339h2v3h-2zM1481 339h2v3h-2zM1485 339h2v3h-2zM1489 339h2v3h-2zM1493 339h2v3h-2zM1497 339h2v3h-2zM1477 345h2v3h-2zM1481 345h2v3h-2zM1485 345h2v3h-2zM1489 345h2v3h-2zM1497 345h2v3h-2zM1481 351h2v3h-2zM1485 351h2v3h-2zM1489 351h2v3h-2zM1493 351h2v3h-2zM1497 351h2v3h-2zM1477 357h2v3h-2zM1485 357h2v3h-2zM1489 357h2v3h-2zM1493 357h2v3h-2zM1477 363h2v3h-2zM1481 363h2v3h-2zM1485 363h2v3h-2zM1489 363h2v3h-2zM1497 363h2v3h-2zM1477 369h2v3h-2zM1481 369h2v3h-2zM1485 369h2v3h-2zM1489 369h2v3h-2zM1493 369h2v3h-2zM1497 369h2v3h-2zM1477 375h2v3h-2zM1481 375h2v3h-2zM1485 375h2v3h-2zM1489 375h2v3h-2zM1497 375h2v3h-2zM1477 381h2v3h-2zM1485 381h2v3h-2zM1489 381h2v3h-2zM1497 381h2v3h-2zM1477 387h2v3h-2zM1481 387h2v3h-2zM1485 387h2v3h-2zM1489 387h2v3h-2zM1477 393h2v3h-2zM1481 393h2v3h-2zM1485 393h2v3h-2zM1489 393h2v3h-2zM1493 393h2v3h-2zM1497 393h2v3h-2zM1481 399h2v3h-2zM1485 399h2v3h-2zM1489 399h2v3h-2zM1497 399h2v3h-2zM1477 405h2v3h-2zM1481 405h2v3h-2zM1485 405h2v3h-2zM1489 405h2v3h-2zM1497 405h2v3h-2zM1477 411h2v3h-2zM1481 411h2v3h-2zM1489 411h2v3h-2zM1493 411h2v3h-2zM1497 411h2v3h-2zM1477 417h2v3h-2zM1481 417h2v3h-2zM1485 417h2v3h-2zM1489 417h2v3h-2zM1493 417h2v3h-2zM1477 423h2v3h-2zM1481 423h2v3h-2zM1485 423h2v3h-2zM1489 423h2v3h-2zM1493 423h2v3h-2zM1497 423h2v3h-2zM1489 429h2v3h-2zM1493 429h2v3h-2zM1497 429h2v3h-2zM1477 435h2v3h-2zM1485 435h2v3h-2zM1489 435h2v3h-2zM1477 441h2v3h-2zM1481 441h2v3h-2zM1485 441h2v3h-2zM1489 441h2v3h-2zM1493 441h2v3h-2zM1477 447h2v3h-2zM1481 447h2v3h-2zM1485 447h2v3h-2zM1497 447h2v3h-2zM1477 453h2v3h-2zM1481 453h2v3h-2zM1485 453h2v3h-2zM1481 459h2v3h-2zM1489 459h2v3h-2zM1493 459h2v3h-2zM1497 459h2v3h-2zM1477 465h2v3h-2zM1481 465h2v3h-2zM1489 465h2v3h-2zM1493 465h2v3h-2zM1497 465h2v3h-2zM1485 471h2v3h-2zM1489 471h2v3h-2zM1493 471h2v3h-2zM1481 477h2v3h-2zM1485 477h2v3h-2zM1493 477h2v3h-2zM1497 477h2v3h-2zM1481 483h2v3h-2zM1485 483h2v3h-2zM1489 483h2v3h-2zM1493 483h2v3h-2zM1477 489h2v3h-2zM1481 489h2v3h-2zM1489 489h2v3h-2zM1493 489h2v3h-2zM1497 489h2v3h-2zM1477 495h2v3h-2zM1481 495h2v3h-2zM1489 495h2v3h-2zM1493 495h2v3h-2zM1497 495h2v3h-2zM1481 501h2v3h-2zM1485 501h2v3h-2zM1489 501h2v3h-2zM1477 507h2v3h-2zM1489 507h2v3h-2zM1497 507h2v3h-2zM1477 513h2v3h-2zM1481 513h2v3h-2zM1485 513h2v3h-2zM1493 513h2v3h-2zM1485 525h2v3h-2zM1493 525h2v3h-2zM1497 525h2v3h-2zM1481 531h2v3h-2zM1489 531h2v3h-2zM1493 531h2v3h-2zM1497 531h2v3h-2zM1485 537h2v3h-2zM1489 537h2v3h-2zM1493 537h2v3h-2zM1477 543h2v3h-2zM1481 543h2v3h-2zM1485 543h2v3h-2zM1489 543h2v3h-2zM1493 543h2v3h-2zM1477 549h2v3h-2zM1485 549h2v3h-2zM1489 549h2v3h-2zM1485 555h2v3h-2zM1489 555h2v3h-2zM1493 555h2v3h-2zM1477 561h2v3h-2zM1485 561h2v3h-2zM1477 567h2v3h-2zM1481 567h2v3h-2zM1485 567h2v3h-2zM1489 567h2v3h-2zM1493 567h2v3h-2zM1497 567h2v3h-2zM1477 573h2v3h-2zM1481 573h2v3h-2zM1497 573h2v3h-2zM1477 579h2v3h-2zM1481 579h2v3h-2zM1485 579h2v3h-2zM1489 579h2v3h-2zM1493 579h2v3h-2zM1497 579h2v3h-2zM1477 585h2v3h-2zM1481 585h2v3h-2zM1485 585h2v3h-2zM1489 585h2v3h-2zM1497 585h2v3h-2zM1481 591h2v3h-2zM1485 591h2v3h-2zM1489 591h2v3h-2zM1493 591h2v3h-2zM1497 591h2v3h-2zM1477 597h2v3h-2zM1485 597h2v3h-2zM1493 597h2v3h-2zM1497 597h2v3h-2zM1477 603h2v3h-2zM1485 603h2v3h-2zM1489 603h2v3h-2zM1493 603h2v3h-2zM1497 603h2v3h-2zM1477 609h2v3h-2zM1481 609h2v3h-2zM1485 609h2v3h-2zM1489 609h2v3h-2zM1493 609h2v3h-2zM1497 609h2v3h-2zM1477 615h2v3h-2zM1481 615h2v3h-2zM1489 615h2v3h-2zM1493 615h2v3h-2zM1497 615h2v3h-2zM1477 621h2v3h-2zM1481 621h2v3h-2zM1497 621h2v3h-2zM1477 627h2v3h-2zM1481 627h2v3h-2zM1485 627h2v3h-2zM1489 627h2v3h-2zM1493 627h2v3h-2zM1497 627h2v3h-2zM1477 633h2v3h-2zM1481 633h2v3h-2zM1489 633h2v3h-2zM1493 633h2v3h-2zM1497 633h2v3h-2zM1481 639h2v3h-2zM1485 639h2v3h-2zM1489 639h2v3h-2zM1493 639h2v3h-2zM1497 639h2v3h-2zM1477 645h2v3h-2zM1481 645h2v3h-2zM1489 645h2v3h-2zM1493 645h2v3h-2zM1497 645h2v3h-2zM1485 651h2v3h-2zM1489 651h2v3h-2zM1493 651h2v3h-2zM1477 657h2v3h-2zM1481 657h2v3h-2zM1497 657h2v3h-2zM1481 663h2v3h-2zM1489 663h2v3h-2zM1493 663h2v3h-2zM1497 663h2v3h-2zM1485 669h2v3h-2zM1489 669h2v3h-2zM1493 669h2v3h-2zM1497 669h2v3h-2zM1477 675h2v3h-2zM1489 675h2v3h-2zM1493 675h2v3h-2zM1497 675h2v3h-2zM1477 681h2v3h-2zM1485 681h2v3h-2zM1489 681h2v3h-2zM1493 681h2v3h-2zM1477 687h2v3h-2zM1481 687h2v3h-2zM1485 687h2v3h-2zM1489 687h2v3h-2zM1497 687h2v3h-2zM1485 693h2v3h-2zM1497 693h2v3h-2zM1477 699h2v3h-2zM1481 699h2v3h-2zM1485 699h2v3h-2zM1489 699h2v3h-2zM1493 699h2v3h-2zM1481 705h2v3h-2zM1485 705h2v3h-2zM1477 711h2v3h-2zM1485 711h2v3h-2zM1493 711h2v3h-2zM1497 711h2v3h-2zM1485 717h2v3h-2zM1489 717h2v3h-2zM1497 717h2v3h-2zM1481 723h2v3h-2zM1485 723h2v3h-2zM1489 723h2v3h-2zM1477 729h2v3h-2zM1485 729h2v3h-2zM1493 729h2v3h-2zM1497 729h2v3h-2zM1477 735h2v3h-2zM1481 735h2v3h-2zM1485 735h2v3h-2zM1489 735h2v3h-2zM1493 735h2v3h-2zM1497 735h2v3h-2zM1477 741h2v3h-2zM1485 741h2v3h-2zM1489 741h2v3h-2zM1493 741h2v3h-2zM1497 741h2v3h-2zM1481 747h2v3h-2zM1485 747h2v3h-2zM1493 747h2v3h-2zM1477 753h2v3h-2zM1485 753h2v3h-2zM1489 753h2v3h-2zM1493 753h2v3h-2zM1485 759h2v3h-2zM1489 759h2v3h-2zM1493 759h2v3h-2zM1481 765h2v3h-2zM1493 765h2v3h-2zM1497 765h2v3h-2zM1481 771h2v3h-2zM1485 771h2v3h-2zM1489 771h2v3h-2zM1493 771h2v3h-2zM1497 771h2v3h-2zM1477 777h2v3h-2zM1485 777h2v3h-2zM1489 777h2v3h-2zM1493 777h2v3h-2zM1497 777h2v3h-2z" fill="#585858"/>
<rect x="1478" y="360" width="22" height="12" fill="#c8c8c8"/>
<rect x="1480" y="470" width="20" height="10" fill="#cccccc"/>
<rect x="1131" y="425" width="69" height="30" fill="#d6d6d6"/>
<path d="M1143 429h4v3h-4zM1159 429h4v3h-4zM1167 429h4v3h-4zM1183 429h4v3h-4zM1191 429h4v3h-4zM1135 436h4v3h-4zM1143 436h4v3h-4zM1159 436h4v3h-4zM1183 436h4v3h-4zM1191 436h4v3h-4zM1143 443h4v3h-4zM1151 443h4v3h-4zM1167 443h4v3h-4zM1183 443h4v3h-4zM1191 443h4v3h-4zM1135 450h4v3h-4zM1159 450h4v3h-4zM1167 450h4v3h-4zM1175 450h4v3h-4zM1191 450h4v3h-4z" fill="#c0c0c0"/>
<rect x="1200" y="425" width="90" height="30" fill="#c8c8c8"/>
<path d="M1204 428h3v3h-3zM1218 428h3v3h-3zM1225 428h3v3h-3zM1246 428h3v3h-3zM1253 428h3v3h-3zM1267 428h3v3h-3zM1204 434h3v3h-3zM1211 434h3v3h-3zM1218 434h3v3h-3zM1232 434h3v3h-3zM1253 434h3v3h-3zM1267 434h3v3h-3zM1274 434h3v3h-3zM1211 440h3v3h-3zM1225 440h3v3h-3zM1239 440h3v3h-3zM1246 440h3v3h-3zM1253 440h3v3h-3zM1274 440h3v3h-3zM1281 440h3v3h-3zM1211 446h3v3h-3zM1239 446h3v3h-3zM1246 446h3v3h-3zM1260 446h3v3h-3z" fill="#9c9c9c"/>
<rect x="1210" y="436" width="40" height="12" fill="#d8d8d8"/>
<rect x="1290" y="425" width="100" height="30" fill="#b8b8b8"/>
<path d="M1292 427h2v3h-2zM1296 427h2v3h-2zM1300 427h2v3h-2zM1304 427h2v3h-2zM1308 427h2v3h-2zM1312 427h2v3h-2zM1316 427h2v3h-2zM1320 427h2v3h-2zM1324 427h2v3h-2zM1328 427h2v3h-2zM1332 427h2v3h-2zM1336 427h2v3h-2zM1340 427h2v3h-2zM1344 427h2v3h-2zM1348 427h2v3h-2zM1352 427h2v3h-2zM1360 427h2v3h-2zM1368 427h2v3h-2zM1372 427h2v3h-2zM1380 427h2v3h-2zM1384 427h2v3h-2zM1292 432h2v3h-2zM1296 432h2v3h-2zM1300 432h2v3h-2zM1308 432h2v3h-2zM1312 432h2v3h-2zM1316 432h2v3h-2zM1320 432h2v3h-2zM1324 432h2v3h-2zM1328 432h2v3h-2zM1332 432h2v3h-2zM1336 432h2v3h-2zM1340 432h2v3h-2zM1344 432h2v3h-2zM1348 432h2v3h-2zM1352 432h2v3h-2zM1356 432h2v3h-2zM1360 432h2v3h-2zM1364 432h2v3h-2zM1368 432h2v3h-2zM1372 432h2v3h-2zM1380 432h2v3h-2zM1384 432h2v3h-2zM1292 437h2v3h-2zM1300 437h2v3h-2zM1304 437h2v3h-2zM1308 437h2v3h-2zM1312 437h2v3h-2zM1320 437h2v3h-2zM1324 437h2v3h-2zM1328 437h2v3h-2zM1336 437h2v3h-2zM1340 437h2v3h-2zM1344 437h2v3h-2zM1348 437h2v3h-2zM1352 437h2v3h-2zM1356 437h2v3h-2zM1360 437h2v3h-2zM1364 437h2v3h-2zM1368 437h2v3h-2zM1376 437h2v3h-2zM1380 437h2v3h-2zM1384 437h2v3h-2zM1300 442h2v3h-2zM1304 442h2v3h-2zM1308 442h2v3h-2zM1312 442h2v3h-2zM1320 442h2v3h-2zM1324 442h2v3h-2zM1328 442h2v3h-2zM1332 442h2v3h-2zM1336 442h2v3h-2zM1340 442h2v3h-2zM1344 442h2v3h-2zM1348 442h2v3h-2zM1352 442h2v3h-2zM1356 442h2v3h-2zM1360 442h2v3h-2zM1364 442h2v3h-2zM1368 442h2v3h-2zM1372 442h2v3h-2zM1376 442h2v3h-2zM1380 442h2v3h-2zM1384 442h2v3h-2zM1292 447h2v3h-2zM1296 447h2v3h-2zM1300 447h2v3h-2zM1304 447h2v3h-2zM1308 447h2v3h-2zM1312 447h2v3h-2zM1316 447h2v3h-2zM1320 447h2v3h-2zM1324 447h2v3h-2zM1328 447h2v3h-2zM1332 447h2v3h-2zM1336 447h2v3h-2zM1340 447h2v3h-2zM1344 447h2v3h-2zM1348 447h2v3h-2zM1352 447h2v3h-2zM1360 447h2v3h-2zM1364 447h2v3h-2zM1368 447h2v3h-2zM1372 447h2v3h-2zM1376 447h2v3h-2zM1380 447h2v3h-2zM1384 447h2v3h-2z" fill="#6c6c6c"/>
<rect x="1390" y="425" width="55" height="30" fill="#8e8e8e"/>
<path d="M1392 428h2v3h-2zM1396 428h2v3h-2zM1400 428h2v3h-2zM1404 428h2v3h-2zM1408 428h2v3h-2zM1412 428h2v3h-2zM1416 428h2v3h-2zM1420 428h2v3h-2zM1424 428h2v3h-2zM1428 428h2v3h-2zM1432 428h2v3h-2zM1440 428h2v3h-2zM1392 434h2v3h-2zM1396 434h2v3h-2zM1400 434h2v3h-2zM1404 434h2v3h-2zM1408 434h2v3h-2zM1416 434h2v3h-2zM1420 434h2v3h-2zM1424 434h2v3h-2zM1428 434h2v3h-2zM1432 434h2v3h-2zM1440 434h2v3h-2zM1392 440h2v3h-2zM1396 440h2v3h-2zM1400 440h2v3h-2zM1408 440h2v3h-2zM1416 440h2v3h-2zM1420 440h2v3h-2zM1424 440h2v3h-2zM1428 440h2v3h-2zM1432 440h2v3h-2zM1436 440h2v3h-2zM1440 440h2v3h-2zM1392 446h2v3h-2zM1396 446h2v3h-2zM1400 446h2v3h-2zM1404 446h2v3h-2zM1408 446h2v3h-2zM1412 446h2v3h-2zM1416 446h2v3h-2zM1420 446h2v3h-2zM1424 446h2v3h-2zM1432 446h2v3h-2zM1436 446h2v3h-2zM1440 446h2v3h-2z" fill="#606060"/>
<rect x="740" y="575" width="462" height="209" fill="#c8c8c8"/>
<rect x="1171.6" y="581.3" width="3.7" height="42.7" fill="#c8c8c8"/>
<rect x="1150.2" y="725.8" width="32.1" height="42.8" fill="#dadada"/>
<rect x="1184.8" y="679.4" width="8.4" height="49.7" fill="#d9d9d9"/>
<rect x="797.7" y="665.2" width="12.7" height="23.3" fill="#e0e0e0"/>
<rect x="882.6" y="618.0" width="29.1" height="24.6" fill="#c0c0c0"/>
<rect x="999.3" y="652.2" width="13.7" height="26.0" fill="#c9c9c9"/>
<rect x="959.7" y="729.7" width="18.3" height="26.4" fill="#dadada"/>
<rect x="878.5" y="606.9" width="24.6" height="38.6" fill="#bababa"/>
<rect x="1154.9" y="686.0" width="8.1" height="39.0" fill="#b4b4b4"/>
<rect x="1003.8" y="604.0" width="7.8" height="39.3" fill="#e0e0e0"/>
<rect x="1162.1" y="702.1" width="30.9" height="48.2" fill="#dcdcdc"/>
<rect x="892.9" y="683.9" width="37.9" height="10.5" fill="#cccccc"/>
<rect x="1090.9" y="761.9" width="8.6" height="15.8" fill="#c3c3c3"/>
<rect x="1121.6" y="610.2" width="37.5" height="44.1" fill="#bebebe"/>
<rect x="1101.4" y="599.6" width="27.6" height="41.2" fill="#cecece"/>
<rect x="773.2" y="675.3" width="3.9" height="17.6" fill="#afafaf"/>
<rect x="1092.3" y="638.9" width="27.4" height="22.2" fill="#dfdfdf"/>
<rect x="971.3" y="679.1" width="7.4" height="6.8" fill="#d7d7d7"/>
<rect x="859.5" y="663.5" width="4.0" height="11.5" fill="#d6d6d6"/>
<rect x="913.8" y="725.7" width="27.6" height="14.1" fill="#c7c7c7"/>
<rect x="760.8" y="663.9" width="7.0" height="19.9" fill="#b5b5b5"/>
<rect x="1127.0" y="595.4" width="14.1" height="18.9" fill="#adadad"/>
<rect x="942.4" y="748.4" width="7.9" height="23.1" fill="#d1d1d1"/>
<rect x="989.5" y="742.2" width="12.9" height="9.2" fill="#b5b5b5"/>
<rect x="1150.9" y="755.7" width="31.3" height="20.1" fill="#b2b2b2"/>
<rect x="911.6" y="669.7" width="32.8" height="30.8" fill="#dbdbdb"/>
<rect x="962.3" y="584.3" width="20.8" height="29.5" fill="#d2d2d2"/>
<rect x="753.2" y="670.1" width="6.9" height="45.3" fill="#b6b6b6"/>
<rect x="1064.9" y="720.7" width="28.3" height="32.4" fill="#dfdfdf"/>
<rect x="964.5" y="756.5" width="7.3" height="13.8" fill="#bebebe"/>
<rect x="888.6" y="593.9" width="10.7" height="27.6" fill="#d5d5d5"/>
<rect x="794.9" y="634.5" width="19.9" height="42.6" fill="#afafaf"/>
<rect x="1001.8" y="589.1" width="34.3" height="24.0" fill="#c1c1c1"/>
<rect x="852.2" y="745.3" width="17.4" height="36.1" fill="#bababa"/>
<rect x="896.9" y="590.2" width="22.0" height="25.1" fill="#aaaaaa"/>
<rect x="1003.7" y="600.7" width="36.8" height="49.0" fill="#b3b3b3"/>
<rect x="898.8" y="636.3" width="14.8" height="4.6" fill="#bababa"/>
<rect x="1165.7" y="633.6" width="34.0" height="29.3" fill="#acacac"/>
<rect x="1092.2" y="642.0" width="31.2" height="37.2" fill="#d6d6d6"/>
<rect x="1057.0" y="674.6" width="6.7" height="36.9" fill="#cacaca"/>
<rect x="954.3" y="689.9" width="20.2" height="23.2" fill="#d7d7d7"/>
<rect x="919.4" y="610.0" width="15.4" height="29.2" fill="#cfcfcf"/>
<rect x="772.1" y="607.0" width="3.2" height="44.3" fill="#d2d2d2"/>
<rect x="960.4" y="754.1" width="19.1" height="17.1" fill="#cccccc"/>
<rect x="855.9" y="594.8" width="16.4" height="47.6" fill="#d1d1d1"/>
<rect x="915.6" y="691.5" width="32.7" height="40.4" fill="#b4b4b4"/>
<rect x="1122.0" y="728.1" width="12.9" height="47.3" fill="#c7c7c7"/>
<rect x="917.1" y="750.6" width="29.3" height="20.0" fill="#d2d2d2"/>
<rect x="920.3" y="757.9" width="37.8" height="10.1" fill="#dcdcdc"/>
<rect x="860.1" y="693.8" width="33.3" height="44.6" fill="#aeaeae"/>
<rect x="936.2" y="619.0" width="20.0" height="3.6" fill="#bfbfbf"/>
<rect x="1122.4" y="738.0" width="27.8" height="34.8" fill="#b9b9b9"/>
<rect x="860.3" y="732.9" width="15.3" height="22.7" fill="#d4d4d4"/>
<rect x="873.9" y="627.3" width="27.6" height="33.5" fill="#d3d3d3"/>
<rect x="814.2" y="612.2" width="6.4" height="49.6" fill="#d3d3d3"/>
<rect x="1138.2" y="678.8" width="36.7" height="10.3" fill="#afafaf"/>
<rect x="1026.4" y="699.4" width="23.2" height="13.9" fill="#d7d7d7"/>
<rect x="1028.6" y="697.1" width="37.0" height="43.5" fill="#d9d9d9"/>
<rect x="1141.3" y="750.8" width="34.0" height="26.3" fill="#b3b3b3"/>
<rect x="989.6" y="652.7" width="10.8" height="31.9" fill="#c4c4c4"/>
<rect x="1010.7" y="716.5" width="10.7" height="22.6" fill="#d0d0d0"/>
<rect x="964.0" y="727.7" width="6.8" height="12.9" fill="#b7b7b7"/>
<rect x="877.3" y="741.8" width="30.3" height="13.8" fill="#b3b3b3"/>
<rect x="760.7" y="662.3" width="34.1" height="28.9" fill="#c6c6c6"/>
<rect x="964.7" y="666.9" width="7.6" height="20.5" fill="#dcdcdc"/>
<rect x="876.6" y="698.4" width="17.3" height="45.1" fill="#b1b1b1"/>
<rect x="1101.9" y="588.6" width="24.6" height="38.1" fill="#d2d2d2"/>
<rect x="884.4" y="712.8" width="8.7" height="48.4" fill="#b1b1b1"/>
<rect x="840.7" y="740.8" width="39.5" height="28.3" fill="#d4d4d4"/>
<rect x="847.3" y="695.1" width="29.8" height="23.1" fill="#d8d8d8"/>
<rect x="776.2" y="657.5" width="30.3" height="36.4" fill="#b8b8b8"/>
<rect x="1006.3" y="580.5" width="22.8" height="34.4" fill="#b9b9b9"/>
<rect x="874.4" y="614.8" width="13.6" height="22.8" fill="#b4b4b4"/>
<rect x="842.9" y="733.3" width="21.2" height="44.5" fill="#cdcdcd"/>
<rect x="1061.6" y="725.9" width="36.2" height="44.6" fill="#b3b3b3"/>
<rect x="820.9" y="630.6" width="26.4" height="19.9" fill="#cccccc"/>
<rect x="1124.0" y="739.9" width="7.9" height="7.9" fill="#aaaaaa"/>
<rect x="984.1" y="777.7" width="10.4" height="3.2" fill="#b1b1b1"/>
<rect x="1060.0" y="686.3" width="24.4" height="23.7" fill="#d1d1d1"/>
<rect x="1098.0" y="596.8" width="6.9" height="49.0" fill="#a9a9a9"/>
<rect x="908.6" y="732.8" width="33.0" height="39.5" fill="#cbcbcb"/>
<rect x="957.5" y="655.5" width="22.0" height="4.9" fill="#c0c0c0"/>
<rect x="910.4" y="595.6" width="15.8" height="42.9" fill="#b6b6b6"/>
<rect x="895.8" y="734.8" width="33.9" height="27.3" fill="#dfdfdf"/>
<rect x="888.7" y="601.8" width="18.4" height="9.5" fill="#d9d9d9"/>
<rect x="1023.0" y="737.5" width="29.3" height="18.1" fill="#e0e0e0"/>
<rect x="1035.1" y="659.5" width="9.4" height="24.6" fill="#c6c6c6"/>
<rect x="996.5" y="651.8" width="19.9" height="22.3" fill="#b9b9b9"/>
<rect x="816.8" y="657.7" width="18.4" height="39.7" fill="#b5b5b5"/>
<rect x="893.6" y="773.4" width="37.3" height="3.4" fill="#d0d0d0"/>
<rect x="969.9" y="595.6" width="11.7" height="37.6" fill="#aeaeae"/>
<rect x="932.5" y="762.1" width="4.6" height="16.4" fill="#dadada"/>
<rect x="1014.8" y="717.9" width="23.4" height="34.4" fill="#bdbdbd"/>
<rect x="846.1" y="630.9" width="27.0" height="13.2" fill="#bfbfbf"/>
<rect x="767.5" y="634.6" width="14.0" height="31.1" fill="#cacaca"/>
<rect x="929.9" y="682.3" width="32.4" height="40.0" fill="#a9a9a9"/>
<rect x="1077.2" y="598.0" width="37.2" height="34.3" fill="#bfbfbf"/>
<rect x="1081.4" y="605.6" width="14.1" height="42.6" fill="#dedede"/>
<rect x="996.4" y="665.3" width="10.6" height="9.3" fill="#dddddd"/>
<rect x="1067.7" y="630.3" width="4.7" height="45.6" fill="#b0b0b0"/>
<rect x="873.2" y="596.5" width="29.1" height="4.5" fill="#bcbcbc"/>
<rect x="975.9" y="684.0" width="39.7" height="42.7" fill="#cbcbcb"/>
<rect x="1152.8" y="733.1" width="32.1" height="42.0" fill="#bbbbbb"/>
<rect x="796.7" y="703.2" width="38.1" height="14.8" fill="#ababab"/>
<rect x="1082.5" y="619.9" width="35.4" height="49.0" fill="#c6c6c6"/>
<rect x="1116.3" y="615.3" width="5.0" height="24.0" fill="#b1b1b1"/>
<rect x="894.7" y="639.7" width="16.1" height="19.5" fill="#acacac"/>
<rect x="1008.9" y="637.9" width="26.8" height="26.1" fill="#dbdbdb"/>
<rect x="910.4" y="729.1" width="31.6" height="29.1" fill="#c0c0c0"/>
<rect x="774.5" y="666.5" width="18.4" height="29.7" fill="#adadad"/>
<rect x="800.3" y="614.6" width="37.0" height="40.2" fill="#cdcdcd"/>
<rect x="924.0" y="621.0" width="23.1" height="22.1" fill="#bfbfbf"/>
<rect x="854.9" y="585.3" width="4.9" height="6.1" fill="#b5b5b5"/>
<rect x="1010.5" y="762.7" width="10.4" height="19.7" fill="#cfcfcf"/>
<rect x="1067.3" y="690.3" width="33.3" height="29.3" fill="#a8a8a8"/>
<rect x="1047.3" y="650.9" width="16.6" height="9.1" fill="#c0c0c0"/>
<rect x="872.5" y="601.7" width="8.7" height="48.6" fill="#bdbdbd"/>
<rect x="1053.1" y="662.7" width="14.7" height="11.9" fill="#a9a9a9"/>
<rect x="1107.4" y="772.7" width="38.1" height="8.7" fill="#c7c7c7"/>
<rect x="834.2" y="739.1" width="31.4" height="3.3" fill="#cfcfcf"/>
<rect x="783.6" y="729.2" width="7.4" height="15.6" fill="#cccccc"/>
<rect x="967.1" y="625.6" width="15.9" height="29.6" fill="#c6c6c6"/>
<rect x="1177.7" y="607.5" width="3.3" height="36.8" fill="#c0c0c0"/>
<rect x="1078.5" y="635.6" width="25.0" height="35.2" fill="#d2d2d2"/>
<rect x="970.1" y="674.3" width="16.3" height="39.6" fill="#dadada"/>
<rect x="902.6" y="590.9" width="9.6" height="26.4" fill="#d4d4d4"/>
<rect x="809.7" y="730.5" width="10.3" height="10.8" fill="#cfcfcf"/>
<rect x="905.1" y="667.8" width="15.1" height="26.0" fill="#aaaaaa"/>
<rect x="889.7" y="689.3" width="13.6" height="48.0" fill="#cbcbcb"/>
<rect x="1049.0" y="678.9" width="20.2" height="32.2" fill="#d4d4d4"/>
<rect x="950.5" y="729.9" width="14.1" height="13.8" fill="#c4c4c4"/>
<rect x="1149.9" y="609.9" width="3.2" height="24.8" fill="#c8c8c8"/>
<rect x="1083.1" y="637.7" width="13.5" height="28.5" fill="#b2b2b2"/>
<rect x="761.4" y="627.0" width="19.6" height="49.2" fill="#b4b4b4"/>
<rect x="991.2" y="676.4" width="20.5" height="40.0" fill="#b5b5b5"/>
<rect x="892.0" y="583.2" width="22.7" height="38.2" fill="#dedede"/>
<rect x="1011.6" y="633.0" width="21.7" height="48.4" fill="#b2b2b2"/>
<rect x="987.3" y="583.0" width="37.5" height="38.8" fill="#b9b9b9"/>
<rect x="953.7" y="672.5" width="18.6" height="7.3" fill="#b3b3b3"/>
<rect x="1123.4" y="708.4" width="22.4" height="47.7" fill="#b9b9b9"/>
<rect x="1159.1" y="617.8" width="11.6" height="25.5" fill="#acacac"/>
<rect x="962.3" y="777.1" width="34.5" height="3.5" fill="#c8c8c8"/>
<rect x="1085.1" y="706.8" width="3.3" height="17.3" fill="#adadad"/>
<rect x="820.8" y="603.3" width="20.1" height="25.6" fill="#b9b9b9"/>
<rect x="891.4" y="719.4" width="17.8" height="47.8" fill="#a9a9a9"/>
<rect x="775.8" y="636.4" width="20.3" height="10.1" fill="#cfcfcf"/>
<rect x="1058.9" y="712.0" width="25.5" height="16.5" fill="#d8d8d8"/>
<rect x="1079.8" y="767.9" width="28.5" height="7.2" fill="#d9d9d9"/>
<rect x="1116.2" y="676.3" width="27.3" height="8.9" fill="#d1d1d1"/>
<rect x="759.8" y="758.9" width="37.3" height="13.0" fill="#dadada"/>
<rect x="1130.8" y="690.3" width="6.2" height="24.5" fill="#c5c5c5"/>
<rect x="902.5" y="611.3" width="39.9" height="4.4" fill="#dedede"/>
<rect x="1119.4" y="752.5" width="24.6" height="15.3" fill="#c3c3c3"/>
<rect x="1034.6" y="769.6" width="38.2" height="13.1" fill="#b5b5b5"/>
<rect x="1114.0" y="623.3" width="29.0" height="42.0" fill="#bebebe"/>
<rect x="1131.7" y="632.6" width="7.2" height="26.8" fill="#d9d9d9"/>
<rect x="1039.4" y="725.2" width="12.8" height="25.1" fill="#dddddd"/>
<rect x="1079.4" y="725.4" width="16.2" height="21.4" fill="#d4d4d4"/>
<rect x="1084.0" y="675.0" width="12.9" height="43.6" fill="#bbbbbb"/>
<rect x="1060.9" y="662.7" width="29.8" height="6.3" fill="#d3d3d3"/>
<rect x="884.8" y="672.6" width="24.8" height="19.8" fill="#b0b0b0"/>
<rect x="835.4" y="737.2" width="12.6" height="33.0" fill="#c6c6c6"/>
<rect x="870.3" y="656.4" width="14.9" height="11.3" fill="#b0b0b0"/>
<rect x="1158.2" y="722.1" width="14.4" height="48.3" fill="#dddddd"/>
<rect x="1019.5" y="643.8" width="29.0" height="48.4" fill="#b1b1b1"/>
<rect x="1146.8" y="731.6" width="27.1" height="48.3" fill="#c1c1c1"/>
<rect x="1054.5" y="711.7" width="28.3" height="50.0" fill="#d9d9d9"/>
<rect x="900.7" y="712.0" width="23.6" height="44.1" fill="#c0c0c0"/>
<rect x="1098.2" y="683.1" width="11.0" height="41.9" fill="#c2c2c2"/>
<rect x="1040.9" y="688.1" width="12.7" height="42.6" fill="#d6d6d6"/>
<rect x="1130.8" y="602.8" width="4.0" height="40.4" fill="#ababab"/>
<rect x="971.7" y="755.5" width="35.0" height="15.3" fill="#b3b3b3"/>
<rect x="1124.1" y="750.6" width="21.3" height="5.8" fill="#c0c0c0"/>
<rect x="1087.0" y="736.8" width="32.3" height="10.1" fill="#d1d1d1"/>
<rect x="1045.2" y="735.7" width="4.2" height="17.0" fill="#c4c4c4"/>
<rect x="995.6" y="631.1" width="28.4" height="24.4" fill="#b3b3b3"/>
<rect x="883.3" y="631.6" width="35.2" height="29.0" fill="#bbbbbb"/>
<rect x="942.9" y="647.8" width="22.2" height="10.4" fill="#bebebe"/>
<rect x="1133.5" y="640.3" width="16.5" height="5.1" fill="#d2d2d2"/>
<rect x="893.7" y="703.9" width="38.0" height="20.9" fill="#dddddd"/>
<rect x="796.2" y="633.3" width="22.7" height="33.4" fill="#c1c1c1"/>
<rect x="1062.0" y="733.4" width="27.2" height="20.9" fill="#b6b6b6"/>
<rect x="887.0" y="693.4" width="22.5" height="7.7" fill="#d6d6d6"/>
<rect x="1040.6" y="714.4" width="10.1" height="40.6" fill="#acacac"/>
<rect x="1081.5" y="711.7" width="22.1" height="9.8" fill="#b5b5b5"/>
<rect x="910.2" y="614.4" width="39.6" height="45.1" fill="#d3d3d3"/>
<rect x="870.7" y="717.0" width="15.5" height="43.5" fill="#bcbcbc"/>
<rect x="1013.7" y="591.0" width="24.8" height="17.8" fill="#bcbcbc"/>
<rect x="1098.0" y="665.5" width="16.1" height="30.8" fill="#dddddd"/>
<rect x="925.3" y="615.4" width="8.7" height="37.5" fill="#bbbbbb"/>
<rect x="962.2" y="721.0" width="16.8" height="25.9" fill="#d4d4d4"/>
<rect x="1008.0" y="585.7" width="17.8" height="39.1" fill="#d6d6d6"/>
<rect x="959.8" y="735.4" width="35.7" height="33.1" fill="#dfdfdf"/>
<rect x="969.7" y="620.2" width="24.5" height="5.6" fill="#c2c2c2"/>
<rect x="777.6" y="674.3" width="25.3" height="13.4" fill="#cecece"/>
<rect x="1176.9" y="738.3" width="22.4" height="41.3" fill="#bbbbbb"/>
<rect x="844.0" y="743.4" width="19.6" height="30.2" fill="#d3d3d3"/>
<rect x="956.5" y="675.3" width="38.7" height="21.1" fill="#aeaeae"/>
<rect x="1155.1" y="590.7" width="12.5" height="33.9" fill="#bbbbbb"/>
<rect x="862.9" y="611.2" width="21.9" height="22.3" fill="#b9b9b9"/>
<rect x="778.2" y="745.2" width="5.1" height="16.2" fill="#cccccc"/>
<rect x="1040.9" y="643.6" width="21.4" height="18.1" fill="#d7d7d7"/>
<rect x="965.0" y="649.0" width="34.3" height="14.0" fill="#dfdfdf"/>
<rect x="847.9" y="767.6" width="11.7" height="4.8" fill="#cbcbcb"/>
<rect x="1046.0" y="656.3" width="30.1" height="26.0" fill="#c5c5c5"/>
<rect x="1148.1" y="684.5" width="27.1" height="40.3" fill="#d6d6d6"/>
<rect x="1152.4" y="592.4" width="9.0" height="12.6" fill="#c2c2c2"/>
<rect x="882.7" y="738.8" width="12.0" height="28.6" fill="#aeaeae"/>
<rect x="918.8" y="705.7" width="33.5" height="47.9" fill="#cbcbcb"/>
<rect x="805.5" y="634.6" width="11.3" height="27.4" fill="#acacac"/>
<rect x="974.2" y="717.9" width="9.7" height="44.6" fill="#c2c2c2"/>
<rect x="907.3" y="753.5" width="14.4" height="26.0" fill="#aaaaaa"/>
<rect x="973.4" y="654.1" width="10.3" height="13.3" fill="#afafaf"/>
<rect x="981.8" y="634.0" width="25.6" height="44.5" fill="#c4c4c4"/>
<rect x="883.1" y="656.1" width="12.1" height="5.0" fill="#d3d3d3"/>
<rect x="801.1" y="630.1" width="18.1" height="44.1" fill="#b2b2b2"/>
<rect x="985.2" y="677.6" width="32.2" height="10.8" fill="#d1d1d1"/>
<rect x="1155.4" y="670.7" width="22.5" height="16.5" fill="#b1b1b1"/>
<rect x="790.8" y="587.2" width="23.1" height="27.2" fill="#c4c4c4"/>
<rect x="1020.6" y="627.7" width="29.5" height="19.9" fill="#d1d1d1"/>
<rect x="1202" y="575" width="33" height="50" fill="#d2d2d2"/>
<path d="M1213 580h3v3h-3zM1227 580h3v3h-3zM1206 588h3v3h-3zM1213 588h3v3h-3zM1220 588h3v3h-3zM1213 596h3v3h-3zM1220 596h3v3h-3zM1206 604h3v3h-3zM1213 604h3v3h-3zM1227 604h3v3h-3zM1206 612h3v3h-3zM1213 612h3v3h-3zM1227 612h3v3h-3zM1206 620h3v3h-3z" fill="#b0b0b0"/>
<rect x="1235" y="575" width="46" height="45" fill="#d4d4d4"/>
<path d="M1238 579h3v3h-3zM1244 579h3v3h-3zM1250 579h3v3h-3zM1262 579h3v3h-3zM1268 579h3v3h-3zM1274 579h3v3h-3zM1238 586h3v3h-3zM1250 586h3v3h-3zM1256 586h3v3h-3zM1262 586h3v3h-3zM1268 586h3v3h-3zM1274 586h3v3h-3zM1238 593h3v3h-3zM1250 593h3v3h-3zM1256 593h3v3h-3zM1262 593h3v3h-3zM1274 593h3v3h-3zM1238 600h3v3h-3zM1244 600h3v3h-3zM1250 600h3v3h-3zM1262 600h3v3h-3zM1268 600h3v3h-3zM1274 600h3v3h-3zM1238 607h3v3h-3zM1244 607h3v3h-3zM1256 607h3v3h-3zM1262 607h3v3h-3zM1268 607h3v3h-3zM1274 607h3v3h-3zM1238 614h3v3h-3zM1244 614h3v3h-3zM1250 614h3v3h-3zM1256 614h3v3h-3zM1262 614h3v3h-3zM1268 614h3v3h-3zM1274 614h3v3h-3z" fill="#a8a8a8"/>
<rect x="1202" y="620" width="79" height="6" fill="#e0e0e0"/>
<rect x="1202" y="626" width="79" height="158" fill="#d6d6d6"/>
<path d="M1205 631h3v4h-3zM1211 631h3v4h-3zM1217 631h3v4h-3zM1223 631h3v4h-3zM1229 631h3v4h-3zM1235 631h3v4h-3zM1247 631h3v4h-3zM1253 631h3v4h-3zM1259 631h3v4h-3zM1271 631h3v4h-3zM1205 640h3v4h-3zM1211 640h3v4h-3zM1217 640h3v4h-3zM1223 640h3v4h-3zM1229 640h3v4h-3zM1235 640h3v4h-3zM1241 640h3v4h-3zM1247 640h3v4h-3zM1253 640h3v4h-3zM1259 640h3v4h-3zM1265 640h3v4h-3zM1205 649h3v4h-3zM1211 649h3v4h-3zM1217 649h3v4h-3zM1223 649h3v4h-3zM1229 649h3v4h-3zM1241 649h3v4h-3zM1247 649h3v4h-3zM1253 649h3v4h-3zM1259 649h3v4h-3zM1265 649h3v4h-3zM1271 649h3v4h-3zM1277 649h3v4h-3zM1205 658h3v4h-3zM1211 658h3v4h-3zM1217 658h3v4h-3zM1223 658h3v4h-3zM1229 658h3v4h-3zM1241 658h3v4h-3zM1247 658h3v4h-3zM1253 658h3v4h-3zM1259 658h3v4h-3zM1265 658h3v4h-3zM1271 658h3v4h-3zM1277 658h3v4h-3zM1205 667h3v4h-3zM1211 667h3v4h-3zM1223 667h3v4h-3zM1229 667h3v4h-3zM1235 667h3v4h-3zM1241 667h3v4h-3zM1247 667h3v4h-3zM1253 667h3v4h-3zM1265 667h3v4h-3zM1271 667h3v4h-3zM1205 676h3v4h-3zM1211 676h3v4h-3zM1217 676h3v4h-3zM1223 676h3v4h-3zM1229 676h3v4h-3zM1235 676h3v4h-3zM1241 676h3v4h-3zM1247 676h3v4h-3zM1253 676h3v4h-3zM1259 676h3v4h-3zM1277 676h3v4h-3zM1205 685h3v4h-3zM1217 685h3v4h-3zM1223 685h3v4h-3zM1229 685h3v4h-3zM1235 685h3v4h-3zM1241 685h3v4h-3zM1247 685h3v4h-3zM1253 685h3v4h-3zM1259 685h3v4h-3zM1265 685h3v4h-3zM1271 685h3v4h-3zM1277 685h3v4h-3zM1205 694h3v4h-3zM1217 694h3v4h-3zM1223 694h3v4h-3zM1229 694h3v4h-3zM1247 694h3v4h-3zM1259 694h3v4h-3zM1265 694h3v4h-3zM1271 694h3v4h-3zM1277 694h3v4h-3zM1205 703h3v4h-3zM1211 703h3v4h-3zM1217 703h3v4h-3zM1223 703h3v4h-3zM1229 703h3v4h-3zM1247 703h3v4h-3zM1253 703h3v4h-3zM1259 703h3v4h-3zM1265 703h3v4h-3zM1271 703h3v4h-3zM1277 703h3v4h-3zM1205 712h3v4h-3zM1211 712h3v4h-3zM1217 712h3v4h-3zM1229 712h3v4h-3zM1235 712h3v4h-3zM1241 712h3v4h-3zM1247 712h3v4h-3zM1253 712h3v4h-3zM1259 712h3v4h-3zM1265 712h3v4h-3zM1271 712h3v4h-3zM1277 712h3v4h-3zM1205 721h3v4h-3zM1211 721h3v4h-3zM1217 721h3v4h-3zM1229 721h3v4h-3zM1235 721h3v4h-3zM1241 721h3v4h-3zM1259 721h3v4h-3zM1271 721h3v4h-3zM1205 730h3v4h-3zM1211 730h3v4h-3zM1217 730h3v4h-3zM1223 730h3v4h-3zM1235 730h3v4h-3zM1253 730h3v4h-3zM1259 730h3v4h-3zM1265 730h3v4h-3zM1271 730h3v4h-3zM1277 730h3v4h-3zM1205 739h3v4h-3zM1211 739h3v4h-3zM1217 739h3v4h-3zM1223 739h3v4h-3zM1229 739h3v4h-3zM1235 739h3v4h-3zM1241 739h3v4h-3zM1247 739h3v4h-3zM1253 739h3v4h-3zM1259 739h3v4h-3zM1265 739h3v4h-3zM1205 748h3v4h-3zM1211 748h3v4h-3zM1217 748h3v4h-3zM1229 748h3v4h-3zM1235 748h3v4h-3zM1241 748h3v4h-3zM1247 748h3v4h-3zM1259 748h3v4h-3zM1265 748h3v4h-3zM1271 748h3v4h-3zM1277 748h3v4h-3zM1205 757h3v4h-3zM1211 757h3v4h-3zM1217 757h3v4h-3zM1223 757h3v4h-3zM1229 757h3v4h-3zM1235 757h3v4h-3zM1241 757h3v4h-3zM1247 757h3v4h-3zM1253 757h3v4h-3zM1259 757h3v4h-3zM1265 757h3v4h-3zM1271 757h3v4h-3zM1277 757h3v4h-3zM1205 766h3v4h-3zM1211 766h3v4h-3zM1217 766h3v4h-3zM1223 766h3v4h-3zM1229 766h3v4h-3zM1241 766h3v4h-3zM1247 766h3v4h-3zM1253 766h3v4h-3zM1259 766h3v4h-3zM1265 766h3v4h-3zM1271 766h3v4h-3zM1277 766h3v4h-3zM1205 775h3v4h-3zM1217 775h3v4h-3zM1223 775h3v4h-3zM1229 775h3v4h-3zM1235 775h3v4h-3zM1241 775h3v4h-3zM1247 775h3v4h-3zM1253 775h3v4h-3zM1259 775h3v4h-3zM1265 775h3v4h-3zM1271 775h3v4h-3zM1277 775h3v4h-3z" fill="#aaaaaa"/>
<rect x="1281" y="605" width="62" height="7" fill="#dedede"/>
<rect x="1281" y="612" width="62" height="172" fill="#d8d8d8"/>
<path d="M1283 616h3v3h-3zM1288 616h3v3h-3zM1293 616h3v3h-3zM1298 616h3v3h-3zM1303 616h3v3h-3zM1313 616h3v3h-3zM1318 616h3v3h-3zM1323 616h3v3h-3zM1328 616h3v3h-3zM1333 616h3v3h-3zM1338 616h3v3h-3zM1283 623h3v3h-3zM1288 623h3v3h-3zM1293 623h3v3h-3zM1298 623h3v3h-3zM1303 623h3v3h-3zM1308 623h3v3h-3zM1313 623h3v3h-3zM1318 623h3v3h-3zM1323 623h3v3h-3zM1328 623h3v3h-3zM1333 623h3v3h-3zM1338 623h3v3h-3zM1288 630h3v3h-3zM1293 630h3v3h-3zM1298 630h3v3h-3zM1303 630h3v3h-3zM1308 630h3v3h-3zM1313 630h3v3h-3zM1318 630h3v3h-3zM1323 630h3v3h-3zM1328 630h3v3h-3zM1333 630h3v3h-3zM1338 630h3v3h-3zM1283 637h3v3h-3zM1288 637h3v3h-3zM1293 637h3v3h-3zM1303 637h3v3h-3zM1308 637h3v3h-3zM1313 637h3v3h-3zM1318 637h3v3h-3zM1323 637h3v3h-3zM1328 637h3v3h-3zM1333 637h3v3h-3zM1338 637h3v3h-3zM1288 644h3v3h-3zM1293 644h3v3h-3zM1298 644h3v3h-3zM1303 644h3v3h-3zM1308 644h3v3h-3zM1318 644h3v3h-3zM1323 644h3v3h-3zM1328 644h3v3h-3zM1333 644h3v3h-3zM1338 644h3v3h-3zM1283 651h3v3h-3zM1288 651h3v3h-3zM1293 651h3v3h-3zM1298 651h3v3h-3zM1303 651h3v3h-3zM1308 651h3v3h-3zM1313 651h3v3h-3zM1318 651h3v3h-3zM1323 651h3v3h-3zM1328 651h3v3h-3zM1333 651h3v3h-3zM1338 651h3v3h-3zM1283 658h3v3h-3zM1288 658h3v3h-3zM1293 658h3v3h-3zM1298 658h3v3h-3zM1303 658h3v3h-3zM1308 658h3v3h-3zM1313 658h3v3h-3zM1318 658h3v3h-3zM1323 658h3v3h-3zM1328 658h3v3h-3zM1333 658h3v3h-3zM1338 658h3v3h-3zM1283 665h3v3h-3zM1288 665h3v3h-3zM1293 665h3v3h-3zM1298 665h3v3h-3zM1303 665h3v3h-3zM1308 665h3v3h-3zM1313 665h3v3h-3zM1318 665h3v3h-3zM1323 665h3v3h-3zM1328 665h3v3h-3zM1338 665h3v3h-3zM1283 672h3v3h-3zM1293 672h3v3h-3zM1298 672h3v3h-3zM1308 672h3v3h-3zM1313 672h3v3h-3zM1318 672h3v3h-3zM1323 672h3v3h-3zM1328 672h3v3h-3zM1333 672h3v3h-3zM1338 672h3v3h-3zM1283 679h3v3h-3zM1288 679h3v3h-3zM1298 679h3v3h-3zM1303 679h3v3h-3zM1308 679h3v3h-3zM1318 679h3v3h-3zM1323 679h3v3h-3zM1328 679h3v3h-3zM1333 679h3v3h-3zM1338 679h3v3h-3zM1283 686h3v3h-3zM1288 686h3v3h-3zM1298 686h3v3h-3zM1303 686h3v3h-3zM1308 686h3v3h-3zM1313 686h3v3h-3zM1318 686h3v3h-3zM1328 686h3v3h-3zM1333 686h3v3h-3zM1338 686h3v3h-3zM1283 693h3v3h-3zM1288 693h3v3h-3zM1293 693h3v3h-3zM1298 693h3v3h-3zM1303 693h3v3h-3zM1313 693h3v3h-3zM1318 693h3v3h-3zM1323 693h3v3h-3zM1328 693h3v3h-3zM1333 693h3v3h-3zM1338 693h3v3h-3zM1283 700h3v3h-3zM1288 700h3v3h-3zM1293 700h3v3h-3zM1298 700h3v3h-3zM1303 700h3v3h-3zM1308 700h3v3h-3zM1313 700h3v3h-3zM1318 700h3v3h-3zM1323 700h3v3h-3zM1328 700h3v3h-3zM1333 700h3v3h-3zM1283 707h3v3h-3zM1288 707h3v3h-3zM1293 707h3v3h-3zM1298 707h3v3h-3zM1303 707h3v3h-3zM1308 707h3v3h-3zM1313 707h3v3h-3zM1318 707h3v3h-3zM1323 707h3v3h-3zM1333 707h3v3h-3zM1338 707h3v3h-3zM1283 714h3v3h-3zM1288 714h3v3h-3zM1293 714h3v3h-3zM1298 714h3v3h-3zM1303 714h3v3h-3zM1308 714h3v3h-3zM1313 714h3v3h-3zM1318 714h3v3h-3zM1323 714h3v3h-3zM1328 714h3v3h-3zM1333 714h3v3h-3zM1338 714h3v3h-3zM1283 721h3v3h-3zM1288 721h3v3h-3zM1293 721h3v3h-3zM1298 721h3v3h-3zM1303 721h3v3h-3zM1308 721h3v3h-3zM1313 721h3v3h-3zM1318 721h3v3h-3zM1323 721h3v3h-3zM1328 721h3v3h-3zM1333 721h3v3h-3zM1338 721h3v3h-3zM1283 728h3v3h-3zM1288 728h3v3h-3zM1293 728h3v3h-3zM1298 728h3v3h-3zM1303 728h3v3h-3zM1308 728h3v3h-3zM1318 728h3v3h-3zM1323 728h3v3h-3zM1328 728h3v3h-3zM1333 728h3v3h-3zM1338 728h3v3h-3zM1283 735h3v3h-3zM1288 735h3v3h-3zM1293 735h3v3h-3zM1298 735h3v3h-3zM1303 735h3v3h-3zM1313 735h3v3h-3zM1318 735h3v3h-3zM1323 735h3v3h-3zM1328 735h3v3h-3zM1333 735h3v3h-3zM1338 735h3v3h-3zM1283 742h3v3h-3zM1288 742h3v3h-3zM1293 742h3v3h-3zM1298 742h3v3h-3zM1303 742h3v3h-3zM1308 742h3v3h-3zM1313 742h3v3h-3zM1318 742h3v3h-3zM1323 742h3v3h-3zM1328 742h3v3h-3zM1333 742h3v3h-3zM1338 742h3v3h-3zM1283 749h3v3h-3zM1288 749h3v3h-3zM1293 749h3v3h-3zM1298 749h3v3h-3zM1308 749h3v3h-3zM1313 749h3v3h-3zM1318 749h3v3h-3zM1323 749h3v3h-3zM1328 749h3v3h-3zM1333 749h3v3h-3zM1338 749h3v3h-3zM1283 756h3v3h-3zM1288 756h3v3h-3zM1293 756h3v3h-3zM1303 756h3v3h-3zM1308 756h3v3h-3zM1318 756h3v3h-3zM1328 756h3v3h-3zM1333 756h3v3h-3zM1338 756h3v3h-3zM1283 763h3v3h-3zM1288 763h3v3h-3zM1298 763h3v3h-3zM1303 763h3v3h-3zM1308 763h3v3h-3zM1313 763h3v3h-3zM1318 763h3v3h-3zM1323 763h3v3h-3zM1328 763h3v3h-3zM1333 763h3v3h-3zM1338 763h3v3h-3zM1283 770h3v3h-3zM1288 770h3v3h-3zM1293 770h3v3h-3zM1298 770h3v3h-3zM1303 770h3v3h-3zM1308 770h3v3h-3zM1313 770h3v3h-3zM1318 770h3v3h-3zM1323 770h3v3h-3zM1328 770h3v3h-3zM1333 770h3v3h-3zM1338 770h3v3h-3zM1283 777h3v3h-3zM1288 777h3v3h-3zM1293 777h3v3h-3zM1313 777h3v3h-3zM1318 777h3v3h-3zM1323 777h3v3h-3zM1333 777h3v3h-3zM1338 777h3v3h-3z" fill="#a0a0a0"/>
<rect x="1314" y="575" width="30" height="30" fill="#cccccc"/>
<path d="M1334 595h4v4h-4z" fill="#b0b0b0"/>
<rect x="1281" y="575" width="33" height="30" fill="#b4b4b4"/>
<path d="M1284 579h3v3h-3zM1296 579h3v3h-3zM1290 586h3v3h-3zM1296 586h3v3h-3zM1302 586h3v3h-3zM1290 593h3v3h-3zM1296 593h3v3h-3zM1302 593h3v3h-3zM1290 600h3v3h-3zM1302 600h3v3h-3zM1308 600h3v3h-3z" fill="#909090"/>
<rect x="1344" y="575" width="25" height="209" fill="#aeaeae"/>
<path d="M1347 579h2v3h-2zM1352 579h2v3h-2zM1357 579h2v3h-2zM1362 579h2v3h-2zM1352 586h2v3h-2zM1357 586h2v3h-2zM1347 593h2v3h-2zM1352 593h2v3h-2zM1362 593h2v3h-2zM1352 600h2v3h-2zM1357 600h2v3h-2zM1362 600h2v3h-2zM1352 607h2v3h-2zM1347 614h2v3h-2zM1357 614h2v3h-2zM1362 614h2v3h-2zM1347 621h2v3h-2zM1357 621h2v3h-2zM1357 628h2v3h-2zM1362 628h2v3h-2zM1352 635h2v3h-2zM1357 635h2v3h-2zM1362 635h2v3h-2zM1362 642h2v3h-2zM1347 649h2v3h-2zM1357 649h2v3h-2zM1362 649h2v3h-2zM1347 656h2v3h-2zM1352 656h2v3h-2zM1362 656h2v3h-2zM1347 663h2v3h-2zM1352 663h2v3h-2zM1362 663h2v3h-2zM1352 677h2v3h-2zM1362 677h2v3h-2zM1347 684h2v3h-2zM1352 684h2v3h-2zM1347 691h2v3h-2zM1347 698h2v3h-2zM1357 698h2v3h-2zM1362 698h2v3h-2zM1357 705h2v3h-2zM1362 705h2v3h-2zM1347 712h2v3h-2zM1352 712h2v3h-2zM1357 712h2v3h-2zM1362 712h2v3h-2zM1347 719h2v3h-2zM1357 719h2v3h-2zM1352 726h2v3h-2zM1357 726h2v3h-2zM1362 726h2v3h-2zM1347 733h2v3h-2zM1352 733h2v3h-2zM1362 733h2v3h-2zM1347 740h2v3h-2zM1352 740h2v3h-2zM1347 747h2v3h-2zM1352 747h2v3h-2zM1357 747h2v3h-2zM1362 747h2v3h-2zM1347 754h2v3h-2zM1357 754h2v3h-2zM1362 754h2v3h-2zM1347 761h2v3h-2zM1357 761h2v3h-2zM1362 761h2v3h-2zM1347 768h2v3h-2zM1357 768h2v3h-2zM1362 768h2v3h-2zM1347 775h2v3h-2zM1352 775h2v3h-2zM1357 775h2v3h-2z" fill="#888888"/>
<rect x="1369" y="575" width="24" height="209" fill="#848484"/>
<path d="M1371 579h2v3h-2zM1375 579h2v3h-2zM1379 579h2v3h-2zM1387 579h2v3h-2zM1371 586h2v3h-2zM1379 586h2v3h-2zM1383 586h2v3h-2zM1387 586h2v3h-2zM1375 593h2v3h-2zM1379 593h2v3h-2zM1383 593h2v3h-2zM1387 593h2v3h-2zM1371 600h2v3h-2zM1379 600h2v3h-2zM1383 600h2v3h-2zM1387 600h2v3h-2zM1371 607h2v3h-2zM1375 607h2v3h-2zM1379 607h2v3h-2zM1383 607h2v3h-2zM1387 607h2v3h-2zM1371 614h2v3h-2zM1375 614h2v3h-2zM1383 614h2v3h-2zM1387 614h2v3h-2zM1371 621h2v3h-2zM1383 621h2v3h-2zM1387 621h2v3h-2zM1371 628h2v3h-2zM1375 628h2v3h-2zM1387 628h2v3h-2zM1375 635h2v3h-2zM1379 635h2v3h-2zM1383 635h2v3h-2zM1371 642h2v3h-2zM1375 642h2v3h-2zM1379 642h2v3h-2zM1383 642h2v3h-2zM1387 642h2v3h-2zM1371 649h2v3h-2zM1375 649h2v3h-2zM1387 649h2v3h-2zM1371 656h2v3h-2zM1375 656h2v3h-2zM1379 656h2v3h-2zM1387 656h2v3h-2zM1375 663h2v3h-2zM1379 663h2v3h-2zM1383 663h2v3h-2zM1387 663h2v3h-2zM1371 670h2v3h-2zM1375 670h2v3h-2zM1383 670h2v3h-2zM1387 670h2v3h-2zM1371 677h2v3h-2zM1375 677h2v3h-2zM1379 677h2v3h-2zM1383 677h2v3h-2zM1387 677h2v3h-2zM1371 684h2v3h-2zM1375 684h2v3h-2zM1379 684h2v3h-2zM1383 684h2v3h-2zM1387 684h2v3h-2zM1371 691h2v3h-2zM1375 691h2v3h-2zM1383 691h2v3h-2zM1371 698h2v3h-2zM1375 698h2v3h-2zM1379 698h2v3h-2zM1383 698h2v3h-2zM1387 698h2v3h-2zM1375 705h2v3h-2zM1379 705h2v3h-2zM1383 705h2v3h-2zM1387 705h2v3h-2zM1375 712h2v3h-2zM1383 712h2v3h-2zM1387 712h2v3h-2zM1375 719h2v3h-2zM1379 719h2v3h-2zM1387 719h2v3h-2zM1375 726h2v3h-2zM1379 726h2v3h-2zM1371 733h2v3h-2zM1375 733h2v3h-2zM1379 733h2v3h-2zM1383 733h2v3h-2zM1371 740h2v3h-2zM1379 740h2v3h-2zM1383 740h2v3h-2zM1387 740h2v3h-2zM1371 747h2v3h-2zM1375 747h2v3h-2zM1379 747h2v3h-2zM1383 747h2v3h-2zM1371 754h2v3h-2zM1375 754h2v3h-2zM1379 754h2v3h-2zM1383 754h2v3h-2zM1387 754h2v3h-2zM1371 761h2v3h-2zM1379 761h2v3h-2zM1383 761h2v3h-2zM1387 761h2v3h-2zM1375 768h2v3h-2zM1379 768h2v3h-2zM1383 768h2v3h-2zM1387 768h2v3h-2zM1371 775h2v3h-2zM1375 775h2v3h-2zM1379 775h2v3h-2zM1383 775h2v3h-2zM1387 775h2v3h-2z" fill="#5c5c5c"/>
<rect x="1393" y="575" width="44" height="209" fill="#989898"/>
<path d="M1399 579h2v3h-2zM1403 579h2v3h-2zM1407 579h2v3h-2zM1411 579h2v3h-2zM1427 579h2v3h-2zM1431 579h2v3h-2zM1399 586h2v3h-2zM1403 586h2v3h-2zM1407 586h2v3h-2zM1411 586h2v3h-2zM1415 586h2v3h-2zM1419 586h2v3h-2zM1427 586h2v3h-2zM1431 586h2v3h-2zM1395 593h2v3h-2zM1399 593h2v3h-2zM1403 593h2v3h-2zM1407 593h2v3h-2zM1419 593h2v3h-2zM1423 593h2v3h-2zM1427 593h2v3h-2zM1431 593h2v3h-2zM1395 600h2v3h-2zM1399 600h2v3h-2zM1403 600h2v3h-2zM1407 600h2v3h-2zM1415 600h2v3h-2zM1423 600h2v3h-2zM1427 600h2v3h-2zM1431 600h2v3h-2zM1399 607h2v3h-2zM1403 607h2v3h-2zM1411 607h2v3h-2zM1415 607h2v3h-2zM1419 607h2v3h-2zM1423 607h2v3h-2zM1427 607h2v3h-2zM1431 607h2v3h-2zM1395 614h2v3h-2zM1399 614h2v3h-2zM1403 614h2v3h-2zM1407 614h2v3h-2zM1411 614h2v3h-2zM1423 614h2v3h-2zM1431 614h2v3h-2zM1395 621h2v3h-2zM1399 621h2v3h-2zM1403 621h2v3h-2zM1407 621h2v3h-2zM1411 621h2v3h-2zM1415 621h2v3h-2zM1419 621h2v3h-2zM1427 621h2v3h-2zM1431 621h2v3h-2zM1399 628h2v3h-2zM1403 628h2v3h-2zM1415 628h2v3h-2zM1419 628h2v3h-2zM1423 628h2v3h-2zM1427 628h2v3h-2zM1431 628h2v3h-2zM1395 635h2v3h-2zM1399 635h2v3h-2zM1403 635h2v3h-2zM1407 635h2v3h-2zM1415 635h2v3h-2zM1419 635h2v3h-2zM1427 635h2v3h-2zM1431 635h2v3h-2zM1395 642h2v3h-2zM1399 642h2v3h-2zM1403 642h2v3h-2zM1415 642h2v3h-2zM1419 642h2v3h-2zM1423 642h2v3h-2zM1427 642h2v3h-2zM1431 642h2v3h-2zM1395 649h2v3h-2zM1399 649h2v3h-2zM1407 649h2v3h-2zM1411 649h2v3h-2zM1415 649h2v3h-2zM1419 649h2v3h-2zM1423 649h2v3h-2zM1427 649h2v3h-2zM1431 649h2v3h-2zM1399 656h2v3h-2zM1403 656h2v3h-2zM1407 656h2v3h-2zM1411 656h2v3h-2zM1415 656h2v3h-2zM1419 656h2v3h-2zM1423 656h2v3h-2zM1427 656h2v3h-2zM1431 656h2v3h-2zM1395 663h2v3h-2zM1399 663h2v3h-2zM1403 663h2v3h-2zM1411 663h2v3h-2zM1415 663h2v3h-2zM1423 663h2v3h-2zM1427 663h2v3h-2zM1431 663h2v3h-2zM1395 670h2v3h-2zM1399 670h2v3h-2zM1403 670h2v3h-2zM1407 670h2v3h-2zM1411 670h2v3h-2zM1415 670h2v3h-2zM1419 670h2v3h-2zM1423 670h2v3h-2zM1427 670h2v3h-2zM1395 677h2v3h-2zM1399 677h2v3h-2zM1403 677h2v3h-2zM1411 677h2v3h-2zM1415 677h2v3h-2zM1419 677h2v3h-2zM1423 677h2v3h-2zM1427 677h2v3h-2zM1431 677h2v3h-2zM1395 684h2v3h-2zM1399 684h2v3h-2zM1403 684h2v3h-2zM1407 684h2v3h-2zM1411 684h2v3h-2zM1415 684h2v3h-2zM1419 684h2v3h-2zM1423 684h2v3h-2zM1427 684h2v3h-2zM1431 684h2v3h-2zM1395 691h2v3h-2zM1399 691h2v3h-2zM1403 691h2v3h-2zM1407 691h2v3h-2zM1411 691h2v3h-2zM1415 691h2v3h-2zM1423 691h2v3h-2zM1427 691h2v3h-2zM1431 691h2v3h-2zM1395 698h2v3h-2zM1399 698h2v3h-2zM1403 698h2v3h-2zM1407 698h2v3h-2zM1411 698h2v3h-2zM1415 698h2v3h-2zM1419 698h2v3h-2zM1423 698h2v3h-2zM1427 698h2v3h-2zM1431 698h2v3h-2zM1395 705h2v3h-2zM1399 705h2v3h-2zM1407 705h2v3h-2zM1411 705h2v3h-2zM1415 705h2v3h-2zM1419 705h2v3h-2zM1423 705h2v3h-2zM1427 705h2v3h-2zM1431 705h2v3h-2zM1395 712h2v3h-2zM1399 712h2v3h-2zM1403 712h2v3h-2zM1407 712h2v3h-2zM1411 712h2v3h-2zM1415 712h2v3h-2zM1419 712h2v3h-2zM1427 712h2v3h-2zM1431 712h2v3h-2zM1395 719h2v3h-2zM1399 719h2v3h-2zM1403 719h2v3h-2zM1411 719h2v3h-2zM1415 719h2v3h-2zM1419 719h2v3h-2zM1423 719h2v3h-2zM1427 719h2v3h-2zM1395 726h2v3h-2zM1399 726h2v3h-2zM1411 726h2v3h-2zM1415 726h2v3h-2zM1419 726h2v3h-2zM1423 726h2v3h-2zM1427 726h2v3h-2zM1431 726h2v3h-2zM1395 733h2v3h-2zM1399 733h2v3h-2zM1407 733h2v3h-2zM1419 733h2v3h-2zM1423 733h2v3h-2zM1427 733h2v3h-2zM1431 733h2v3h-2zM1395 740h2v3h-2zM1399 740h2v3h-2zM1403 740h2v3h-2zM1411 740h2v3h-2zM1415 740h2v3h-2zM1419 740h2v3h-2zM1423 740h2v3h-2zM1427 740h2v3h-2zM1431 740h2v3h-2zM1399 747h2v3h-2zM1403 747h2v3h-2zM1407 747h2v3h-2zM1411 747h2v3h-2zM1415 747h2v3h-2zM1419 747h2v3h-2zM1423 747h2v3h-2zM1427 747h2v3h-2zM1431 747h2v3h-2zM1395 754h2v3h-2zM1399 754h2v3h-2zM1403 754h2v3h-2zM1407 754h2v3h-2zM1411 754h2v3h-2zM1415 754h2v3h-2zM1423 754h2v3h-2zM1427 754h2v3h-2zM1431 754h2v3h-2zM1395 761h2v3h-2zM1399 761h2v3h-2zM1403 761h2v3h-2zM1407 761h2v3h-2zM1411 761h2v3h-2zM1415 761h2v3h-2zM1419 761h2v3h-2zM1423 761h2v3h-2zM1395 768h2v3h-2zM1399 768h2v3h-2zM1407 768h2v3h-2zM1411 768h2v3h-2zM1415 768h2v3h-2zM1419 768h2v3h-2zM1423 768h2v3h-2zM1427 768h2v3h-2zM1431 768h2v3h-2zM1395 775h2v3h-2zM1399 775h2v3h-2zM1403 775h2v3h-2zM1407 775h2v3h-2zM1419 775h2v3h-2zM1423 775h2v3h-2zM1427 775h2v3h-2zM1431 775h2v3h-2z" fill="#686868"/>
<rect x="1437" y="600" width="49" height="23" fill="#d0d0d0"/>
<rect x="1437" y="623" width="49" height="161" fill="#aaaaaa"/>
<path d="M1440 627h2v4h-2zM1445 627h2v4h-2zM1450 627h2v4h-2zM1455 627h2v4h-2zM1460 627h2v4h-2zM1465 627h2v4h-2zM1475 627h2v4h-2zM1480 627h2v4h-2zM1445 635h2v4h-2zM1450 635h2v4h-2zM1455 635h2v4h-2zM1460 635h2v4h-2zM1465 635h2v4h-2zM1470 635h2v4h-2zM1475 635h2v4h-2zM1480 635h2v4h-2zM1440 643h2v4h-2zM1450 643h2v4h-2zM1455 643h2v4h-2zM1460 643h2v4h-2zM1465 643h2v4h-2zM1470 643h2v4h-2zM1475 643h2v4h-2zM1480 643h2v4h-2zM1440 651h2v4h-2zM1445 651h2v4h-2zM1450 651h2v4h-2zM1460 651h2v4h-2zM1465 651h2v4h-2zM1470 651h2v4h-2zM1475 651h2v4h-2zM1480 651h2v4h-2zM1440 659h2v4h-2zM1445 659h2v4h-2zM1450 659h2v4h-2zM1455 659h2v4h-2zM1460 659h2v4h-2zM1465 659h2v4h-2zM1470 659h2v4h-2zM1475 659h2v4h-2zM1480 659h2v4h-2zM1445 667h2v4h-2zM1450 667h2v4h-2zM1455 667h2v4h-2zM1460 667h2v4h-2zM1465 667h2v4h-2zM1475 667h2v4h-2zM1480 667h2v4h-2zM1440 675h2v4h-2zM1445 675h2v4h-2zM1450 675h2v4h-2zM1455 675h2v4h-2zM1460 675h2v4h-2zM1465 675h2v4h-2zM1470 675h2v4h-2zM1480 675h2v4h-2zM1440 683h2v4h-2zM1445 683h2v4h-2zM1450 683h2v4h-2zM1455 683h2v4h-2zM1465 683h2v4h-2zM1470 683h2v4h-2zM1480 683h2v4h-2zM1440 691h2v4h-2zM1445 691h2v4h-2zM1450 691h2v4h-2zM1460 691h2v4h-2zM1465 691h2v4h-2zM1470 691h2v4h-2zM1480 691h2v4h-2zM1440 699h2v4h-2zM1445 699h2v4h-2zM1450 699h2v4h-2zM1455 699h2v4h-2zM1460 699h2v4h-2zM1465 699h2v4h-2zM1470 699h2v4h-2zM1475 699h2v4h-2zM1480 699h2v4h-2zM1440 707h2v4h-2zM1445 707h2v4h-2zM1450 707h2v4h-2zM1455 707h2v4h-2zM1460 707h2v4h-2zM1465 707h2v4h-2zM1470 707h2v4h-2zM1445 715h2v4h-2zM1450 715h2v4h-2zM1455 715h2v4h-2zM1460 715h2v4h-2zM1465 715h2v4h-2zM1470 715h2v4h-2zM1475 715h2v4h-2zM1480 715h2v4h-2zM1440 723h2v4h-2zM1445 723h2v4h-2zM1450 723h2v4h-2zM1455 723h2v4h-2zM1460 723h2v4h-2zM1465 723h2v4h-2zM1470 723h2v4h-2zM1475 723h2v4h-2zM1480 723h2v4h-2zM1440 731h2v4h-2zM1445 731h2v4h-2zM1450 731h2v4h-2zM1455 731h2v4h-2zM1460 731h2v4h-2zM1465 731h2v4h-2zM1470 731h2v4h-2zM1480 731h2v4h-2zM1440 739h2v4h-2zM1445 739h2v4h-2zM1450 739h2v4h-2zM1455 739h2v4h-2zM1460 739h2v4h-2zM1465 739h2v4h-2zM1470 739h2v4h-2zM1440 747h2v4h-2zM1445 747h2v4h-2zM1450 747h2v4h-2zM1455 747h2v4h-2zM1460 747h2v4h-2zM1470 747h2v4h-2zM1475 747h2v4h-2zM1480 747h2v4h-2zM1440 755h2v4h-2zM1450 755h2v4h-2zM1455 755h2v4h-2zM1460 755h2v4h-2zM1465 755h2v4h-2zM1470 755h2v4h-2zM1475 755h2v4h-2zM1480 755h2v4h-2zM1440 763h2v4h-2zM1445 763h2v4h-2zM1450 763h2v4h-2zM1455 763h2v4h-2zM1460 763h2v4h-2zM1470 763h2v4h-2zM1475 763h2v4h-2zM1440 771h2v4h-2zM1445 771h2v4h-2zM1450 771h2v4h-2zM1460 771h2v4h-2zM1480 771h2v4h-2zM1440 779h2v4h-2zM1445 779h2v4h-2zM1450 779h2v4h-2zM1455 779h2v4h-2zM1460 779h2v4h-2zM1470 779h2v4h-2zM1475 779h2v4h-2zM1480 779h2v4h-2z" fill="#747474"/>
<rect x="1486" y="575" width="14" height="209" fill="#8a8a8a"/>
<path d="M1492 578h2v3h-2zM1496 578h2v3h-2zM1488 584h2v3h-2zM1492 584h2v3h-2zM1496 584h2v3h-2zM1488 590h2v3h-2zM1492 590h2v3h-2zM1496 590h2v3h-2zM1488 596h2v3h-2zM1492 596h2v3h-2zM1496 596h2v3h-2zM1488 602h2v3h-2zM1492 602h2v3h-2zM1496 602h2v3h-2zM1492 608h2v3h-2zM1496 608h2v3h-2zM1488 614h2v3h-2zM1492 614h2v3h-2zM1496 614h2v3h-2zM1488 620h2v3h-2zM1492 620h2v3h-2zM1496 620h2v3h-2zM1488 626h2v3h-2zM1492 626h2v3h-2zM1492 632h2v3h-2zM1496 632h2v3h-2zM1488 638h2v3h-2zM1492 638h2v3h-2zM1496 638h2v3h-2zM1488 644h2v3h-2zM1496 644h2v3h-2zM1488 650h2v3h-2zM1492 650h2v3h-2zM1496 650h2v3h-2zM1488 656h2v3h-2zM1492 656h2v3h-2zM1496 656h2v3h-2zM1492 662h2v3h-2zM1496 662h2v3h-2zM1488 668h2v3h-2zM1492 668h2v3h-2zM1496 668h2v3h-2zM1488 674h2v3h-2zM1492 674h2v3h-2zM1496 674h2v3h-2zM1492 680h2v3h-2zM1496 680h2v3h-2zM1488 686h2v3h-2zM1492 686h2v3h-2zM1488 692h2v3h-2zM1492 692h2v3h-2zM1496 692h2v3h-2zM1488 698h2v3h-2zM1496 698h2v3h-2zM1488 704h2v3h-2zM1492 704h2v3h-2zM1496 704h2v3h-2zM1488 710h2v3h-2zM1492 710h2v3h-2zM1496 710h2v3h-2zM1488 716h2v3h-2zM1492 716h2v3h-2zM1496 716h2v3h-2zM1488 722h2v3h-2zM1492 722h2v3h-2zM1488 728h2v3h-2zM1492 728h2v3h-2zM1496 728h2v3h-2zM1488 734h2v3h-2zM1492 734h2v3h-2zM1488 740h2v3h-2zM1496 740h2v3h-2zM1488 746h2v3h-2zM1496 746h2v3h-2zM1488 752h2v3h-2zM1492 752h2v3h-2zM1496 752h2v3h-2zM1488 758h2v3h-2zM1496 758h2v3h-2zM1488 764h2v3h-2zM1492 764h2v3h-2zM1496 764h2v3h-2zM1488 770h2v3h-2zM1492 770h2v3h-2zM1496 770h2v3h-2zM1488 776h2v3h-2zM1496 776h2v3h-2z" fill="#5c5c5c"/>
</g></g>
<g clip-path="url(#ringclip)" mask="url(#vmask)"><rect x="500" y="0" width="720" height="700" fill="#fafafa" opacity="0.6"/></g>
<g mask="url(#vmask)">
<g clip-path="url(#ringclip)"><rect x="500" y="0" width="720" height="700" fill="url(#dots)" mask="url(#dotmask)"/></g>
<g mask="url(#c2smask)"><circle cx="724" cy="183" r="481.5" fill="none" stroke="#f7f7f7" stroke-width="7"/></g>
<g clip-path="url(#c2in)">
<circle cx="503" cy="250" r="577" fill="none" stroke="#e2e2e2" stroke-width="34" filter="url(#soft2)" mask="url(#c2smask)"/>
<g clip-path="url(#noc3)"><rect x="500" y="0" width="600" height="400" fill="url(#dots2)" mask="url(#dotmask2)"/></g>
</g>
</g>
<g clip-path="url(#c1)">
<g clip-path="url(#c3in)"><circle cx="800" cy="162" r="126" fill="none" stroke="#ececec" stroke-width="14" filter="url(#soft)" mask="url(#c3mask)"/></g>
</g></svg>

<svg id="msw" width="1500" height="784" viewBox="0 0 1500 784" style="left:0;top:0;width:1500px;height:784px;">
<g fill="#1d2444">
<path d="M58 168 L58 90.5 L81 90.5 L99.7 138.4 L118 90.5 L141 90.5 L141 168 L124.8 168 L124.8 113 L103.4 168 L96 168 L74.1 113 L74.1 168 Z"/>
<path d="M229.8 90.5 L247.6 90.5 L261.3 145.8 L275.7 90.5 L288.9 90.5 L302.7 145.8 L315.9 90.5 L333.6 90.5 L313 168 L295.2 168 L282 115.4 L268.8 168 L251 168 Z"/>
</g>
<path d="M213 106 C207 99.5 198 97.5 188 97.5 C175 97.5 167 104 167 113 C167 124 177 127 190 130.5 C204 134 212.5 138 212.5 148 C212.5 157 203 161.5 189 161.5 C177 161.5 168 157 162 150.5" fill="none" stroke="#1d2444" stroke-width="16"/>
</svg>
<div id="firm">MURPHY SCHILLER &amp; WILKES LLP</div>
<div id="rule"></div>
<div id="q2">Q2 2025</div>
<div id="title"><div style="transform:scaleX(1.08);transform-origin:0 0;">Transaction</div><div style="transform:scaleX(1.038);transform-origin:0 0;">Highlights</div></div>

<div class="card" style="left:54px;top:300px;width:338px;height:129px;"><div class="amt" style="left:25px;transform:scaleX(1.191)">$90,000,000</div><div class="desc">LAND ACQUISITION FOR THE<br>DEVELOPMENT OF MULTIFAMILY<br>PROJECT IN MORRIS COUNTY, NJ</div></div>
<div class="card" style="left:410px;top:300px;width:331px;height:129px;"><div class="amt" style="left:24.4px;transform:scaleX(1.171)">$43,550,000</div><div class="desc">FREDDIE MAC LOAN SECURED BY<br>MULTIFAMILY DEVELOPMENT IN<br>NORTHERN VIRGINIA</div></div>
<div class="card" style="left:759px;top:300px;width:330px;height:129px;"><div class="amt" style="left:26.3px;transform:scaleX(1.199)">$23,000,000</div><div class="desc">LOAN FOR COMMERCIAL<br>PROPERTY IN<br>PARSIPPANY, NJ</div></div>
<div class="card" style="left:1107px;top:300px;width:338px;height:129px;"><div class="amt" style="left:25.6px;transform:scaleX(1.156)">$18,000,000</div><div class="desc">REFINANCE OF FLEX<br>INDUSTRIAL PROPERTY IN<br>UNION COUNTY, NJ</div></div>

<div class="card" style="left:54px;top:450px;width:338px;height:129px;"><div class="amt" style="left:26.3px;transform:scaleX(1.161)">$18,000,000</div><div class="desc">TERM LOAN TO ENERGY<br>INDUSTRY CONTRACTOR IN NJ</div></div>
<div class="card" style="left:410px;top:450px;width:331px;height:129px;"><div class="amt" style="left:25.3px;transform:scaleX(1.118)">$14,210,000</div><div class="desc">REFINANCE OF A MULTIFAMILY<br>PROPERTY IN LAFAYETTE, LA</div></div>
<div class="card" style="left:759px;top:450px;width:330px;height:129px;"><div class="amt" style="left:25px;transform:scaleX(1.097)">$14,100,000</div><div class="desc">PURCHASE AND FINANCING OF<br>OFFICE BUILDING AND VACANT<br>LAND IN MORRIS COUNTY, NJ</div></div>
<div class="card" style="left:1107px;top:450px;width:338px;height:129px;"><div class="amt" style="left:25.6px;transform:scaleX(1.095)">$10,100,000</div><div class="desc">REFINANCE OF A MULTIFAMILY<br>PROPERTY IN HUDSON COUNTY, NJ</div></div>

<div class="card" style="left:54px;top:599px;width:338px;height:129px;"><div class="amt" style="left:26.3px;transform:scaleX(1.151)">$10,000,000</div><div class="desc">SECOND MORTGAGE LOAN FOR<br>IMPROVEMENTS TO INDUSTRIAL<br>PROPERTY IN MERCER COUNTY, NJ</div></div>
<div class="card" style="left:410px;top:599px;width:331px;height:129px;"><div class="amt" style="left:25.3px;transform:scaleX(1.168)">$8,250,000</div><div class="desc">ACQUISITION OF INDUSTRIAL<br>PROPERTY IN SADDLE BROOK, NJ</div></div>
<div class="card" style="left:759px;top:599px;width:330px;height:129px;"><div class="amt" style="left:25.4px;transform:scaleX(1.137)">85,000 SF</div><div class="desc">LEASE OF INDUSTRIAL BUILDING<br>IN SOUTH BRUNSWICK, NJ</div></div>
</body></html>
